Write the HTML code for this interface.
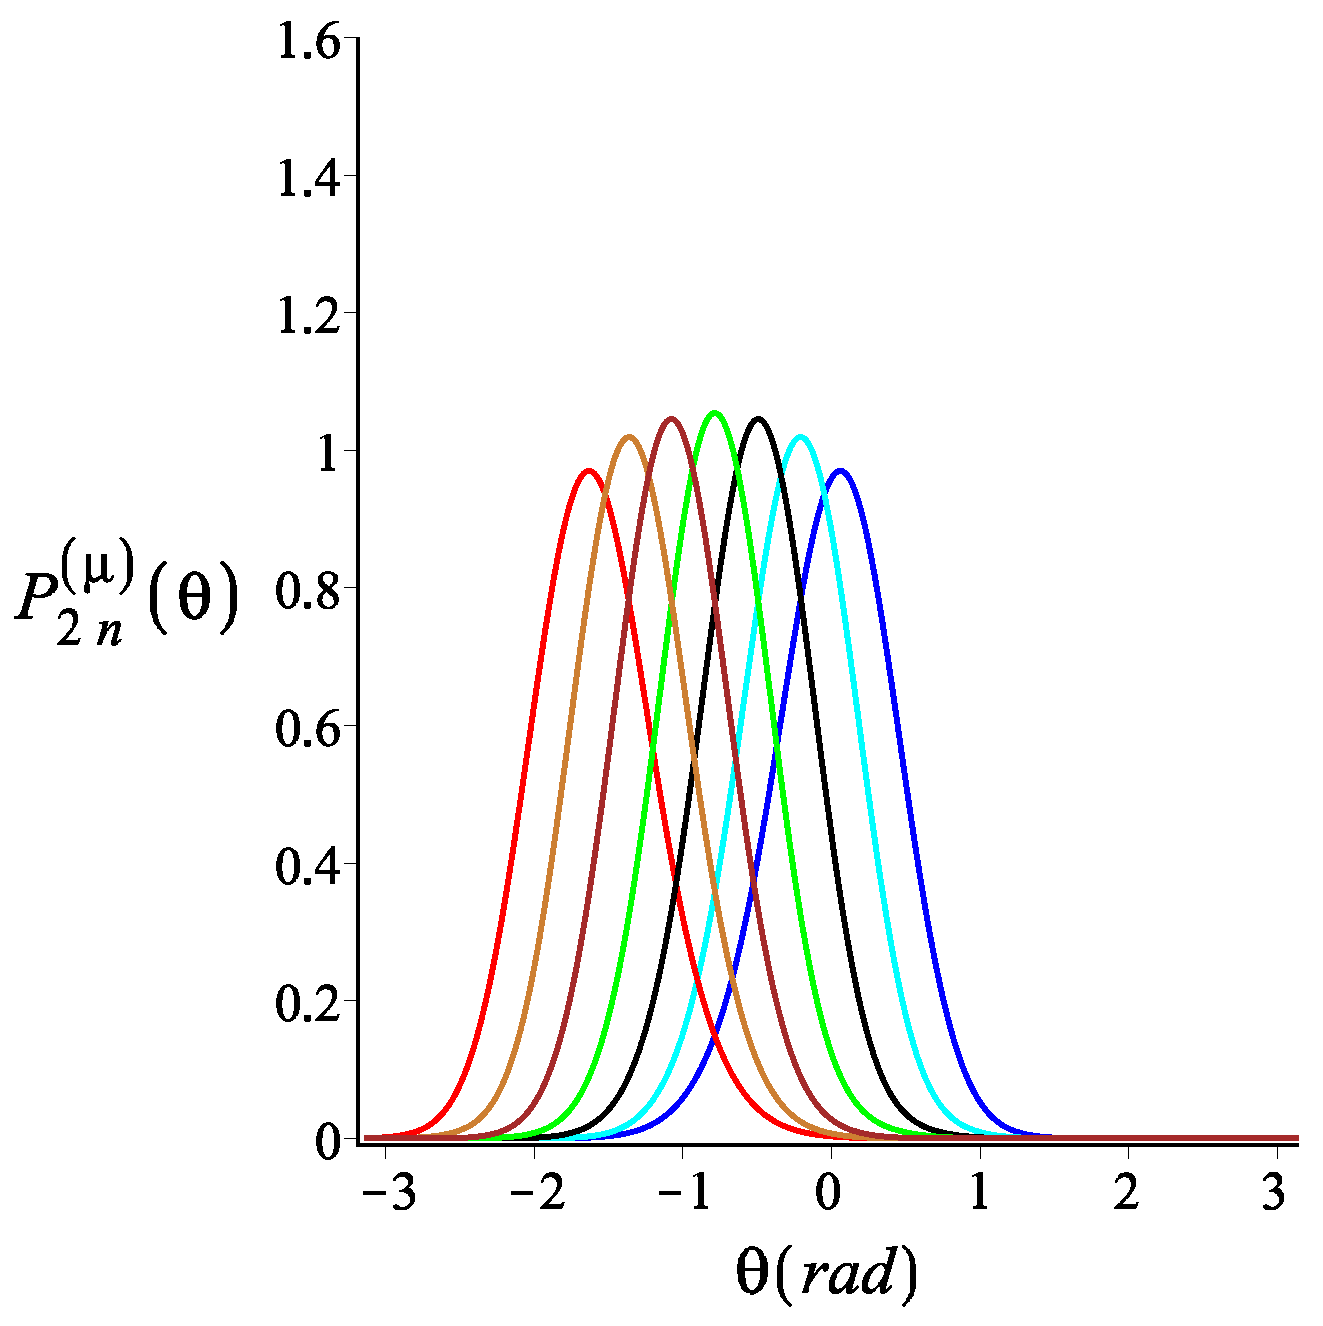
<!DOCTYPE html>
<html><head><meta charset="utf-8"><style>
html,body{margin:0;padding:0;background:#fff;}
svg{display:block;}
text{font-family:"Liberation Serif",serif;font-size:100px;}
</style></head><body>
<svg width="1323" height="1326" viewBox="0 0 1323 1326" role="img" aria-label="Plot of P 2n (mu) (theta) versus theta (rad)">
<title>P&#8322;&#8345;&#8317;&#956;&#8318;(&#952;) versus &#952;(rad)</title>
<desc>Y axis: P_2n^(&#956;)(&#952;), ticks 0, 0.2, 0.4, 0.6, 0.8, 1, 1.2, 1.4, 1.6. X axis: &#952;(rad), ticks &#8722;3, &#8722;2, &#8722;1, 0, 1, 2, 3. Seven curves: red, bronze, brown, green, black, cyan, blue.</desc>
<rect width="1323" height="1326" fill="#fff"/>
<g fill="none" stroke-width="6.0" stroke-linejoin="round" stroke-linecap="butt" shape-rendering="crispEdges">
<path d="M364.4,1138.0 425.9,1138.0 427.3,1138.0 428.7,1138.0 430.1,1138.0 431.5,1138.0 432.9,1138.0 434.4,1138.0 435.8,1138.0 437.2,1138.0 438.6,1138.0 440.0,1138.0 441.4,1138.0 442.8,1138.0 444.2,1138.0 445.6,1138.0 447.0,1138.0 448.4,1138.0 449.9,1138.0 451.3,1138.0 452.7,1138.0 454.1,1138.0 455.5,1138.0 456.9,1138.0 458.3,1138.0 459.7,1138.0 461.1,1138.0 462.5,1138.0 463.9,1138.0 465.3,1138.0 466.8,1138.0 468.2,1138.0 469.6,1138.0 471.0,1138.0 472.4,1138.0 473.8,1138.0 475.2,1138.0 476.6,1138.0 478.0,1138.0 479.4,1138.0 480.8,1138.0 482.2,1138.0 483.7,1138.0 485.1,1138.0 486.5,1138.0 487.9,1138.0 489.3,1138.0 490.7,1138.0 492.1,1138.0 493.5,1138.0 494.9,1138.0 496.3,1138.0 497.7,1138.0 499.1,1138.0 500.6,1138.0 502.0,1138.0 503.4,1138.0 504.8,1138.0 506.2,1138.0 507.6,1138.0 509.0,1138.0 510.4,1138.0 511.8,1138.0 513.2,1138.0 514.6,1138.0 516.0,1138.0 517.5,1138.0 518.9,1138.0 520.3,1138.0 521.7,1138.0 523.1,1138.0 524.5,1138.0 525.9,1138.0 527.3,1138.0 528.7,1138.0 530.1,1138.0 531.5,1138.0 532.9,1138.0 534.4,1138.0 535.8,1138.0 537.2,1138.0 538.6,1138.0 540.0,1138.0 541.4,1138.0 542.8,1138.0 544.2,1138.0 545.6,1138.0 547.0,1138.0 548.4,1138.0 549.8,1138.0 551.3,1138.0 552.7,1138.0 554.1,1138.0 555.5,1138.0 556.9,1138.0 558.3,1138.0 559.7,1138.0 561.1,1138.0 562.5,1138.0 563.9,1138.0 565.3,1138.0 566.7,1137.9 568.2,1137.9 569.6,1137.9 571.0,1137.9 572.4,1137.9 573.8,1137.9 575.2,1137.9 576.6,1137.9 578.0,1137.8 579.4,1137.8 580.8,1137.8 582.2,1137.8 583.6,1137.7 585.1,1137.7 586.5,1137.6 587.9,1137.6 589.3,1137.5 590.7,1137.5 592.1,1137.4 593.5,1137.3 594.9,1137.3 596.3,1137.2 597.7,1137.1 599.1,1137.0 600.5,1136.9 602.0,1136.8 603.4,1136.7 604.8,1136.5 606.2,1136.4 607.6,1136.3 609.0,1136.1 610.4,1135.9 611.8,1135.8 613.2,1135.6 614.6,1135.4 616.0,1135.2 617.5,1135.0 618.9,1134.8 620.3,1134.5 621.7,1134.3 623.1,1134.0 624.5,1133.8 625.9,1133.5 627.3,1133.2 628.7,1132.9 630.1,1132.5 631.5,1132.2 632.9,1131.8 634.4,1131.4 635.8,1131.0 637.2,1130.6 638.6,1130.1 640.0,1129.7 641.4,1129.1 642.8,1128.6 644.2,1128.0 645.6,1127.5 647.1,1126.8 648.5,1126.2 649.9,1125.5 651.4,1124.8 652.8,1124.0 654.3,1123.2 655.7,1122.4 657.2,1121.5 658.6,1120.6 660.1,1119.6 661.6,1118.6 663.0,1117.5 664.5,1116.4 666.0,1115.3 667.4,1114.1 668.9,1112.8 670.4,1111.5 671.9,1110.1 673.3,1108.7 674.8,1107.2 676.3,1105.6 677.8,1104.0 679.2,1102.3 680.7,1100.6 682.2,1098.7 683.7,1096.8 685.2,1094.8 686.6,1092.8 688.1,1090.6 689.6,1088.4 691.1,1086.1 692.5,1083.7 694.0,1081.2 695.5,1078.7 697.0,1076.0 698.4,1073.3 699.9,1070.4 701.4,1067.5 702.8,1064.5 704.3,1061.3 705.7,1058.1 707.2,1054.7 708.7,1051.3 710.1,1047.7 711.6,1044.1 713.0,1040.3 714.5,1036.4 715.9,1032.4 717.3,1028.3 718.8,1024.1 720.2,1019.7 721.6,1015.2 723.1,1010.7 724.5,1006.0 725.9,1001.2 727.3,996.2 728.8,991.2 730.2,986.0 731.6,980.7 733.0,975.3 734.4,969.8 735.8,964.2 737.2,958.4 738.6,952.5 740.0,946.5 741.4,940.4 742.8,934.2 744.1,927.9 745.5,921.4 746.9,914.9 748.3,908.2 749.6,901.5 751.0,894.6 752.4,887.6 753.7,880.6 755.1,873.4 756.4,866.2 757.8,858.8 759.1,851.4 760.4,843.9 761.8,836.4 763.1,828.7 764.4,821.0 765.8,813.3 767.1,805.5 768.4,797.6 769.7,789.7 771.0,781.7 772.3,773.7 773.6,765.7 775.0,757.6 776.2,749.6 777.5,741.5 778.8,733.4 780.1,725.3 781.4,717.2 782.7,709.1 784.0,701.1 785.2,693.1 786.5,685.1 787.8,677.1 789.1,669.2 790.3,661.4 791.6,653.6 792.8,645.9 794.1,638.2 795.4,630.7 796.6,623.2 797.9,615.8 799.1,608.6 800.4,601.5 801.6,594.4 802.8,587.5 804.1,580.8 805.3,574.2 806.5,567.7 807.8,561.4 809.0,555.2 810.2,549.3 811.5,543.5 812.7,537.9 813.9,532.4 815.1,527.2 816.3,522.2 817.6,517.4 818.8,512.7 820.0,508.4 821.2,504.2 822.4,500.2 823.6,496.5 824.8,493.1 826.0,489.8 827.2,486.8 828.5,484.1 829.7,481.6 830.9,479.4 832.1,477.4 833.3,475.7 834.5,474.2 835.7,473.0 836.9,472.1 838.1,471.4 839.3,471.0 840.5,470.9 841.7,471.0 842.8,471.4 844.0,472.1 845.2,473.0 846.4,474.2 847.5,475.7 848.7,477.4 849.9,479.4 851.0,481.6 852.2,484.1 853.4,486.8 854.5,489.8 855.7,493.1 856.9,496.5 858.1,500.2 859.2,504.2 860.4,508.4 861.6,512.7 862.7,517.4 863.9,522.2 865.1,527.2 866.2,532.4 867.4,537.9 868.6,543.5 869.7,549.3 870.9,555.2 872.1,561.4 873.2,567.7 874.4,574.2 875.6,580.8 876.7,587.5 877.9,594.4 879.1,601.5 880.2,608.6 881.4,615.8 882.6,623.2 883.7,630.7 884.9,638.2 886.0,645.9 887.2,653.6 888.4,661.4 889.5,669.2 890.7,677.1 891.9,685.1 893.0,693.1 894.2,701.1 895.3,709.1 896.5,717.2 897.7,725.3 898.8,733.4 900.0,741.5 901.1,749.6 902.3,757.6 903.4,765.7 904.6,773.7 905.8,781.7 906.9,789.7 908.1,797.6 909.2,805.5 910.4,813.3 911.5,821.0 912.7,828.7 913.8,836.4 915.0,843.9 916.1,851.4 917.3,858.8 918.5,866.2 919.6,873.4 920.8,880.6 921.9,887.6 923.1,894.6 924.2,901.5 925.3,908.2 926.5,914.9 927.6,921.4 928.8,927.9 929.9,934.2 931.1,940.4 932.2,946.5 933.4,952.5 934.5,958.4 935.7,964.2 936.8,969.8 938.0,975.3 939.1,980.7 940.2,986.0 941.4,991.2 942.5,996.2 943.7,1001.2 944.8,1006.0 946.0,1010.7 947.1,1015.2 948.2,1019.7 949.4,1024.1 950.5,1028.3 951.7,1032.4 952.8,1036.4 953.9,1040.3 955.1,1044.1 956.2,1047.7 957.4,1051.3 958.5,1054.7 959.6,1058.1 960.8,1061.3 961.9,1064.5 963.0,1067.5 964.2,1070.4 965.3,1073.3 966.5,1076.0 967.6,1078.7 968.7,1081.2 969.9,1083.7 971.0,1086.1 972.1,1088.4 973.3,1090.6 974.4,1092.8 975.6,1094.8 976.7,1096.8 977.8,1098.7 979.0,1100.6 980.1,1102.3 981.2,1104.0 982.4,1105.6 983.5,1107.2 984.7,1108.7 985.8,1110.1 986.9,1111.5 988.1,1112.8 989.2,1114.1 990.4,1115.3 991.5,1116.4 992.6,1117.5 993.8,1118.6 994.9,1119.6 996.1,1120.6 997.2,1121.5 998.4,1122.4 999.5,1123.2 1000.6,1124.0 1001.8,1124.8 1002.9,1125.5 1004.1,1126.2 1005.2,1126.8 1006.4,1127.5 1007.5,1128.0 1008.7,1128.6 1009.8,1129.1 1011.0,1129.7 1012.1,1130.1 1013.3,1130.6 1014.5,1131.0 1015.6,1131.4 1016.8,1131.8 1017.9,1132.2 1019.1,1132.5 1020.2,1132.9 1021.4,1133.2 1022.5,1133.5 1023.7,1133.8 1024.8,1134.0 1026.0,1134.3 1027.1,1134.5 1028.3,1134.8 1029.4,1135.0 1030.6,1135.2 1031.8,1135.4 1032.9,1135.6 1034.1,1135.8 1035.2,1135.9 1036.4,1136.1 1037.5,1136.3 1038.7,1136.4 1039.8,1136.5 1041.0,1136.7 1042.1,1136.8 1043.3,1136.9 1044.4,1137.0 1045.6,1137.1 1046.7,1137.2 1047.9,1137.3 1049.1,1137.3 1050.2,1137.4 1051.4,1137.5 1052.5,1137.5 1053.7,1137.6 1054.8,1137.6 1056.0,1137.7 1057.1,1137.7 1058.3,1137.8 1059.4,1137.8 1060.6,1137.8 1061.7,1137.8 1062.9,1137.9 1064.0,1137.9 1065.2,1137.9 1066.4,1137.9 1067.5,1137.9 1068.7,1137.9 1069.8,1137.9 1071.0,1137.9 1072.1,1138.0 1073.3,1138.0 1074.4,1138.0 1075.6,1138.0 1076.7,1138.0 1077.9,1138.0 1079.0,1138.0 1080.2,1138.0 1081.4,1138.0 1082.5,1138.0 1083.7,1138.0 1084.8,1138.0 1086.0,1138.0 1087.1,1138.0 1088.3,1138.0 1089.4,1138.0 1090.6,1138.0 1091.7,1138.0 1092.9,1138.0 1094.0,1138.0 1095.2,1138.0 1096.3,1138.0 1097.5,1138.0 1098.7,1138.0 1099.8,1138.0 1101.0,1138.0 1102.1,1138.0 1103.3,1138.0 1104.4,1138.0 1105.6,1138.0 1106.7,1138.0 1107.9,1138.0 1109.0,1138.0 1110.2,1138.0 1111.3,1138.0 1112.5,1138.0 1113.6,1138.0 1114.8,1138.0 1116.0,1138.0 1117.1,1138.0 1118.3,1138.0 1119.4,1138.0 1120.6,1138.0 1121.7,1138.0 1122.9,1138.0 1124.0,1138.0 1125.2,1138.0 1126.3,1138.0 1127.5,1138.0 1128.6,1138.0 1129.8,1138.0 1130.9,1138.0 1132.1,1138.0 1133.3,1138.0 1134.4,1138.0 1135.6,1138.0 1136.7,1138.0 1137.9,1138.0 1139.0,1138.0 1140.2,1138.0 1141.3,1138.0 1142.5,1138.0 1143.6,1138.0 1144.8,1138.0 1145.9,1138.0 1147.1,1138.0 1148.2,1138.0 1149.4,1138.0 1150.6,1138.0 1151.7,1138.0 1152.9,1138.0 1154.0,1138.0 1155.2,1138.0 1156.3,1138.0 1157.5,1138.0 1158.6,1138.0 1159.8,1138.0 1160.9,1138.0 1162.1,1138.0 1163.2,1138.0 1164.4,1138.0 1165.6,1138.0 1166.7,1138.0 1167.9,1138.0 1169.0,1138.0 1170.2,1138.0 1171.3,1138.0 1172.5,1138.0 1173.6,1138.0 1174.8,1138.0 1175.9,1138.0 1177.1,1138.0 1178.2,1138.0 1179.4,1138.0 1180.5,1138.0 1181.7,1138.0 1182.9,1138.0 1184.0,1138.0 1185.2,1138.0 1186.3,1138.0 1298.6,1138.0" stroke="#0000FF"/>
<path d="M364.4,1138.0 425.9,1138.0 427.3,1138.0 428.7,1138.0 430.1,1138.0 431.5,1138.0 432.9,1138.0 434.4,1138.0 435.8,1138.0 437.2,1138.0 438.6,1138.0 440.0,1138.0 441.4,1138.0 442.8,1138.0 444.2,1138.0 445.6,1138.0 447.0,1138.0 448.4,1138.0 449.9,1138.0 451.3,1138.0 452.7,1138.0 454.1,1138.0 455.5,1138.0 456.9,1138.0 458.3,1138.0 459.7,1138.0 461.1,1138.0 462.5,1138.0 463.9,1138.0 465.3,1138.0 466.8,1138.0 468.2,1138.0 469.6,1138.0 471.0,1138.0 472.4,1138.0 473.8,1138.0 475.2,1138.0 476.6,1138.0 478.0,1138.0 479.4,1138.0 480.8,1138.0 482.2,1138.0 483.7,1138.0 485.1,1138.0 486.5,1138.0 487.9,1138.0 489.3,1138.0 490.7,1138.0 492.1,1138.0 493.5,1138.0 494.9,1138.0 496.3,1138.0 497.7,1138.0 499.1,1138.0 500.6,1138.0 502.0,1138.0 503.4,1138.0 504.8,1138.0 506.2,1138.0 507.6,1138.0 509.0,1138.0 510.4,1138.0 511.8,1138.0 513.2,1138.0 514.6,1138.0 516.0,1138.0 517.5,1138.0 518.9,1138.0 520.3,1138.0 521.7,1138.0 523.1,1138.0 524.5,1138.0 525.9,1138.0 527.3,1138.0 528.7,1138.0 530.1,1138.0 531.5,1138.0 532.9,1138.0 534.4,1138.0 535.8,1138.0 537.2,1138.0 538.6,1138.0 540.0,1138.0 541.4,1138.0 542.8,1138.0 544.2,1138.0 545.6,1138.0 547.0,1138.0 548.4,1138.0 549.8,1138.0 551.3,1138.0 552.7,1138.0 554.1,1138.0 555.5,1138.0 556.9,1138.0 558.3,1138.0 559.7,1138.0 561.1,1138.0 562.5,1138.0 563.9,1138.0 565.3,1138.0 566.7,1137.9 568.2,1137.9 569.6,1137.9 571.0,1137.9 572.4,1137.9 573.8,1137.9 575.2,1137.9 576.6,1137.9 578.0,1137.8 579.4,1137.8 580.8,1137.8 582.2,1137.8 583.6,1137.7 585.1,1137.7 586.5,1137.6 587.9,1137.6 589.3,1137.5 590.7,1137.5 592.1,1137.4 593.5,1137.3 594.9,1137.3 596.3,1137.2 597.7,1137.1 599.1,1137.0 600.5,1136.9 602.0,1136.8 603.4,1136.7 604.8,1136.5 606.2,1136.4 607.6,1136.3 609.0,1136.1 610.4,1135.9 611.8,1135.8 613.2,1135.6 614.6,1135.4 616.0,1135.2 617.5,1135.0 618.9,1134.8 620.3,1134.5 621.7,1134.3 623.1,1134.0 624.5,1133.8 625.9,1133.5 627.3,1133.2 628.7,1132.9 630.1,1132.5 631.5,1132.2 632.9,1131.8 634.4,1131.4 635.8,1131.0 637.2,1130.6 638.6,1130.1 640.0,1129.7 641.4,1129.1 642.8,1128.6 644.2,1128.0 645.6,1127.5 647.1,1126.8 648.5,1126.2 649.9,1125.5 651.4,1124.8 652.8,1124.0 654.3,1123.2 655.7,1122.4 657.2,1121.5 658.6,1120.6 660.1,1119.6 661.6,1118.6 663.0,1117.5 664.5,1116.4 666.0,1115.3 667.4,1114.1 668.9,1112.8 670.4,1111.5 671.9,1110.1 673.3,1108.7 674.8,1107.2 676.3,1105.6 677.8,1104.0 679.2,1102.3 680.7,1100.6 682.2,1098.7 683.7,1096.8 685.2,1094.8 686.6,1092.8 688.1,1090.6 689.6,1088.4 691.1,1086.1 692.5,1083.7 694.0,1081.2 695.5,1078.7 697.0,1076.0 698.4,1073.3 699.9,1070.4 701.4,1067.5 702.8,1064.5 704.3,1061.3 705.7,1058.1 707.2,1054.7 708.7,1051.3 710.1,1047.7 711.6,1044.1 713.0,1040.3 714.5,1036.4 715.9,1032.4 717.3,1028.3 718.8,1024.1 720.2,1019.7 721.6,1015.2 723.1,1010.7 724.5,1006.0 725.9,1001.2 727.3,996.2 728.8,991.2 730.2,986.0 731.6,980.7 733.0,975.3 734.4,969.8 735.8,964.2 737.2,958.4 738.6,952.5 740.0,946.5 741.4,940.4 742.8,934.2 744.1,927.9 745.5,921.4 746.9,914.9 748.3,908.2 749.6,901.5 751.0,894.6 752.4,887.6 753.7,880.6 755.1,873.4 756.4,866.2 757.8,858.8 759.1,851.4 760.4,843.9 761.8,836.4 763.1,828.7 764.4,821.0 765.8,813.3 767.1,805.5 768.4,797.6 769.7,789.7 771.0,781.7 772.3,773.7 773.6,765.7 775.0,757.6 776.2,749.6 777.5,741.5 778.8,733.4 780.1,725.3 781.4,717.2 782.7,709.1 784.0,701.1 785.2,693.1 786.5,685.1 787.8,677.1 789.1,669.2 790.3,661.4 791.6,653.6 792.8,645.9 794.1,638.2 795.4,630.7 796.6,623.2 797.9,615.8 799.1,608.6 800.4,601.5 801.6,594.4 802.8,587.5 804.1,580.8 805.3,574.2 806.5,567.7 807.8,561.4 809.0,555.2 810.2,549.3 811.5,543.5 812.7,537.9 813.9,532.4 815.1,527.2 816.3,522.2 817.6,517.4 818.8,512.7 820.0,508.4 821.2,504.2 822.4,500.2 823.6,496.5 824.8,493.1 826.0,489.8 827.2,486.8 828.5,484.1 829.7,481.6 830.9,479.4 832.1,477.4 833.3,475.7 834.5,474.2 835.7,473.0 836.9,472.1 838.1,471.4 839.3,471.0 840.5,470.9 841.7,471.0 842.8,471.4 844.0,472.1 845.2,473.0 846.4,474.2 847.5,475.7 848.7,477.4 849.9,479.4 851.0,481.6 852.2,484.1 853.4,486.8 854.5,489.8 855.7,493.1 856.9,496.5 858.1,500.2 859.2,504.2 860.4,508.4 861.6,512.7 862.7,517.4 863.9,522.2 865.1,527.2 866.2,532.4 867.4,537.9 868.6,543.5 869.7,549.3 870.9,555.2 872.1,561.4 873.2,567.7 874.4,574.2 875.6,580.8 876.7,587.5 877.9,594.4 879.1,601.5 880.2,608.6 881.4,615.8 882.6,623.2 883.7,630.7 884.9,638.2 886.0,645.9 887.2,653.6 888.4,661.4 889.5,669.2 890.7,677.1 891.9,685.1 893.0,693.1 894.2,701.1 895.3,709.1 896.5,717.2 897.7,725.3 898.8,733.4 900.0,741.5 901.1,749.6 902.3,757.6 903.4,765.7 904.6,773.7 905.8,781.7 906.9,789.7 908.1,797.6 909.2,805.5 910.4,813.3 911.5,821.0 912.7,828.7 913.8,836.4 915.0,843.9 916.1,851.4 917.3,858.8 918.5,866.2 919.6,873.4 920.8,880.6 921.9,887.6 923.1,894.6 924.2,901.5 925.3,908.2 926.5,914.9 927.6,921.4 928.8,927.9 929.9,934.2 931.1,940.4 932.2,946.5 933.4,952.5 934.5,958.4 935.7,964.2 936.8,969.8 938.0,975.3 939.1,980.7 940.2,986.0 941.4,991.2 942.5,996.2 943.7,1001.2 944.8,1006.0 946.0,1010.7 947.1,1015.2 948.2,1019.7 949.4,1024.1 950.5,1028.3 951.7,1032.4 952.8,1036.4 953.9,1040.3 955.1,1044.1 956.2,1047.7 957.4,1051.3 958.5,1054.7 959.6,1058.1 960.8,1061.3 961.9,1064.5 963.0,1067.5 964.2,1070.4 965.3,1073.3 966.5,1076.0 967.6,1078.7 968.7,1081.2 969.9,1083.7 971.0,1086.1 972.1,1088.4 973.3,1090.6 974.4,1092.8 975.6,1094.8 976.7,1096.8 977.8,1098.7 979.0,1100.6 980.1,1102.3 981.2,1104.0 982.4,1105.6 983.5,1107.2 984.7,1108.7 985.8,1110.1 986.9,1111.5 988.1,1112.8 989.2,1114.1 990.4,1115.3 991.5,1116.4 992.6,1117.5 993.8,1118.6 994.9,1119.6 996.1,1120.6 997.2,1121.5 998.4,1122.4 999.5,1123.2 1000.6,1124.0 1001.8,1124.8 1002.9,1125.5 1004.1,1126.2 1005.2,1126.8 1006.4,1127.5 1007.5,1128.0 1008.7,1128.6 1009.8,1129.1 1011.0,1129.7 1012.1,1130.1 1013.3,1130.6 1014.5,1131.0 1015.6,1131.4 1016.8,1131.8 1017.9,1132.2 1019.1,1132.5 1020.2,1132.9 1021.4,1133.2 1022.5,1133.5 1023.7,1133.8 1024.8,1134.0 1026.0,1134.3 1027.1,1134.5 1028.3,1134.8 1029.4,1135.0 1030.6,1135.2 1031.8,1135.4 1032.9,1135.6 1034.1,1135.8 1035.2,1135.9 1036.4,1136.1 1037.5,1136.3 1038.7,1136.4 1039.8,1136.5 1041.0,1136.7 1042.1,1136.8 1043.3,1136.9 1044.4,1137.0 1045.6,1137.1 1046.7,1137.2 1047.9,1137.3 1049.1,1137.3 1050.2,1137.4 1051.4,1137.5 1052.5,1137.5 1053.7,1137.6 1054.8,1137.6 1056.0,1137.7 1057.1,1137.7 1058.3,1137.8 1059.4,1137.8 1060.6,1137.8 1061.7,1137.8 1062.9,1137.9 1064.0,1137.9 1065.2,1137.9 1066.4,1137.9 1067.5,1137.9 1068.7,1137.9 1069.8,1137.9 1071.0,1137.9 1072.1,1138.0 1073.3,1138.0 1074.4,1138.0 1075.6,1138.0 1076.7,1138.0 1077.9,1138.0 1079.0,1138.0 1080.2,1138.0 1081.4,1138.0 1082.5,1138.0 1083.7,1138.0 1084.8,1138.0 1086.0,1138.0 1087.1,1138.0 1088.3,1138.0 1089.4,1138.0 1090.6,1138.0 1091.7,1138.0 1092.9,1138.0 1094.0,1138.0 1095.2,1138.0 1096.3,1138.0 1097.5,1138.0 1098.7,1138.0 1099.8,1138.0 1101.0,1138.0 1102.1,1138.0 1103.3,1138.0 1104.4,1138.0 1105.6,1138.0 1106.7,1138.0 1107.9,1138.0 1109.0,1138.0 1110.2,1138.0 1111.3,1138.0 1112.5,1138.0 1113.6,1138.0 1114.8,1138.0 1116.0,1138.0 1117.1,1138.0 1118.3,1138.0 1119.4,1138.0 1120.6,1138.0 1121.7,1138.0 1122.9,1138.0 1124.0,1138.0 1125.2,1138.0 1126.3,1138.0 1127.5,1138.0 1128.6,1138.0 1129.8,1138.0 1130.9,1138.0 1132.1,1138.0 1133.3,1138.0 1134.4,1138.0 1135.6,1138.0 1136.7,1138.0 1137.9,1138.0 1139.0,1138.0 1140.2,1138.0 1141.3,1138.0 1142.5,1138.0 1143.6,1138.0 1144.8,1138.0 1145.9,1138.0 1147.1,1138.0 1148.2,1138.0 1149.4,1138.0 1150.6,1138.0 1151.7,1138.0 1152.9,1138.0 1154.0,1138.0 1155.2,1138.0 1156.3,1138.0 1157.5,1138.0 1158.6,1138.0 1159.8,1138.0 1160.9,1138.0 1162.1,1138.0 1163.2,1138.0 1164.4,1138.0 1165.6,1138.0 1166.7,1138.0 1167.9,1138.0 1169.0,1138.0 1170.2,1138.0 1171.3,1138.0 1172.5,1138.0 1173.6,1138.0 1174.8,1138.0 1175.9,1138.0 1177.1,1138.0 1178.2,1138.0 1179.4,1138.0 1180.5,1138.0 1181.7,1138.0 1182.9,1138.0 1184.0,1138.0 1185.2,1138.0 1186.3,1138.0 1298.6,1138.0" stroke="#0000FF" stroke-width="2"/>
<path d="M364.4,1138.0 434.2,1138.0 435.4,1138.0 436.6,1138.0 437.9,1138.0 439.1,1138.0 440.3,1138.0 441.5,1138.0 442.7,1138.0 443.9,1138.0 445.1,1138.0 446.3,1138.0 447.6,1138.0 448.8,1138.0 450.0,1138.0 451.2,1138.0 452.4,1138.0 453.6,1138.0 454.8,1138.0 456.0,1138.0 457.3,1138.0 458.5,1138.0 459.7,1138.0 460.9,1138.0 462.1,1138.0 463.3,1138.0 464.5,1138.0 465.7,1138.0 467.0,1138.0 468.2,1138.0 469.4,1138.0 470.6,1138.0 471.8,1138.0 473.0,1138.0 474.2,1138.0 475.4,1138.0 476.7,1138.0 477.9,1138.0 479.1,1138.0 480.3,1138.0 481.5,1138.0 482.7,1138.0 483.9,1138.0 485.1,1138.0 486.4,1138.0 487.6,1138.0 488.8,1138.0 490.0,1138.0 491.2,1138.0 492.4,1138.0 493.6,1138.0 494.8,1138.0 496.1,1138.0 497.3,1138.0 498.5,1138.0 499.7,1138.0 500.9,1138.0 502.1,1138.0 503.3,1138.0 504.5,1138.0 505.8,1138.0 507.0,1138.0 508.2,1138.0 509.4,1138.0 510.6,1138.0 511.8,1138.0 513.0,1138.0 514.2,1138.0 515.5,1138.0 516.7,1138.0 517.9,1138.0 519.1,1138.0 520.3,1138.0 521.5,1138.0 522.7,1138.0 523.9,1138.0 525.2,1138.0 526.4,1138.0 527.6,1138.0 528.8,1138.0 530.0,1138.0 531.2,1138.0 532.4,1138.0 533.6,1138.0 534.9,1138.0 536.1,1138.0 537.3,1138.0 538.5,1138.0 539.7,1138.0 540.9,1138.0 542.1,1138.0 543.3,1138.0 544.6,1138.0 545.8,1138.0 547.0,1138.0 548.2,1138.0 549.4,1138.0 550.6,1138.0 551.8,1138.0 553.0,1138.0 554.3,1137.9 555.5,1137.9 556.7,1137.9 557.9,1137.9 559.1,1137.9 560.3,1137.9 561.5,1137.9 562.7,1137.9 564.0,1137.8 565.2,1137.8 566.4,1137.8 567.6,1137.8 568.8,1137.7 570.0,1137.7 571.2,1137.7 572.4,1137.6 573.7,1137.6 574.9,1137.5 576.1,1137.4 577.3,1137.4 578.5,1137.3 579.7,1137.2 580.9,1137.1 582.1,1137.0 583.4,1136.9 584.6,1136.8 585.8,1136.7 587.0,1136.6 588.2,1136.4 589.4,1136.3 590.6,1136.2 591.8,1136.0 593.0,1135.8 594.3,1135.6 595.5,1135.5 596.7,1135.3 597.9,1135.1 599.1,1134.8 600.3,1134.6 601.5,1134.4 602.7,1134.1 604.0,1133.8 605.2,1133.6 606.4,1133.3 607.6,1132.9 608.8,1132.6 610.0,1132.3 611.2,1131.9 612.4,1131.5 613.7,1131.1 614.9,1130.7 616.1,1130.2 617.3,1129.7 618.5,1129.2 619.7,1128.7 620.9,1128.1 622.2,1127.5 623.4,1126.9 624.6,1126.3 625.9,1125.6 627.1,1124.9 628.3,1124.1 629.6,1123.3 630.8,1122.5 632.1,1121.6 633.4,1120.7 634.6,1119.7 635.9,1118.7 637.2,1117.6 638.4,1116.5 639.7,1115.3 641.0,1114.1 642.3,1112.9 643.5,1111.5 644.8,1110.2 646.1,1108.7 647.4,1107.2 648.7,1105.6 650.0,1104.0 651.3,1102.3 652.6,1100.5 653.8,1098.7 655.1,1096.7 656.4,1094.7 657.7,1092.6 659.0,1090.5 660.3,1088.2 661.6,1085.9 662.9,1083.5 664.2,1081.0 665.5,1078.4 666.8,1075.7 668.1,1072.9 669.4,1070.0 670.7,1067.0 672.0,1063.9 673.3,1060.7 674.6,1057.4 675.9,1054.0 677.2,1050.5 678.5,1046.9 679.8,1043.1 681.1,1039.3 682.4,1035.3 683.6,1031.2 684.9,1027.0 686.2,1022.7 687.5,1018.3 688.8,1013.7 690.1,1009.0 691.4,1004.2 692.6,999.3 693.9,994.2 695.2,989.0 696.5,983.7 697.7,978.3 699.0,972.7 700.3,967.1 701.6,961.3 702.8,955.3 704.1,949.3 705.4,943.1 706.6,936.8 707.9,930.4 709.1,923.9 710.4,917.2 711.6,910.4 712.9,903.5 714.1,896.6 715.4,889.4 716.6,882.2 717.9,874.9 719.1,867.5 720.4,860.0 721.6,852.4 722.8,844.7 724.1,836.9 725.3,829.0 726.5,821.1 727.8,813.1 729.0,805.0 730.2,796.8 731.4,788.6 732.6,780.3 733.9,772.0 735.1,763.6 736.3,755.2 737.5,746.8 738.7,738.3 739.9,729.8 741.1,721.3 742.3,712.8 743.5,704.3 744.7,695.8 745.9,687.4 747.1,678.9 748.3,670.5 749.5,662.1 750.7,653.7 751.9,645.4 753.1,637.2 754.2,629.0 755.4,620.9 756.6,612.9 757.8,604.9 759.0,597.1 760.1,589.3 761.3,581.7 762.5,574.2 763.7,566.8 764.8,559.6 766.0,552.5 767.2,545.6 768.3,538.8 769.5,532.1 770.7,525.7 771.8,519.4 773.0,513.3 774.1,507.4 775.3,501.7 776.5,496.2 777.6,490.9 778.8,485.9 779.9,481.0 781.1,476.4 782.2,472.0 783.4,467.9 784.5,464.0 785.7,460.3 786.8,456.9 788.0,453.8 789.1,450.9 790.3,448.3 791.4,445.9 792.6,443.9 793.7,442.1 794.9,440.5 796.0,439.3 797.2,438.3 798.3,437.6 799.5,437.2 800.6,437.0 801.8,437.2 802.9,437.6 804.1,438.3 805.2,439.3 806.4,440.5 807.5,442.1 808.7,443.9 809.8,445.9 811.0,448.3 812.1,450.9 813.3,453.8 814.4,456.9 815.6,460.3 816.7,464.0 817.9,467.9 819.0,472.0 820.2,476.4 821.3,481.0 822.5,485.9 823.6,490.9 824.8,496.2 825.9,501.7 827.0,507.4 828.2,513.3 829.3,519.4 830.5,525.7 831.6,532.1 832.8,538.8 833.9,545.6 835.0,552.5 836.2,559.6 837.3,566.8 838.5,574.2 839.6,581.7 840.7,589.3 841.9,597.1 843.0,604.9 844.1,612.9 845.3,620.9 846.4,629.0 847.5,637.2 848.7,645.4 849.8,653.7 850.9,662.1 852.0,670.5 853.2,678.9 854.3,687.4 855.4,695.8 856.5,704.3 857.7,712.8 858.8,721.3 859.9,729.8 861.0,738.3 862.1,746.8 863.3,755.2 864.4,763.6 865.5,772.0 866.6,780.3 867.7,788.6 868.8,796.8 870.0,805.0 871.1,813.1 872.2,821.1 873.3,829.0 874.4,836.9 875.5,844.7 876.6,852.4 877.7,860.0 878.8,867.5 879.9,874.9 881.0,882.2 882.2,889.4 883.3,896.6 884.4,903.5 885.5,910.4 886.6,917.2 887.7,923.9 888.8,930.4 889.9,936.8 891.0,943.1 892.1,949.3 893.2,955.3 894.3,961.3 895.4,967.1 896.5,972.7 897.6,978.3 898.7,983.7 899.8,989.0 900.9,994.2 902.0,999.3 903.1,1004.2 904.3,1009.0 905.4,1013.7 906.5,1018.3 907.6,1022.7 908.7,1027.0 909.8,1031.2 910.9,1035.3 912.0,1039.3 913.2,1043.1 914.3,1046.9 915.4,1050.5 916.5,1054.0 917.6,1057.4 918.8,1060.7 919.9,1063.9 921.0,1067.0 922.2,1070.0 923.3,1072.9 924.4,1075.7 925.6,1078.4 926.7,1081.0 927.9,1083.5 929.0,1085.9 930.2,1088.2 931.3,1090.5 932.5,1092.6 933.7,1094.7 934.8,1096.7 936.0,1098.7 937.2,1100.5 938.4,1102.3 939.5,1104.0 940.7,1105.6 941.9,1107.2 943.1,1108.7 944.3,1110.2 945.5,1111.5 946.8,1112.9 948.0,1114.1 949.2,1115.3 950.5,1116.5 951.7,1117.6 952.9,1118.7 954.2,1119.7 955.5,1120.7 956.7,1121.6 958.0,1122.5 959.3,1123.3 960.6,1124.1 961.9,1124.9 963.2,1125.6 964.5,1126.3 965.9,1126.9 967.2,1127.5 968.5,1128.1 969.9,1128.7 971.3,1129.2 972.6,1129.7 974.0,1130.2 975.4,1130.7 976.7,1131.1 978.1,1131.5 979.5,1131.9 980.8,1132.3 982.2,1132.6 983.6,1132.9 984.9,1133.3 986.3,1133.6 987.7,1133.8 989.0,1134.1 990.4,1134.4 991.8,1134.6 993.1,1134.8 994.5,1135.1 995.9,1135.3 997.2,1135.5 998.6,1135.6 1000.0,1135.8 1001.3,1136.0 1002.7,1136.2 1004.0,1136.3 1005.4,1136.4 1006.8,1136.6 1008.1,1136.7 1009.5,1136.8 1010.9,1136.9 1012.2,1137.0 1013.6,1137.1 1015.0,1137.2 1016.3,1137.3 1017.7,1137.4 1019.1,1137.4 1020.4,1137.5 1021.8,1137.6 1023.2,1137.6 1024.5,1137.7 1025.9,1137.7 1027.3,1137.7 1028.6,1137.8 1030.0,1137.8 1031.4,1137.8 1032.7,1137.8 1034.1,1137.9 1035.5,1137.9 1036.8,1137.9 1038.2,1137.9 1039.6,1137.9 1040.9,1137.9 1042.3,1137.9 1043.7,1137.9 1045.0,1138.0 1046.4,1138.0 1047.7,1138.0 1049.1,1138.0 1050.5,1138.0 1051.8,1138.0 1053.2,1138.0 1054.6,1138.0 1055.9,1138.0 1057.3,1138.0 1058.7,1138.0 1060.0,1138.0 1061.4,1138.0 1062.8,1138.0 1064.1,1138.0 1065.5,1138.0 1066.9,1138.0 1068.2,1138.0 1069.6,1138.0 1071.0,1138.0 1072.3,1138.0 1073.7,1138.0 1075.1,1138.0 1076.4,1138.0 1077.8,1138.0 1079.2,1138.0 1080.5,1138.0 1081.9,1138.0 1083.3,1138.0 1084.6,1138.0 1086.0,1138.0 1087.4,1138.0 1088.7,1138.0 1090.1,1138.0 1091.5,1138.0 1092.8,1138.0 1094.2,1138.0 1095.5,1138.0 1096.9,1138.0 1098.3,1138.0 1099.6,1138.0 1101.0,1138.0 1102.4,1138.0 1103.7,1138.0 1105.1,1138.0 1106.5,1138.0 1107.8,1138.0 1109.2,1138.0 1110.6,1138.0 1111.9,1138.0 1113.3,1138.0 1114.7,1138.0 1116.0,1138.0 1117.4,1138.0 1118.8,1138.0 1120.1,1138.0 1121.5,1138.0 1122.9,1138.0 1124.2,1138.0 1125.6,1138.0 1127.0,1138.0 1128.3,1138.0 1129.7,1138.0 1131.1,1138.0 1132.4,1138.0 1133.8,1138.0 1135.2,1138.0 1136.5,1138.0 1137.9,1138.0 1139.2,1138.0 1140.6,1138.0 1142.0,1138.0 1143.3,1138.0 1144.7,1138.0 1146.1,1138.0 1147.4,1138.0 1148.8,1138.0 1150.2,1138.0 1151.5,1138.0 1152.9,1138.0 1154.3,1138.0 1155.6,1138.0 1157.0,1138.0 1158.4,1138.0 1159.7,1138.0 1161.1,1138.0 1162.5,1138.0 1163.8,1138.0 1165.2,1138.0 1166.6,1138.0 1167.9,1138.0 1169.3,1138.0 1170.7,1138.0 1172.0,1138.0 1173.4,1138.0 1174.8,1138.0 1176.1,1138.0 1177.5,1138.0 1178.9,1138.0 1298.6,1138.0" stroke="#00FFFF"/>
<path d="M364.4,1138.0 434.2,1138.0 435.4,1138.0 436.6,1138.0 437.9,1138.0 439.1,1138.0 440.3,1138.0 441.5,1138.0 442.7,1138.0 443.9,1138.0 445.1,1138.0 446.3,1138.0 447.6,1138.0 448.8,1138.0 450.0,1138.0 451.2,1138.0 452.4,1138.0 453.6,1138.0 454.8,1138.0 456.0,1138.0 457.3,1138.0 458.5,1138.0 459.7,1138.0 460.9,1138.0 462.1,1138.0 463.3,1138.0 464.5,1138.0 465.7,1138.0 467.0,1138.0 468.2,1138.0 469.4,1138.0 470.6,1138.0 471.8,1138.0 473.0,1138.0 474.2,1138.0 475.4,1138.0 476.7,1138.0 477.9,1138.0 479.1,1138.0 480.3,1138.0 481.5,1138.0 482.7,1138.0 483.9,1138.0 485.1,1138.0 486.4,1138.0 487.6,1138.0 488.8,1138.0 490.0,1138.0 491.2,1138.0 492.4,1138.0 493.6,1138.0 494.8,1138.0 496.1,1138.0 497.3,1138.0 498.5,1138.0 499.7,1138.0 500.9,1138.0 502.1,1138.0 503.3,1138.0 504.5,1138.0 505.8,1138.0 507.0,1138.0 508.2,1138.0 509.4,1138.0 510.6,1138.0 511.8,1138.0 513.0,1138.0 514.2,1138.0 515.5,1138.0 516.7,1138.0 517.9,1138.0 519.1,1138.0 520.3,1138.0 521.5,1138.0 522.7,1138.0 523.9,1138.0 525.2,1138.0 526.4,1138.0 527.6,1138.0 528.8,1138.0 530.0,1138.0 531.2,1138.0 532.4,1138.0 533.6,1138.0 534.9,1138.0 536.1,1138.0 537.3,1138.0 538.5,1138.0 539.7,1138.0 540.9,1138.0 542.1,1138.0 543.3,1138.0 544.6,1138.0 545.8,1138.0 547.0,1138.0 548.2,1138.0 549.4,1138.0 550.6,1138.0 551.8,1138.0 553.0,1138.0 554.3,1137.9 555.5,1137.9 556.7,1137.9 557.9,1137.9 559.1,1137.9 560.3,1137.9 561.5,1137.9 562.7,1137.9 564.0,1137.8 565.2,1137.8 566.4,1137.8 567.6,1137.8 568.8,1137.7 570.0,1137.7 571.2,1137.7 572.4,1137.6 573.7,1137.6 574.9,1137.5 576.1,1137.4 577.3,1137.4 578.5,1137.3 579.7,1137.2 580.9,1137.1 582.1,1137.0 583.4,1136.9 584.6,1136.8 585.8,1136.7 587.0,1136.6 588.2,1136.4 589.4,1136.3 590.6,1136.2 591.8,1136.0 593.0,1135.8 594.3,1135.6 595.5,1135.5 596.7,1135.3 597.9,1135.1 599.1,1134.8 600.3,1134.6 601.5,1134.4 602.7,1134.1 604.0,1133.8 605.2,1133.6 606.4,1133.3 607.6,1132.9 608.8,1132.6 610.0,1132.3 611.2,1131.9 612.4,1131.5 613.7,1131.1 614.9,1130.7 616.1,1130.2 617.3,1129.7 618.5,1129.2 619.7,1128.7 620.9,1128.1 622.2,1127.5 623.4,1126.9 624.6,1126.3 625.9,1125.6 627.1,1124.9 628.3,1124.1 629.6,1123.3 630.8,1122.5 632.1,1121.6 633.4,1120.7 634.6,1119.7 635.9,1118.7 637.2,1117.6 638.4,1116.5 639.7,1115.3 641.0,1114.1 642.3,1112.9 643.5,1111.5 644.8,1110.2 646.1,1108.7 647.4,1107.2 648.7,1105.6 650.0,1104.0 651.3,1102.3 652.6,1100.5 653.8,1098.7 655.1,1096.7 656.4,1094.7 657.7,1092.6 659.0,1090.5 660.3,1088.2 661.6,1085.9 662.9,1083.5 664.2,1081.0 665.5,1078.4 666.8,1075.7 668.1,1072.9 669.4,1070.0 670.7,1067.0 672.0,1063.9 673.3,1060.7 674.6,1057.4 675.9,1054.0 677.2,1050.5 678.5,1046.9 679.8,1043.1 681.1,1039.3 682.4,1035.3 683.6,1031.2 684.9,1027.0 686.2,1022.7 687.5,1018.3 688.8,1013.7 690.1,1009.0 691.4,1004.2 692.6,999.3 693.9,994.2 695.2,989.0 696.5,983.7 697.7,978.3 699.0,972.7 700.3,967.1 701.6,961.3 702.8,955.3 704.1,949.3 705.4,943.1 706.6,936.8 707.9,930.4 709.1,923.9 710.4,917.2 711.6,910.4 712.9,903.5 714.1,896.6 715.4,889.4 716.6,882.2 717.9,874.9 719.1,867.5 720.4,860.0 721.6,852.4 722.8,844.7 724.1,836.9 725.3,829.0 726.5,821.1 727.8,813.1 729.0,805.0 730.2,796.8 731.4,788.6 732.6,780.3 733.9,772.0 735.1,763.6 736.3,755.2 737.5,746.8 738.7,738.3 739.9,729.8 741.1,721.3 742.3,712.8 743.5,704.3 744.7,695.8 745.9,687.4 747.1,678.9 748.3,670.5 749.5,662.1 750.7,653.7 751.9,645.4 753.1,637.2 754.2,629.0 755.4,620.9 756.6,612.9 757.8,604.9 759.0,597.1 760.1,589.3 761.3,581.7 762.5,574.2 763.7,566.8 764.8,559.6 766.0,552.5 767.2,545.6 768.3,538.8 769.5,532.1 770.7,525.7 771.8,519.4 773.0,513.3 774.1,507.4 775.3,501.7 776.5,496.2 777.6,490.9 778.8,485.9 779.9,481.0 781.1,476.4 782.2,472.0 783.4,467.9 784.5,464.0 785.7,460.3 786.8,456.9 788.0,453.8 789.1,450.9 790.3,448.3 791.4,445.9 792.6,443.9 793.7,442.1 794.9,440.5 796.0,439.3 797.2,438.3 798.3,437.6 799.5,437.2 800.6,437.0 801.8,437.2 802.9,437.6 804.1,438.3 805.2,439.3 806.4,440.5 807.5,442.1 808.7,443.9 809.8,445.9 811.0,448.3 812.1,450.9 813.3,453.8 814.4,456.9 815.6,460.3 816.7,464.0 817.9,467.9 819.0,472.0 820.2,476.4 821.3,481.0 822.5,485.9 823.6,490.9 824.8,496.2 825.9,501.7 827.0,507.4 828.2,513.3 829.3,519.4 830.5,525.7 831.6,532.1 832.8,538.8 833.9,545.6 835.0,552.5 836.2,559.6 837.3,566.8 838.5,574.2 839.6,581.7 840.7,589.3 841.9,597.1 843.0,604.9 844.1,612.9 845.3,620.9 846.4,629.0 847.5,637.2 848.7,645.4 849.8,653.7 850.9,662.1 852.0,670.5 853.2,678.9 854.3,687.4 855.4,695.8 856.5,704.3 857.7,712.8 858.8,721.3 859.9,729.8 861.0,738.3 862.1,746.8 863.3,755.2 864.4,763.6 865.5,772.0 866.6,780.3 867.7,788.6 868.8,796.8 870.0,805.0 871.1,813.1 872.2,821.1 873.3,829.0 874.4,836.9 875.5,844.7 876.6,852.4 877.7,860.0 878.8,867.5 879.9,874.9 881.0,882.2 882.2,889.4 883.3,896.6 884.4,903.5 885.5,910.4 886.6,917.2 887.7,923.9 888.8,930.4 889.9,936.8 891.0,943.1 892.1,949.3 893.2,955.3 894.3,961.3 895.4,967.1 896.5,972.7 897.6,978.3 898.7,983.7 899.8,989.0 900.9,994.2 902.0,999.3 903.1,1004.2 904.3,1009.0 905.4,1013.7 906.5,1018.3 907.6,1022.7 908.7,1027.0 909.8,1031.2 910.9,1035.3 912.0,1039.3 913.2,1043.1 914.3,1046.9 915.4,1050.5 916.5,1054.0 917.6,1057.4 918.8,1060.7 919.9,1063.9 921.0,1067.0 922.2,1070.0 923.3,1072.9 924.4,1075.7 925.6,1078.4 926.7,1081.0 927.9,1083.5 929.0,1085.9 930.2,1088.2 931.3,1090.5 932.5,1092.6 933.7,1094.7 934.8,1096.7 936.0,1098.7 937.2,1100.5 938.4,1102.3 939.5,1104.0 940.7,1105.6 941.9,1107.2 943.1,1108.7 944.3,1110.2 945.5,1111.5 946.8,1112.9 948.0,1114.1 949.2,1115.3 950.5,1116.5 951.7,1117.6 952.9,1118.7 954.2,1119.7 955.5,1120.7 956.7,1121.6 958.0,1122.5 959.3,1123.3 960.6,1124.1 961.9,1124.9 963.2,1125.6 964.5,1126.3 965.9,1126.9 967.2,1127.5 968.5,1128.1 969.9,1128.7 971.3,1129.2 972.6,1129.7 974.0,1130.2 975.4,1130.7 976.7,1131.1 978.1,1131.5 979.5,1131.9 980.8,1132.3 982.2,1132.6 983.6,1132.9 984.9,1133.3 986.3,1133.6 987.7,1133.8 989.0,1134.1 990.4,1134.4 991.8,1134.6 993.1,1134.8 994.5,1135.1 995.9,1135.3 997.2,1135.5 998.6,1135.6 1000.0,1135.8 1001.3,1136.0 1002.7,1136.2 1004.0,1136.3 1005.4,1136.4 1006.8,1136.6 1008.1,1136.7 1009.5,1136.8 1010.9,1136.9 1012.2,1137.0 1013.6,1137.1 1015.0,1137.2 1016.3,1137.3 1017.7,1137.4 1019.1,1137.4 1020.4,1137.5 1021.8,1137.6 1023.2,1137.6 1024.5,1137.7 1025.9,1137.7 1027.3,1137.7 1028.6,1137.8 1030.0,1137.8 1031.4,1137.8 1032.7,1137.8 1034.1,1137.9 1035.5,1137.9 1036.8,1137.9 1038.2,1137.9 1039.6,1137.9 1040.9,1137.9 1042.3,1137.9 1043.7,1137.9 1045.0,1138.0 1046.4,1138.0 1047.7,1138.0 1049.1,1138.0 1050.5,1138.0 1051.8,1138.0 1053.2,1138.0 1054.6,1138.0 1055.9,1138.0 1057.3,1138.0 1058.7,1138.0 1060.0,1138.0 1061.4,1138.0 1062.8,1138.0 1064.1,1138.0 1065.5,1138.0 1066.9,1138.0 1068.2,1138.0 1069.6,1138.0 1071.0,1138.0 1072.3,1138.0 1073.7,1138.0 1075.1,1138.0 1076.4,1138.0 1077.8,1138.0 1079.2,1138.0 1080.5,1138.0 1081.9,1138.0 1083.3,1138.0 1084.6,1138.0 1086.0,1138.0 1087.4,1138.0 1088.7,1138.0 1090.1,1138.0 1091.5,1138.0 1092.8,1138.0 1094.2,1138.0 1095.5,1138.0 1096.9,1138.0 1098.3,1138.0 1099.6,1138.0 1101.0,1138.0 1102.4,1138.0 1103.7,1138.0 1105.1,1138.0 1106.5,1138.0 1107.8,1138.0 1109.2,1138.0 1110.6,1138.0 1111.9,1138.0 1113.3,1138.0 1114.7,1138.0 1116.0,1138.0 1117.4,1138.0 1118.8,1138.0 1120.1,1138.0 1121.5,1138.0 1122.9,1138.0 1124.2,1138.0 1125.6,1138.0 1127.0,1138.0 1128.3,1138.0 1129.7,1138.0 1131.1,1138.0 1132.4,1138.0 1133.8,1138.0 1135.2,1138.0 1136.5,1138.0 1137.9,1138.0 1139.2,1138.0 1140.6,1138.0 1142.0,1138.0 1143.3,1138.0 1144.7,1138.0 1146.1,1138.0 1147.4,1138.0 1148.8,1138.0 1150.2,1138.0 1151.5,1138.0 1152.9,1138.0 1154.3,1138.0 1155.6,1138.0 1157.0,1138.0 1158.4,1138.0 1159.7,1138.0 1161.1,1138.0 1162.5,1138.0 1163.8,1138.0 1165.2,1138.0 1166.6,1138.0 1167.9,1138.0 1169.3,1138.0 1170.7,1138.0 1172.0,1138.0 1173.4,1138.0 1174.8,1138.0 1176.1,1138.0 1177.5,1138.0 1178.9,1138.0 1298.6,1138.0" stroke="#00FFFF" stroke-width="2"/>
<path d="M364.4,1138.0 366.4,1137.9 367.5,1137.9 368.6,1137.9 369.7,1137.9 370.8,1137.9 372.0,1137.8 373.1,1137.8 374.2,1137.8 375.3,1137.8 376.4,1137.7 377.5,1137.7 378.6,1137.6 379.8,1137.6 380.9,1137.5 382.0,1137.5 383.1,1137.4 384.2,1137.3 385.3,1137.3 386.5,1137.2 387.6,1137.1 388.7,1137.0 389.8,1136.9 390.9,1136.8 392.0,1136.7 393.1,1136.5 394.3,1136.4 395.4,1136.3 396.5,1136.1 397.6,1135.9 398.7,1135.8 399.8,1135.6 400.9,1135.4 402.1,1135.2 403.2,1135.0 404.3,1134.8 405.4,1134.5 406.5,1134.3 407.6,1134.0 408.8,1133.8 409.9,1133.5 411.0,1133.2 412.1,1132.9 413.2,1132.5 414.3,1132.2 415.4,1131.8 416.6,1131.4 417.7,1131.0 418.8,1130.6 419.9,1130.1 421.0,1129.7 422.1,1129.1 423.2,1128.6 424.4,1128.0 425.5,1127.5 426.6,1126.8 427.7,1126.2 428.8,1125.5 429.9,1124.8 431.0,1124.0 432.1,1123.2 433.2,1122.4 434.3,1121.5 435.4,1120.6 436.5,1119.6 437.6,1118.6 438.7,1117.5 439.8,1116.4 440.9,1115.3 442.0,1114.1 443.1,1112.8 444.1,1111.5 445.2,1110.1 446.3,1108.7 447.4,1107.2 448.5,1105.6 449.6,1104.0 450.7,1102.3 451.8,1100.6 452.9,1098.7 454.0,1096.8 455.1,1094.8 456.1,1092.8 457.2,1090.6 458.3,1088.4 459.4,1086.1 460.5,1083.7 461.6,1081.2 462.7,1078.7 463.8,1076.0 464.9,1073.3 466.0,1070.4 467.1,1067.5 468.2,1064.5 469.3,1061.3 470.4,1058.1 471.5,1054.7 472.6,1051.3 473.7,1047.7 474.8,1044.1 475.9,1040.3 477.0,1036.4 478.1,1032.4 479.2,1028.3 480.3,1024.1 481.4,1019.7 482.5,1015.2 483.6,1010.7 484.7,1006.0 485.8,1001.2 486.9,996.2 488.0,991.2 489.2,986.0 490.3,980.7 491.4,975.3 492.5,969.8 493.6,964.2 494.7,958.4 495.9,952.5 497.0,946.5 498.1,940.4 499.2,934.2 500.4,927.9 501.5,921.4 502.6,914.9 503.7,908.2 504.9,901.5 506.0,894.6 507.1,887.6 508.3,880.6 509.4,873.4 510.5,866.2 511.7,858.8 512.8,851.4 514.0,843.9 515.1,836.4 516.2,828.7 517.4,821.0 518.5,813.3 519.7,805.5 520.8,797.6 522.0,789.7 523.1,781.7 524.3,773.7 525.4,765.7 526.6,757.6 527.7,749.6 528.9,741.5 530.1,733.4 531.2,725.3 532.4,717.2 533.5,709.1 534.7,701.1 535.9,693.1 537.0,685.1 538.2,677.1 539.4,669.2 540.5,661.4 541.7,653.6 542.9,645.9 544.0,638.2 545.2,630.7 546.4,623.2 547.6,615.8 548.7,608.6 549.9,601.5 551.1,594.4 552.3,587.5 553.4,580.8 554.6,574.2 555.8,567.7 557.0,561.4 558.1,555.2 559.3,549.3 560.5,543.5 561.7,537.9 562.9,532.4 564.1,527.2 565.2,522.2 566.4,517.4 567.6,512.7 568.8,508.4 570.0,504.2 571.2,500.2 572.4,496.5 573.5,493.1 574.7,489.8 575.9,486.8 577.1,484.1 578.3,481.6 579.5,479.4 580.7,477.4 581.9,475.7 583.1,474.2 584.2,473.0 585.4,472.1 586.6,471.4 587.8,471.0 589.0,470.9 590.2,471.0 591.4,471.4 592.6,472.1 593.8,473.0 595.0,474.2 596.2,475.7 597.4,477.4 598.6,479.4 599.8,481.6 601.0,484.1 602.2,486.8 603.4,489.8 604.6,493.1 605.8,496.5 607.0,500.2 608.2,504.2 609.4,508.4 610.6,512.7 611.8,517.4 613.0,522.2 614.2,527.2 615.4,532.4 616.6,537.9 617.9,543.5 619.1,549.3 620.3,555.2 621.5,561.4 622.7,567.7 624.0,574.2 625.2,580.8 626.4,587.5 627.7,594.4 628.9,601.5 630.1,608.6 631.4,615.8 632.6,623.2 633.9,630.7 635.1,638.2 636.4,645.9 637.6,653.6 638.9,661.4 640.1,669.2 641.4,677.1 642.6,685.1 643.9,693.1 645.2,701.1 646.5,709.1 647.7,717.2 649.0,725.3 650.3,733.4 651.6,741.5 652.9,749.6 654.2,757.6 655.5,765.7 656.8,773.7 658.1,781.7 659.4,789.7 660.7,797.6 662.0,805.5 663.4,813.3 664.7,821.0 666.0,828.7 667.3,836.4 668.7,843.9 670.0,851.4 671.4,858.8 672.7,866.2 674.1,873.4 675.4,880.6 676.8,887.6 678.1,894.6 679.5,901.5 680.9,908.2 682.3,914.9 683.6,921.4 685.0,927.9 686.4,934.2 687.8,940.4 689.2,946.5 690.6,952.5 692.0,958.4 693.4,964.2 694.8,969.8 696.3,975.3 697.7,980.7 699.1,986.0 700.5,991.2 702.0,996.2 703.4,1001.2 704.9,1006.0 706.3,1010.7 707.8,1015.2 709.2,1019.7 710.7,1024.1 712.1,1028.3 713.6,1032.4 715.1,1036.4 716.6,1040.3 718.0,1044.1 719.5,1047.7 721.0,1051.3 722.5,1054.7 724.0,1058.1 725.5,1061.3 727.0,1064.5 728.5,1067.5 730.0,1070.4 731.5,1073.3 733.0,1076.0 734.6,1078.7 736.1,1081.2 737.6,1083.7 739.1,1086.1 740.7,1088.4 742.2,1090.6 743.7,1092.8 745.3,1094.8 746.8,1096.8 748.4,1098.7 749.9,1100.6 751.5,1102.3 753.0,1104.0 754.6,1105.6 756.1,1107.2 757.7,1108.7 759.2,1110.1 760.8,1111.5 762.4,1112.8 763.9,1114.1 765.5,1115.3 767.1,1116.4 768.6,1117.5 770.2,1118.6 771.8,1119.6 773.3,1120.6 774.9,1121.5 776.5,1122.4 778.0,1123.2 779.6,1124.0 781.2,1124.8 782.8,1125.5 784.3,1126.2 785.9,1126.8 787.5,1127.5 789.0,1128.0 790.6,1128.6 792.2,1129.1 793.7,1129.7 795.3,1130.1 796.9,1130.6 798.4,1131.0 800.0,1131.4 801.6,1131.8 803.1,1132.2 804.7,1132.5 806.2,1132.9 807.8,1133.2 809.4,1133.5 810.9,1133.8 812.5,1134.0 814.1,1134.3 815.6,1134.5 817.2,1134.8 818.8,1135.0 820.3,1135.2 821.9,1135.4 823.5,1135.6 825.0,1135.8 826.6,1135.9 828.2,1136.1 829.7,1136.3 831.3,1136.4 832.8,1136.5 834.4,1136.7 836.0,1136.8 837.5,1136.9 839.1,1137.0 840.7,1137.1 842.2,1137.2 843.8,1137.3 845.4,1137.3 846.9,1137.4 848.5,1137.5 850.1,1137.5 851.6,1137.6 853.2,1137.6 854.7,1137.7 856.3,1137.7 857.9,1137.8 859.4,1137.8 861.0,1137.8 862.6,1137.8 864.1,1137.9 865.7,1137.9 867.3,1137.9 868.8,1137.9 870.4,1137.9 872.0,1137.9 873.5,1137.9 875.1,1137.9 876.7,1138.0 878.2,1138.0 879.8,1138.0 881.3,1138.0 882.9,1138.0 884.5,1138.0 886.0,1138.0 887.6,1138.0 889.2,1138.0 890.7,1138.0 892.3,1138.0 893.9,1138.0 895.4,1138.0 897.0,1138.0 898.6,1138.0 900.1,1138.0 901.7,1138.0 903.2,1138.0 904.8,1138.0 906.4,1138.0 907.9,1138.0 909.5,1138.0 911.1,1138.0 912.6,1138.0 914.2,1138.0 915.8,1138.0 917.3,1138.0 918.9,1138.0 920.5,1138.0 922.0,1138.0 923.6,1138.0 925.2,1138.0 926.7,1138.0 928.3,1138.0 929.8,1138.0 931.4,1138.0 933.0,1138.0 934.5,1138.0 936.1,1138.0 937.7,1138.0 939.2,1138.0 940.8,1138.0 942.4,1138.0 943.9,1138.0 945.5,1138.0 947.1,1138.0 948.6,1138.0 950.2,1138.0 951.8,1138.0 953.3,1138.0 954.9,1138.0 956.4,1138.0 958.0,1138.0 959.6,1138.0 961.1,1138.0 962.7,1138.0 964.3,1138.0 965.8,1138.0 967.4,1138.0 969.0,1138.0 970.5,1138.0 972.1,1138.0 973.7,1138.0 975.2,1138.0 976.8,1138.0 978.3,1138.0 979.9,1138.0 981.5,1138.0 983.0,1138.0 984.6,1138.0 986.2,1138.0 987.7,1138.0 989.3,1138.0 990.9,1138.0 992.4,1138.0 994.0,1138.0 995.6,1138.0 997.1,1138.0 998.7,1138.0 1000.3,1138.0 1001.8,1138.0 1003.4,1138.0 1004.9,1138.0 1006.5,1138.0 1008.1,1138.0 1009.6,1138.0 1011.2,1138.0 1012.8,1138.0 1014.3,1138.0 1015.9,1138.0 1017.5,1138.0 1019.0,1138.0 1020.6,1138.0 1022.2,1138.0 1023.7,1138.0 1025.3,1138.0 1026.9,1138.0 1028.4,1138.0 1030.0,1138.0 1031.5,1138.0 1298.6,1138.0" stroke="#FF0000"/>
<path d="M364.4,1138.0 366.4,1137.9 367.5,1137.9 368.6,1137.9 369.7,1137.9 370.8,1137.9 372.0,1137.8 373.1,1137.8 374.2,1137.8 375.3,1137.8 376.4,1137.7 377.5,1137.7 378.6,1137.6 379.8,1137.6 380.9,1137.5 382.0,1137.5 383.1,1137.4 384.2,1137.3 385.3,1137.3 386.5,1137.2 387.6,1137.1 388.7,1137.0 389.8,1136.9 390.9,1136.8 392.0,1136.7 393.1,1136.5 394.3,1136.4 395.4,1136.3 396.5,1136.1 397.6,1135.9 398.7,1135.8 399.8,1135.6 400.9,1135.4 402.1,1135.2 403.2,1135.0 404.3,1134.8 405.4,1134.5 406.5,1134.3 407.6,1134.0 408.8,1133.8 409.9,1133.5 411.0,1133.2 412.1,1132.9 413.2,1132.5 414.3,1132.2 415.4,1131.8 416.6,1131.4 417.7,1131.0 418.8,1130.6 419.9,1130.1 421.0,1129.7 422.1,1129.1 423.2,1128.6 424.4,1128.0 425.5,1127.5 426.6,1126.8 427.7,1126.2 428.8,1125.5 429.9,1124.8 431.0,1124.0 432.1,1123.2 433.2,1122.4 434.3,1121.5 435.4,1120.6 436.5,1119.6 437.6,1118.6 438.7,1117.5 439.8,1116.4 440.9,1115.3 442.0,1114.1 443.1,1112.8 444.1,1111.5 445.2,1110.1 446.3,1108.7 447.4,1107.2 448.5,1105.6 449.6,1104.0 450.7,1102.3 451.8,1100.6 452.9,1098.7 454.0,1096.8 455.1,1094.8 456.1,1092.8 457.2,1090.6 458.3,1088.4 459.4,1086.1 460.5,1083.7 461.6,1081.2 462.7,1078.7 463.8,1076.0 464.9,1073.3 466.0,1070.4 467.1,1067.5 468.2,1064.5 469.3,1061.3 470.4,1058.1 471.5,1054.7 472.6,1051.3 473.7,1047.7 474.8,1044.1 475.9,1040.3 477.0,1036.4 478.1,1032.4 479.2,1028.3 480.3,1024.1 481.4,1019.7 482.5,1015.2 483.6,1010.7 484.7,1006.0 485.8,1001.2 486.9,996.2 488.0,991.2 489.2,986.0 490.3,980.7 491.4,975.3 492.5,969.8 493.6,964.2 494.7,958.4 495.9,952.5 497.0,946.5 498.1,940.4 499.2,934.2 500.4,927.9 501.5,921.4 502.6,914.9 503.7,908.2 504.9,901.5 506.0,894.6 507.1,887.6 508.3,880.6 509.4,873.4 510.5,866.2 511.7,858.8 512.8,851.4 514.0,843.9 515.1,836.4 516.2,828.7 517.4,821.0 518.5,813.3 519.7,805.5 520.8,797.6 522.0,789.7 523.1,781.7 524.3,773.7 525.4,765.7 526.6,757.6 527.7,749.6 528.9,741.5 530.1,733.4 531.2,725.3 532.4,717.2 533.5,709.1 534.7,701.1 535.9,693.1 537.0,685.1 538.2,677.1 539.4,669.2 540.5,661.4 541.7,653.6 542.9,645.9 544.0,638.2 545.2,630.7 546.4,623.2 547.6,615.8 548.7,608.6 549.9,601.5 551.1,594.4 552.3,587.5 553.4,580.8 554.6,574.2 555.8,567.7 557.0,561.4 558.1,555.2 559.3,549.3 560.5,543.5 561.7,537.9 562.9,532.4 564.1,527.2 565.2,522.2 566.4,517.4 567.6,512.7 568.8,508.4 570.0,504.2 571.2,500.2 572.4,496.5 573.5,493.1 574.7,489.8 575.9,486.8 577.1,484.1 578.3,481.6 579.5,479.4 580.7,477.4 581.9,475.7 583.1,474.2 584.2,473.0 585.4,472.1 586.6,471.4 587.8,471.0 589.0,470.9 590.2,471.0 591.4,471.4 592.6,472.1 593.8,473.0 595.0,474.2 596.2,475.7 597.4,477.4 598.6,479.4 599.8,481.6 601.0,484.1 602.2,486.8 603.4,489.8 604.6,493.1 605.8,496.5 607.0,500.2 608.2,504.2 609.4,508.4 610.6,512.7 611.8,517.4 613.0,522.2 614.2,527.2 615.4,532.4 616.6,537.9 617.9,543.5 619.1,549.3 620.3,555.2 621.5,561.4 622.7,567.7 624.0,574.2 625.2,580.8 626.4,587.5 627.7,594.4 628.9,601.5 630.1,608.6 631.4,615.8 632.6,623.2 633.9,630.7 635.1,638.2 636.4,645.9 637.6,653.6 638.9,661.4 640.1,669.2 641.4,677.1 642.6,685.1 643.9,693.1 645.2,701.1 646.5,709.1 647.7,717.2 649.0,725.3 650.3,733.4 651.6,741.5 652.9,749.6 654.2,757.6 655.5,765.7 656.8,773.7 658.1,781.7 659.4,789.7 660.7,797.6 662.0,805.5 663.4,813.3 664.7,821.0 666.0,828.7 667.3,836.4 668.7,843.9 670.0,851.4 671.4,858.8 672.7,866.2 674.1,873.4 675.4,880.6 676.8,887.6 678.1,894.6 679.5,901.5 680.9,908.2 682.3,914.9 683.6,921.4 685.0,927.9 686.4,934.2 687.8,940.4 689.2,946.5 690.6,952.5 692.0,958.4 693.4,964.2 694.8,969.8 696.3,975.3 697.7,980.7 699.1,986.0 700.5,991.2 702.0,996.2 703.4,1001.2 704.9,1006.0 706.3,1010.7 707.8,1015.2 709.2,1019.7 710.7,1024.1 712.1,1028.3 713.6,1032.4 715.1,1036.4 716.6,1040.3 718.0,1044.1 719.5,1047.7 721.0,1051.3 722.5,1054.7 724.0,1058.1 725.5,1061.3 727.0,1064.5 728.5,1067.5 730.0,1070.4 731.5,1073.3 733.0,1076.0 734.6,1078.7 736.1,1081.2 737.6,1083.7 739.1,1086.1 740.7,1088.4 742.2,1090.6 743.7,1092.8 745.3,1094.8 746.8,1096.8 748.4,1098.7 749.9,1100.6 751.5,1102.3 753.0,1104.0 754.6,1105.6 756.1,1107.2 757.7,1108.7 759.2,1110.1 760.8,1111.5 762.4,1112.8 763.9,1114.1 765.5,1115.3 767.1,1116.4 768.6,1117.5 770.2,1118.6 771.8,1119.6 773.3,1120.6 774.9,1121.5 776.5,1122.4 778.0,1123.2 779.6,1124.0 781.2,1124.8 782.8,1125.5 784.3,1126.2 785.9,1126.8 787.5,1127.5 789.0,1128.0 790.6,1128.6 792.2,1129.1 793.7,1129.7 795.3,1130.1 796.9,1130.6 798.4,1131.0 800.0,1131.4 801.6,1131.8 803.1,1132.2 804.7,1132.5 806.2,1132.9 807.8,1133.2 809.4,1133.5 810.9,1133.8 812.5,1134.0 814.1,1134.3 815.6,1134.5 817.2,1134.8 818.8,1135.0 820.3,1135.2 821.9,1135.4 823.5,1135.6 825.0,1135.8 826.6,1135.9 828.2,1136.1 829.7,1136.3 831.3,1136.4 832.8,1136.5 834.4,1136.7 836.0,1136.8 837.5,1136.9 839.1,1137.0 840.7,1137.1 842.2,1137.2 843.8,1137.3 845.4,1137.3 846.9,1137.4 848.5,1137.5 850.1,1137.5 851.6,1137.6 853.2,1137.6 854.7,1137.7 856.3,1137.7 857.9,1137.8 859.4,1137.8 861.0,1137.8 862.6,1137.8 864.1,1137.9 865.7,1137.9 867.3,1137.9 868.8,1137.9 870.4,1137.9 872.0,1137.9 873.5,1137.9 875.1,1137.9 876.7,1138.0 878.2,1138.0 879.8,1138.0 881.3,1138.0 882.9,1138.0 884.5,1138.0 886.0,1138.0 887.6,1138.0 889.2,1138.0 890.7,1138.0 892.3,1138.0 893.9,1138.0 895.4,1138.0 897.0,1138.0 898.6,1138.0 900.1,1138.0 901.7,1138.0 903.2,1138.0 904.8,1138.0 906.4,1138.0 907.9,1138.0 909.5,1138.0 911.1,1138.0 912.6,1138.0 914.2,1138.0 915.8,1138.0 917.3,1138.0 918.9,1138.0 920.5,1138.0 922.0,1138.0 923.6,1138.0 925.2,1138.0 926.7,1138.0 928.3,1138.0 929.8,1138.0 931.4,1138.0 933.0,1138.0 934.5,1138.0 936.1,1138.0 937.7,1138.0 939.2,1138.0 940.8,1138.0 942.4,1138.0 943.9,1138.0 945.5,1138.0 947.1,1138.0 948.6,1138.0 950.2,1138.0 951.8,1138.0 953.3,1138.0 954.9,1138.0 956.4,1138.0 958.0,1138.0 959.6,1138.0 961.1,1138.0 962.7,1138.0 964.3,1138.0 965.8,1138.0 967.4,1138.0 969.0,1138.0 970.5,1138.0 972.1,1138.0 973.7,1138.0 975.2,1138.0 976.8,1138.0 978.3,1138.0 979.9,1138.0 981.5,1138.0 983.0,1138.0 984.6,1138.0 986.2,1138.0 987.7,1138.0 989.3,1138.0 990.9,1138.0 992.4,1138.0 994.0,1138.0 995.6,1138.0 997.1,1138.0 998.7,1138.0 1000.3,1138.0 1001.8,1138.0 1003.4,1138.0 1004.9,1138.0 1006.5,1138.0 1008.1,1138.0 1009.6,1138.0 1011.2,1138.0 1012.8,1138.0 1014.3,1138.0 1015.9,1138.0 1017.5,1138.0 1019.0,1138.0 1020.6,1138.0 1022.2,1138.0 1023.7,1138.0 1025.3,1138.0 1026.9,1138.0 1028.4,1138.0 1030.0,1138.0 1031.5,1138.0 1298.6,1138.0" stroke="#FF0000" stroke-width="2"/>
<path d="M364.4,1138.0 396.6,1138.0 397.8,1138.0 399.0,1138.0 400.3,1138.0 401.5,1138.0 402.7,1138.0 403.9,1138.0 405.2,1138.0 406.4,1138.0 407.6,1138.0 408.8,1138.0 410.1,1138.0 411.3,1138.0 412.5,1138.0 413.7,1138.0 415.0,1138.0 416.2,1138.0 417.4,1138.0 418.6,1138.0 419.9,1138.0 421.1,1138.0 422.3,1138.0 423.5,1138.0 424.8,1138.0 426.0,1138.0 427.2,1138.0 428.4,1138.0 429.7,1138.0 430.9,1138.0 432.1,1138.0 433.3,1138.0 434.6,1138.0 435.8,1138.0 437.0,1138.0 438.2,1138.0 439.5,1138.0 440.7,1138.0 441.9,1138.0 443.1,1138.0 444.4,1138.0 445.6,1138.0 446.8,1138.0 448.0,1138.0 449.3,1138.0 450.5,1138.0 451.7,1138.0 452.9,1138.0 454.2,1138.0 455.4,1138.0 456.6,1138.0 457.8,1138.0 459.0,1138.0 460.3,1138.0 461.5,1138.0 462.7,1138.0 463.9,1138.0 465.2,1138.0 466.4,1138.0 467.6,1138.0 468.8,1138.0 470.1,1138.0 471.3,1138.0 472.5,1138.0 473.7,1138.0 475.0,1138.0 476.2,1138.0 477.4,1138.0 478.6,1138.0 479.9,1138.0 481.1,1138.0 482.3,1138.0 483.5,1138.0 484.8,1138.0 486.0,1138.0 487.2,1138.0 488.4,1138.0 489.7,1138.0 490.9,1138.0 492.1,1138.0 493.3,1138.0 494.6,1138.0 495.8,1138.0 497.0,1138.0 498.2,1138.0 499.5,1138.0 500.7,1138.0 501.9,1138.0 503.1,1138.0 504.4,1138.0 505.6,1138.0 506.8,1138.0 508.0,1138.0 509.3,1138.0 510.5,1138.0 511.7,1138.0 512.9,1138.0 514.2,1138.0 515.4,1138.0 516.6,1138.0 517.8,1137.9 519.1,1137.9 520.3,1137.9 521.5,1137.9 522.7,1137.9 523.9,1137.9 525.2,1137.9 526.4,1137.9 527.6,1137.8 528.8,1137.8 530.1,1137.8 531.3,1137.8 532.5,1137.7 533.7,1137.7 535.0,1137.6 536.2,1137.6 537.4,1137.5 538.6,1137.5 539.9,1137.4 541.1,1137.3 542.3,1137.3 543.5,1137.2 544.8,1137.1 546.0,1137.0 547.2,1136.9 548.4,1136.8 549.7,1136.7 550.9,1136.5 552.1,1136.4 553.3,1136.2 554.6,1136.1 555.8,1135.9 557.0,1135.8 558.2,1135.6 559.5,1135.4 560.7,1135.2 561.9,1135.0 563.1,1134.7 564.4,1134.5 565.6,1134.3 566.8,1134.0 568.0,1133.7 569.3,1133.4 570.5,1133.1 571.7,1132.8 572.9,1132.5 574.2,1132.1 575.4,1131.7 576.6,1131.3 577.8,1130.9 579.1,1130.5 580.3,1130.0 581.5,1129.5 582.7,1129.0 584.0,1128.5 585.2,1127.9 586.4,1127.3 587.6,1126.6 588.9,1126.0 590.1,1125.3 591.3,1124.5 592.6,1123.7 593.8,1122.9 595.0,1122.1 596.3,1121.2 597.5,1120.2 598.8,1119.2 600.0,1118.2 601.3,1117.1 602.5,1116.0 603.8,1114.8 605.0,1113.5 606.2,1112.2 607.5,1110.9 608.7,1109.4 610.0,1108.0 611.2,1106.4 612.5,1104.8 613.7,1103.1 615.0,1101.4 616.2,1099.5 617.5,1097.6 618.7,1095.7 620.0,1093.6 621.2,1091.5 622.5,1089.3 623.7,1086.9 624.9,1084.6 626.2,1082.1 627.4,1079.5 628.7,1076.8 629.9,1074.1 631.2,1071.2 632.4,1068.2 633.6,1065.2 634.9,1062.0 636.1,1058.7 637.3,1055.3 638.6,1051.9 639.8,1048.2 641.0,1044.5 642.3,1040.7 643.5,1036.7 644.7,1032.7 646.0,1028.5 647.2,1024.2 648.4,1019.7 649.6,1015.2 650.9,1010.5 652.1,1005.7 653.3,1000.8 654.5,995.7 655.7,990.5 656.9,985.2 658.2,979.8 659.4,974.2 660.6,968.5 661.8,962.7 663.0,956.7 664.2,950.6 665.4,944.4 666.6,938.1 667.8,931.6 669.0,925.1 670.2,918.3 671.4,911.5 672.6,904.6 673.8,897.5 675.0,890.3 676.2,883.1 677.4,875.7 678.5,868.2 679.7,860.5 680.9,852.8 682.1,845.0 683.3,837.1 684.4,829.2 685.6,821.1 686.8,812.9 688.0,804.7 689.1,796.4 690.3,788.0 691.5,779.6 692.6,771.1 693.8,762.6 695.0,754.0 696.1,745.4 697.3,736.7 698.5,728.0 699.6,719.3 700.8,710.6 701.9,701.9 703.1,693.2 704.2,684.5 705.4,675.8 706.5,667.1 707.7,658.4 708.8,649.8 710.0,641.3 711.1,632.7 712.2,624.3 713.4,615.9 714.5,607.6 715.7,599.4 716.8,591.2 717.9,583.2 719.1,575.2 720.2,567.4 721.3,559.7 722.5,552.2 723.6,544.7 724.7,537.4 725.8,530.3 727.0,523.3 728.1,516.6 729.2,509.9 730.3,503.5 731.5,497.2 732.6,491.2 733.7,485.3 734.8,479.7 735.9,474.3 737.1,469.1 738.2,464.1 739.3,459.4 740.4,454.9 741.5,450.6 742.7,446.6 743.8,442.9 744.9,439.4 746.0,436.2 747.1,433.2 748.2,430.6 749.3,428.1 750.5,426.0 751.6,424.2 752.7,422.6 753.8,421.3 754.9,420.3 756.0,419.6 757.1,419.1 758.2,419.0 759.4,419.1 760.5,419.6 761.6,420.3 762.8,421.3 763.9,422.6 765.0,424.2 766.2,426.0 767.3,428.1 768.4,430.6 769.5,433.2 770.7,436.2 771.8,439.4 772.9,442.9 774.1,446.6 775.2,450.6 776.3,454.9 777.4,459.4 778.6,464.1 779.7,469.1 780.8,474.3 781.9,479.7 783.1,485.3 784.2,491.2 785.3,497.2 786.4,503.5 787.6,509.9 788.7,516.6 789.8,523.3 790.9,530.3 792.0,537.4 793.2,544.7 794.3,552.2 795.4,559.7 796.5,567.4 797.6,575.2 798.7,583.2 799.9,591.2 801.0,599.4 802.1,607.6 803.2,615.9 804.3,624.3 805.4,632.7 806.5,641.3 807.6,649.8 808.7,658.4 809.8,667.1 811.0,675.8 812.1,684.5 813.2,693.2 814.3,701.9 815.4,710.6 816.5,719.3 817.6,728.0 818.7,736.7 819.8,745.4 820.9,754.0 822.0,762.6 823.1,771.1 824.2,779.6 825.3,788.0 826.4,796.4 827.5,804.7 828.6,812.9 829.7,821.1 830.8,829.2 831.9,837.1 832.9,845.0 834.0,852.8 835.1,860.5 836.2,868.2 837.3,875.7 838.4,883.1 839.5,890.3 840.6,897.5 841.7,904.6 842.8,911.5 843.9,918.3 845.0,925.1 846.1,931.6 847.2,938.1 848.3,944.4 849.4,950.6 850.5,956.7 851.6,962.7 852.7,968.5 853.8,974.2 854.9,979.8 856.0,985.2 857.1,990.5 858.2,995.7 859.3,1000.8 860.4,1005.7 861.5,1010.5 862.7,1015.2 863.8,1019.7 864.9,1024.2 866.0,1028.5 867.1,1032.7 868.3,1036.7 869.4,1040.7 870.5,1044.5 871.7,1048.2 872.8,1051.9 873.9,1055.3 875.1,1058.7 876.2,1062.0 877.4,1065.2 878.5,1068.2 879.7,1071.2 880.9,1074.1 882.0,1076.8 883.2,1079.5 884.4,1082.1 885.5,1084.6 886.7,1086.9 887.9,1089.3 889.1,1091.5 890.3,1093.6 891.5,1095.7 892.8,1097.6 894.0,1099.5 895.2,1101.4 896.4,1103.1 897.7,1104.8 898.9,1106.4 900.2,1108.0 901.4,1109.4 902.7,1110.9 904.0,1112.2 905.3,1113.5 906.6,1114.8 907.9,1116.0 909.2,1117.1 910.5,1118.2 911.9,1119.2 913.2,1120.2 914.6,1121.2 915.9,1122.1 917.3,1122.9 918.7,1123.7 920.1,1124.5 921.5,1125.3 922.9,1126.0 924.3,1126.6 925.8,1127.3 927.3,1127.9 928.7,1128.5 930.2,1129.0 931.7,1129.5 933.2,1130.0 934.7,1130.5 936.1,1130.9 937.6,1131.3 939.1,1131.7 940.6,1132.1 942.1,1132.5 943.6,1132.8 945.0,1133.1 946.5,1133.4 948.0,1133.7 949.5,1134.0 951.0,1134.3 952.5,1134.5 953.9,1134.7 955.4,1135.0 956.9,1135.2 958.4,1135.4 959.9,1135.6 961.4,1135.8 962.8,1135.9 964.3,1136.1 965.8,1136.2 967.3,1136.4 968.8,1136.5 970.3,1136.7 971.7,1136.8 973.2,1136.9 974.7,1137.0 976.2,1137.1 977.7,1137.2 979.2,1137.3 980.6,1137.3 982.1,1137.4 983.6,1137.5 985.1,1137.5 986.6,1137.6 988.1,1137.6 989.5,1137.7 991.0,1137.7 992.5,1137.8 994.0,1137.8 995.5,1137.8 997.0,1137.8 998.4,1137.9 999.9,1137.9 1001.4,1137.9 1002.9,1137.9 1004.4,1137.9 1005.9,1137.9 1007.3,1137.9 1008.8,1137.9 1010.3,1138.0 1011.8,1138.0 1013.3,1138.0 1014.8,1138.0 1016.2,1138.0 1017.7,1138.0 1019.2,1138.0 1020.7,1138.0 1022.2,1138.0 1023.7,1138.0 1025.2,1138.0 1026.6,1138.0 1028.1,1138.0 1029.6,1138.0 1031.1,1138.0 1032.6,1138.0 1034.1,1138.0 1035.5,1138.0 1037.0,1138.0 1038.5,1138.0 1040.0,1138.0 1041.5,1138.0 1043.0,1138.0 1044.4,1138.0 1045.9,1138.0 1047.4,1138.0 1048.9,1138.0 1050.4,1138.0 1051.9,1138.0 1053.3,1138.0 1054.8,1138.0 1056.3,1138.0 1057.8,1138.0 1059.3,1138.0 1060.8,1138.0 1062.2,1138.0 1063.7,1138.0 1065.2,1138.0 1066.7,1138.0 1068.2,1138.0 1069.7,1138.0 1071.1,1138.0 1072.6,1138.0 1074.1,1138.0 1075.6,1138.0 1077.1,1138.0 1078.6,1138.0 1080.0,1138.0 1081.5,1138.0 1083.0,1138.0 1084.5,1138.0 1086.0,1138.0 1087.5,1138.0 1088.9,1138.0 1090.4,1138.0 1091.9,1138.0 1093.4,1138.0 1094.9,1138.0 1096.4,1138.0 1097.8,1138.0 1099.3,1138.0 1100.8,1138.0 1102.3,1138.0 1103.8,1138.0 1105.3,1138.0 1106.7,1138.0 1108.2,1138.0 1109.7,1138.0 1111.2,1138.0 1112.7,1138.0 1114.2,1138.0 1115.6,1138.0 1117.1,1138.0 1118.6,1138.0 1120.1,1138.0 1121.6,1138.0 1123.1,1138.0 1124.5,1138.0 1126.0,1138.0 1127.5,1138.0 1129.0,1138.0 1130.5,1138.0 1132.0,1138.0 1133.4,1138.0 1134.9,1138.0 1136.4,1138.0 1137.9,1138.0 1139.4,1138.0 1140.9,1138.0 1142.3,1138.0 1143.8,1138.0 1145.3,1138.0 1146.8,1138.0 1148.3,1138.0 1149.8,1138.0 1151.2,1138.0 1152.7,1138.0 1154.2,1138.0 1155.7,1138.0 1298.6,1138.0" stroke="#000000"/>
<path d="M364.4,1138.0 396.6,1138.0 397.8,1138.0 399.0,1138.0 400.3,1138.0 401.5,1138.0 402.7,1138.0 403.9,1138.0 405.2,1138.0 406.4,1138.0 407.6,1138.0 408.8,1138.0 410.1,1138.0 411.3,1138.0 412.5,1138.0 413.7,1138.0 415.0,1138.0 416.2,1138.0 417.4,1138.0 418.6,1138.0 419.9,1138.0 421.1,1138.0 422.3,1138.0 423.5,1138.0 424.8,1138.0 426.0,1138.0 427.2,1138.0 428.4,1138.0 429.7,1138.0 430.9,1138.0 432.1,1138.0 433.3,1138.0 434.6,1138.0 435.8,1138.0 437.0,1138.0 438.2,1138.0 439.5,1138.0 440.7,1138.0 441.9,1138.0 443.1,1138.0 444.4,1138.0 445.6,1138.0 446.8,1138.0 448.0,1138.0 449.3,1138.0 450.5,1138.0 451.7,1138.0 452.9,1138.0 454.2,1138.0 455.4,1138.0 456.6,1138.0 457.8,1138.0 459.0,1138.0 460.3,1138.0 461.5,1138.0 462.7,1138.0 463.9,1138.0 465.2,1138.0 466.4,1138.0 467.6,1138.0 468.8,1138.0 470.1,1138.0 471.3,1138.0 472.5,1138.0 473.7,1138.0 475.0,1138.0 476.2,1138.0 477.4,1138.0 478.6,1138.0 479.9,1138.0 481.1,1138.0 482.3,1138.0 483.5,1138.0 484.8,1138.0 486.0,1138.0 487.2,1138.0 488.4,1138.0 489.7,1138.0 490.9,1138.0 492.1,1138.0 493.3,1138.0 494.6,1138.0 495.8,1138.0 497.0,1138.0 498.2,1138.0 499.5,1138.0 500.7,1138.0 501.9,1138.0 503.1,1138.0 504.4,1138.0 505.6,1138.0 506.8,1138.0 508.0,1138.0 509.3,1138.0 510.5,1138.0 511.7,1138.0 512.9,1138.0 514.2,1138.0 515.4,1138.0 516.6,1138.0 517.8,1137.9 519.1,1137.9 520.3,1137.9 521.5,1137.9 522.7,1137.9 523.9,1137.9 525.2,1137.9 526.4,1137.9 527.6,1137.8 528.8,1137.8 530.1,1137.8 531.3,1137.8 532.5,1137.7 533.7,1137.7 535.0,1137.6 536.2,1137.6 537.4,1137.5 538.6,1137.5 539.9,1137.4 541.1,1137.3 542.3,1137.3 543.5,1137.2 544.8,1137.1 546.0,1137.0 547.2,1136.9 548.4,1136.8 549.7,1136.7 550.9,1136.5 552.1,1136.4 553.3,1136.2 554.6,1136.1 555.8,1135.9 557.0,1135.8 558.2,1135.6 559.5,1135.4 560.7,1135.2 561.9,1135.0 563.1,1134.7 564.4,1134.5 565.6,1134.3 566.8,1134.0 568.0,1133.7 569.3,1133.4 570.5,1133.1 571.7,1132.8 572.9,1132.5 574.2,1132.1 575.4,1131.7 576.6,1131.3 577.8,1130.9 579.1,1130.5 580.3,1130.0 581.5,1129.5 582.7,1129.0 584.0,1128.5 585.2,1127.9 586.4,1127.3 587.6,1126.6 588.9,1126.0 590.1,1125.3 591.3,1124.5 592.6,1123.7 593.8,1122.9 595.0,1122.1 596.3,1121.2 597.5,1120.2 598.8,1119.2 600.0,1118.2 601.3,1117.1 602.5,1116.0 603.8,1114.8 605.0,1113.5 606.2,1112.2 607.5,1110.9 608.7,1109.4 610.0,1108.0 611.2,1106.4 612.5,1104.8 613.7,1103.1 615.0,1101.4 616.2,1099.5 617.5,1097.6 618.7,1095.7 620.0,1093.6 621.2,1091.5 622.5,1089.3 623.7,1086.9 624.9,1084.6 626.2,1082.1 627.4,1079.5 628.7,1076.8 629.9,1074.1 631.2,1071.2 632.4,1068.2 633.6,1065.2 634.9,1062.0 636.1,1058.7 637.3,1055.3 638.6,1051.9 639.8,1048.2 641.0,1044.5 642.3,1040.7 643.5,1036.7 644.7,1032.7 646.0,1028.5 647.2,1024.2 648.4,1019.7 649.6,1015.2 650.9,1010.5 652.1,1005.7 653.3,1000.8 654.5,995.7 655.7,990.5 656.9,985.2 658.2,979.8 659.4,974.2 660.6,968.5 661.8,962.7 663.0,956.7 664.2,950.6 665.4,944.4 666.6,938.1 667.8,931.6 669.0,925.1 670.2,918.3 671.4,911.5 672.6,904.6 673.8,897.5 675.0,890.3 676.2,883.1 677.4,875.7 678.5,868.2 679.7,860.5 680.9,852.8 682.1,845.0 683.3,837.1 684.4,829.2 685.6,821.1 686.8,812.9 688.0,804.7 689.1,796.4 690.3,788.0 691.5,779.6 692.6,771.1 693.8,762.6 695.0,754.0 696.1,745.4 697.3,736.7 698.5,728.0 699.6,719.3 700.8,710.6 701.9,701.9 703.1,693.2 704.2,684.5 705.4,675.8 706.5,667.1 707.7,658.4 708.8,649.8 710.0,641.3 711.1,632.7 712.2,624.3 713.4,615.9 714.5,607.6 715.7,599.4 716.8,591.2 717.9,583.2 719.1,575.2 720.2,567.4 721.3,559.7 722.5,552.2 723.6,544.7 724.7,537.4 725.8,530.3 727.0,523.3 728.1,516.6 729.2,509.9 730.3,503.5 731.5,497.2 732.6,491.2 733.7,485.3 734.8,479.7 735.9,474.3 737.1,469.1 738.2,464.1 739.3,459.4 740.4,454.9 741.5,450.6 742.7,446.6 743.8,442.9 744.9,439.4 746.0,436.2 747.1,433.2 748.2,430.6 749.3,428.1 750.5,426.0 751.6,424.2 752.7,422.6 753.8,421.3 754.9,420.3 756.0,419.6 757.1,419.1 758.2,419.0 759.4,419.1 760.5,419.6 761.6,420.3 762.8,421.3 763.9,422.6 765.0,424.2 766.2,426.0 767.3,428.1 768.4,430.6 769.5,433.2 770.7,436.2 771.8,439.4 772.9,442.9 774.1,446.6 775.2,450.6 776.3,454.9 777.4,459.4 778.6,464.1 779.7,469.1 780.8,474.3 781.9,479.7 783.1,485.3 784.2,491.2 785.3,497.2 786.4,503.5 787.6,509.9 788.7,516.6 789.8,523.3 790.9,530.3 792.0,537.4 793.2,544.7 794.3,552.2 795.4,559.7 796.5,567.4 797.6,575.2 798.7,583.2 799.9,591.2 801.0,599.4 802.1,607.6 803.2,615.9 804.3,624.3 805.4,632.7 806.5,641.3 807.6,649.8 808.7,658.4 809.8,667.1 811.0,675.8 812.1,684.5 813.2,693.2 814.3,701.9 815.4,710.6 816.5,719.3 817.6,728.0 818.7,736.7 819.8,745.4 820.9,754.0 822.0,762.6 823.1,771.1 824.2,779.6 825.3,788.0 826.4,796.4 827.5,804.7 828.6,812.9 829.7,821.1 830.8,829.2 831.9,837.1 832.9,845.0 834.0,852.8 835.1,860.5 836.2,868.2 837.3,875.7 838.4,883.1 839.5,890.3 840.6,897.5 841.7,904.6 842.8,911.5 843.9,918.3 845.0,925.1 846.1,931.6 847.2,938.1 848.3,944.4 849.4,950.6 850.5,956.7 851.6,962.7 852.7,968.5 853.8,974.2 854.9,979.8 856.0,985.2 857.1,990.5 858.2,995.7 859.3,1000.8 860.4,1005.7 861.5,1010.5 862.7,1015.2 863.8,1019.7 864.9,1024.2 866.0,1028.5 867.1,1032.7 868.3,1036.7 869.4,1040.7 870.5,1044.5 871.7,1048.2 872.8,1051.9 873.9,1055.3 875.1,1058.7 876.2,1062.0 877.4,1065.2 878.5,1068.2 879.7,1071.2 880.9,1074.1 882.0,1076.8 883.2,1079.5 884.4,1082.1 885.5,1084.6 886.7,1086.9 887.9,1089.3 889.1,1091.5 890.3,1093.6 891.5,1095.7 892.8,1097.6 894.0,1099.5 895.2,1101.4 896.4,1103.1 897.7,1104.8 898.9,1106.4 900.2,1108.0 901.4,1109.4 902.7,1110.9 904.0,1112.2 905.3,1113.5 906.6,1114.8 907.9,1116.0 909.2,1117.1 910.5,1118.2 911.9,1119.2 913.2,1120.2 914.6,1121.2 915.9,1122.1 917.3,1122.9 918.7,1123.7 920.1,1124.5 921.5,1125.3 922.9,1126.0 924.3,1126.6 925.8,1127.3 927.3,1127.9 928.7,1128.5 930.2,1129.0 931.7,1129.5 933.2,1130.0 934.7,1130.5 936.1,1130.9 937.6,1131.3 939.1,1131.7 940.6,1132.1 942.1,1132.5 943.6,1132.8 945.0,1133.1 946.5,1133.4 948.0,1133.7 949.5,1134.0 951.0,1134.3 952.5,1134.5 953.9,1134.7 955.4,1135.0 956.9,1135.2 958.4,1135.4 959.9,1135.6 961.4,1135.8 962.8,1135.9 964.3,1136.1 965.8,1136.2 967.3,1136.4 968.8,1136.5 970.3,1136.7 971.7,1136.8 973.2,1136.9 974.7,1137.0 976.2,1137.1 977.7,1137.2 979.2,1137.3 980.6,1137.3 982.1,1137.4 983.6,1137.5 985.1,1137.5 986.6,1137.6 988.1,1137.6 989.5,1137.7 991.0,1137.7 992.5,1137.8 994.0,1137.8 995.5,1137.8 997.0,1137.8 998.4,1137.9 999.9,1137.9 1001.4,1137.9 1002.9,1137.9 1004.4,1137.9 1005.9,1137.9 1007.3,1137.9 1008.8,1137.9 1010.3,1138.0 1011.8,1138.0 1013.3,1138.0 1014.8,1138.0 1016.2,1138.0 1017.7,1138.0 1019.2,1138.0 1020.7,1138.0 1022.2,1138.0 1023.7,1138.0 1025.2,1138.0 1026.6,1138.0 1028.1,1138.0 1029.6,1138.0 1031.1,1138.0 1032.6,1138.0 1034.1,1138.0 1035.5,1138.0 1037.0,1138.0 1038.5,1138.0 1040.0,1138.0 1041.5,1138.0 1043.0,1138.0 1044.4,1138.0 1045.9,1138.0 1047.4,1138.0 1048.9,1138.0 1050.4,1138.0 1051.9,1138.0 1053.3,1138.0 1054.8,1138.0 1056.3,1138.0 1057.8,1138.0 1059.3,1138.0 1060.8,1138.0 1062.2,1138.0 1063.7,1138.0 1065.2,1138.0 1066.7,1138.0 1068.2,1138.0 1069.7,1138.0 1071.1,1138.0 1072.6,1138.0 1074.1,1138.0 1075.6,1138.0 1077.1,1138.0 1078.6,1138.0 1080.0,1138.0 1081.5,1138.0 1083.0,1138.0 1084.5,1138.0 1086.0,1138.0 1087.5,1138.0 1088.9,1138.0 1090.4,1138.0 1091.9,1138.0 1093.4,1138.0 1094.9,1138.0 1096.4,1138.0 1097.8,1138.0 1099.3,1138.0 1100.8,1138.0 1102.3,1138.0 1103.8,1138.0 1105.3,1138.0 1106.7,1138.0 1108.2,1138.0 1109.7,1138.0 1111.2,1138.0 1112.7,1138.0 1114.2,1138.0 1115.6,1138.0 1117.1,1138.0 1118.6,1138.0 1120.1,1138.0 1121.6,1138.0 1123.1,1138.0 1124.5,1138.0 1126.0,1138.0 1127.5,1138.0 1129.0,1138.0 1130.5,1138.0 1132.0,1138.0 1133.4,1138.0 1134.9,1138.0 1136.4,1138.0 1137.9,1138.0 1139.4,1138.0 1140.9,1138.0 1142.3,1138.0 1143.8,1138.0 1145.3,1138.0 1146.8,1138.0 1148.3,1138.0 1149.8,1138.0 1151.2,1138.0 1152.7,1138.0 1154.2,1138.0 1155.7,1138.0 1298.6,1138.0" stroke="#000000" stroke-width="2"/>
<path d="M364.4,1138.0 365.5,1138.0 366.7,1138.0 367.9,1138.0 369.1,1138.0 370.3,1138.0 371.5,1138.0 372.7,1138.0 373.9,1138.0 375.1,1138.0 376.3,1138.0 377.5,1138.0 378.7,1138.0 379.9,1138.0 381.1,1138.0 382.3,1138.0 383.5,1138.0 384.7,1138.0 385.9,1138.0 387.1,1138.0 388.3,1138.0 389.5,1138.0 390.7,1138.0 391.9,1138.0 393.1,1138.0 394.3,1138.0 395.5,1138.0 396.7,1138.0 397.9,1138.0 399.1,1138.0 400.3,1138.0 401.5,1138.0 402.7,1138.0 403.9,1138.0 405.1,1138.0 406.3,1138.0 407.5,1138.0 408.6,1138.0 409.8,1138.0 411.0,1138.0 412.2,1138.0 413.4,1138.0 414.6,1138.0 415.8,1138.0 417.0,1138.0 418.2,1138.0 419.4,1138.0 420.6,1138.0 421.8,1138.0 423.0,1138.0 424.2,1138.0 425.4,1138.0 426.6,1138.0 427.8,1138.0 429.0,1138.0 430.2,1138.0 431.4,1138.0 432.6,1138.0 433.8,1138.0 435.0,1138.0 436.2,1138.0 437.4,1138.0 438.6,1138.0 439.8,1138.0 441.0,1138.0 442.2,1138.0 443.4,1138.0 444.6,1138.0 445.8,1138.0 447.0,1138.0 448.2,1138.0 449.4,1138.0 450.6,1138.0 451.8,1138.0 453.0,1138.0 454.2,1138.0 455.4,1138.0 456.6,1138.0 457.8,1138.0 459.0,1138.0 460.2,1138.0 461.4,1138.0 462.6,1138.0 463.8,1138.0 465.0,1138.0 466.2,1138.0 467.4,1138.0 468.6,1138.0 469.8,1138.0 471.0,1138.0 472.2,1138.0 473.4,1138.0 474.6,1138.0 475.8,1138.0 477.0,1138.0 478.2,1138.0 479.4,1138.0 480.6,1138.0 481.8,1137.9 482.9,1137.9 484.1,1137.9 485.3,1137.9 486.5,1137.9 487.7,1137.9 488.9,1137.9 490.1,1137.9 491.3,1137.8 492.5,1137.8 493.7,1137.8 494.9,1137.7 496.1,1137.7 497.3,1137.7 498.5,1137.6 499.7,1137.6 500.9,1137.5 502.1,1137.5 503.3,1137.4 504.5,1137.3 505.7,1137.3 506.9,1137.2 508.1,1137.1 509.3,1137.0 510.5,1136.9 511.7,1136.8 512.9,1136.6 514.1,1136.5 515.3,1136.4 516.5,1136.2 517.7,1136.1 518.9,1135.9 520.1,1135.7 521.3,1135.6 522.5,1135.4 523.7,1135.2 524.9,1134.9 526.1,1134.7 527.3,1134.5 528.5,1134.2 529.7,1134.0 530.9,1133.7 532.1,1133.4 533.3,1133.1 534.5,1132.8 535.7,1132.4 536.9,1132.1 538.1,1131.7 539.3,1131.3 540.5,1130.9 541.7,1130.4 542.9,1129.9 544.1,1129.5 545.3,1128.9 546.5,1128.4 547.7,1127.8 548.9,1127.2 550.1,1126.5 551.3,1125.9 552.5,1125.1 553.6,1124.4 554.8,1123.6 556.0,1122.8 557.2,1121.9 558.4,1121.0 559.6,1120.1 560.8,1119.1 562.0,1118.0 563.2,1116.9 564.4,1115.8 565.6,1114.6 566.8,1113.3 568.0,1112.0 569.2,1110.6 570.4,1109.2 571.5,1107.7 572.7,1106.1 573.9,1104.5 575.1,1102.8 576.3,1101.1 577.5,1099.2 578.7,1097.3 579.8,1095.3 581.0,1093.2 582.2,1091.1 583.4,1088.8 584.6,1086.5 585.8,1084.1 586.9,1081.6 588.1,1079.0 589.3,1076.3 590.5,1073.5 591.6,1070.6 592.8,1067.7 594.0,1064.6 595.2,1061.4 596.3,1058.1 597.5,1054.7 598.7,1051.1 599.8,1047.5 601.0,1043.8 602.2,1039.9 603.4,1035.9 604.5,1031.8 605.7,1027.6 606.8,1023.2 608.0,1018.8 609.2,1014.2 610.3,1009.4 611.5,1004.6 612.6,999.6 613.8,994.5 615.0,989.3 616.1,983.9 617.3,978.5 618.4,972.8 619.6,967.1 620.7,961.2 621.9,955.2 623.0,949.1 624.2,942.8 625.3,936.4 626.5,929.9 627.6,923.3 628.8,916.5 629.9,909.6 631.1,902.6 632.2,895.5 633.3,888.3 634.5,880.9 635.6,873.5 636.8,865.9 637.9,858.2 639.0,850.5 640.2,842.6 641.3,834.6 642.4,826.6 643.6,818.4 644.7,810.2 645.8,801.9 647.0,793.6 648.1,785.1 649.2,776.6 650.3,768.1 651.5,759.5 652.6,750.8 653.7,742.1 654.8,733.4 656.0,724.6 657.1,715.9 658.2,707.1 659.3,698.3 660.5,689.5 661.6,680.7 662.7,671.9 663.8,663.2 664.9,654.5 666.1,645.8 667.2,637.1 668.3,628.5 669.4,620.0 670.5,611.6 671.6,603.2 672.7,594.9 673.9,586.7 675.0,578.6 676.1,570.6 677.2,562.7 678.3,554.9 679.4,547.3 680.5,539.8 681.6,532.4 682.7,525.3 683.8,518.2 685.0,511.4 686.1,504.7 687.2,498.2 688.3,491.9 689.4,485.8 690.5,479.9 691.6,474.2 692.7,468.8 693.8,463.5 694.9,458.5 696.0,453.7 697.1,449.2 698.2,444.9 699.3,440.9 700.4,437.1 701.5,433.6 702.6,430.4 703.7,427.4 704.8,424.7 705.9,422.2 707.0,420.1 708.1,418.2 709.2,416.6 710.3,415.3 711.4,414.3 712.5,413.6 713.6,413.2 714.8,413.0 715.9,413.2 717.0,413.6 718.1,414.3 719.3,415.3 720.4,416.6 721.5,418.2 722.6,420.1 723.8,422.2 724.9,424.7 726.0,427.4 727.1,430.4 728.3,433.6 729.4,437.1 730.5,440.9 731.6,444.9 732.8,449.2 733.9,453.7 735.0,458.5 736.1,463.5 737.3,468.8 738.4,474.2 739.5,479.9 740.6,485.8 741.7,491.9 742.9,498.2 744.0,504.7 745.1,511.4 746.2,518.2 747.4,525.3 748.5,532.4 749.6,539.8 750.7,547.3 751.8,554.9 752.9,562.7 754.1,570.6 755.2,578.6 756.3,586.7 757.4,594.9 758.5,603.2 759.6,611.6 760.7,620.0 761.9,628.5 763.0,637.1 764.1,645.8 765.2,654.5 766.3,663.2 767.4,671.9 768.5,680.7 769.6,689.5 770.8,698.3 771.9,707.1 773.0,715.9 774.1,724.6 775.2,733.4 776.3,742.1 777.4,750.8 778.5,759.5 779.6,768.1 780.7,776.6 781.9,785.1 783.0,793.6 784.1,801.9 785.2,810.2 786.3,818.4 787.4,826.6 788.5,834.6 789.6,842.6 790.7,850.5 791.9,858.2 793.0,865.9 794.1,873.5 795.2,880.9 796.3,888.3 797.4,895.5 798.6,902.6 799.7,909.6 800.8,916.5 801.9,923.3 803.0,929.9 804.2,936.4 805.3,942.8 806.4,949.1 807.6,955.2 808.7,961.2 809.8,967.1 811.0,972.8 812.1,978.5 813.2,983.9 814.4,989.3 815.5,994.5 816.7,999.6 817.8,1004.6 819.0,1009.4 820.1,1014.2 821.3,1018.8 822.5,1023.2 823.6,1027.6 824.8,1031.8 826.0,1035.9 827.2,1039.9 828.4,1043.8 829.5,1047.5 830.7,1051.1 831.9,1054.7 833.1,1058.1 834.4,1061.4 835.6,1064.6 836.8,1067.7 838.0,1070.6 839.3,1073.5 840.5,1076.3 841.7,1079.0 843.0,1081.6 844.3,1084.1 845.5,1086.5 846.8,1088.8 848.1,1091.1 849.4,1093.2 850.7,1095.3 852.0,1097.3 853.3,1099.2 854.6,1101.1 855.9,1102.8 857.3,1104.5 858.6,1106.1 860.0,1107.7 861.4,1109.2 862.8,1110.6 864.2,1112.0 865.6,1113.3 867.0,1114.6 868.4,1115.8 869.8,1116.9 871.3,1118.0 872.8,1119.1 874.2,1120.1 875.7,1121.0 877.2,1121.9 878.8,1122.8 880.3,1123.6 881.8,1124.4 883.4,1125.1 885.0,1125.9 886.6,1126.5 888.2,1127.2 889.8,1127.8 891.5,1128.4 893.1,1128.9 894.8,1129.5 896.5,1129.9 898.1,1130.4 899.8,1130.9 901.4,1131.3 903.1,1131.7 904.8,1132.1 906.4,1132.4 908.1,1132.8 909.7,1133.1 911.4,1133.4 913.0,1133.7 914.7,1134.0 916.4,1134.2 918.0,1134.5 919.7,1134.7 921.3,1134.9 923.0,1135.2 924.7,1135.4 926.3,1135.6 928.0,1135.7 929.6,1135.9 931.3,1136.1 933.0,1136.2 934.6,1136.4 936.3,1136.5 937.9,1136.6 939.6,1136.8 941.3,1136.9 942.9,1137.0 944.6,1137.1 946.2,1137.2 947.9,1137.3 949.6,1137.3 951.2,1137.4 952.9,1137.5 954.5,1137.5 956.2,1137.6 957.9,1137.6 959.5,1137.7 961.2,1137.7 962.8,1137.7 964.5,1137.8 966.1,1137.8 967.8,1137.8 969.5,1137.9 971.1,1137.9 972.8,1137.9 974.4,1137.9 976.1,1137.9 977.8,1137.9 979.4,1137.9 981.1,1137.9 982.7,1138.0 984.4,1138.0 986.1,1138.0 987.7,1138.0 989.4,1138.0 991.0,1138.0 992.7,1138.0 994.4,1138.0 996.0,1138.0 997.7,1138.0 999.3,1138.0 1001.0,1138.0 1002.7,1138.0 1004.3,1138.0 1006.0,1138.0 1007.6,1138.0 1009.3,1138.0 1011.0,1138.0 1012.6,1138.0 1014.3,1138.0 1015.9,1138.0 1017.6,1138.0 1019.2,1138.0 1020.9,1138.0 1022.6,1138.0 1024.2,1138.0 1025.9,1138.0 1027.5,1138.0 1029.2,1138.0 1030.9,1138.0 1032.5,1138.0 1034.2,1138.0 1035.8,1138.0 1037.5,1138.0 1039.2,1138.0 1040.8,1138.0 1042.5,1138.0 1044.1,1138.0 1045.8,1138.0 1047.5,1138.0 1049.1,1138.0 1050.8,1138.0 1052.4,1138.0 1054.1,1138.0 1055.8,1138.0 1057.4,1138.0 1059.1,1138.0 1060.7,1138.0 1062.4,1138.0 1064.1,1138.0 1065.7,1138.0 1067.4,1138.0 1069.0,1138.0 1070.7,1138.0 1072.4,1138.0 1074.0,1138.0 1075.7,1138.0 1077.3,1138.0 1079.0,1138.0 1080.6,1138.0 1082.3,1138.0 1084.0,1138.0 1085.6,1138.0 1087.3,1138.0 1088.9,1138.0 1090.6,1138.0 1092.3,1138.0 1093.9,1138.0 1095.6,1138.0 1097.2,1138.0 1098.9,1138.0 1100.6,1138.0 1102.2,1138.0 1103.9,1138.0 1105.5,1138.0 1107.2,1138.0 1108.9,1138.0 1110.5,1138.0 1112.2,1138.0 1113.8,1138.0 1115.5,1138.0 1117.2,1138.0 1118.8,1138.0 1120.5,1138.0 1122.1,1138.0 1123.8,1138.0 1125.5,1138.0 1127.1,1138.0 1128.8,1138.0 1130.4,1138.0 1132.1,1138.0 1133.7,1138.0 1135.4,1138.0 1137.1,1138.0 1138.7,1138.0 1140.4,1138.0 1142.0,1138.0 1143.7,1138.0 1145.4,1138.0 1298.6,1138.0" stroke="#00FF00"/>
<path d="M364.4,1138.0 365.5,1138.0 366.7,1138.0 367.9,1138.0 369.1,1138.0 370.3,1138.0 371.5,1138.0 372.7,1138.0 373.9,1138.0 375.1,1138.0 376.3,1138.0 377.5,1138.0 378.7,1138.0 379.9,1138.0 381.1,1138.0 382.3,1138.0 383.5,1138.0 384.7,1138.0 385.9,1138.0 387.1,1138.0 388.3,1138.0 389.5,1138.0 390.7,1138.0 391.9,1138.0 393.1,1138.0 394.3,1138.0 395.5,1138.0 396.7,1138.0 397.9,1138.0 399.1,1138.0 400.3,1138.0 401.5,1138.0 402.7,1138.0 403.9,1138.0 405.1,1138.0 406.3,1138.0 407.5,1138.0 408.6,1138.0 409.8,1138.0 411.0,1138.0 412.2,1138.0 413.4,1138.0 414.6,1138.0 415.8,1138.0 417.0,1138.0 418.2,1138.0 419.4,1138.0 420.6,1138.0 421.8,1138.0 423.0,1138.0 424.2,1138.0 425.4,1138.0 426.6,1138.0 427.8,1138.0 429.0,1138.0 430.2,1138.0 431.4,1138.0 432.6,1138.0 433.8,1138.0 435.0,1138.0 436.2,1138.0 437.4,1138.0 438.6,1138.0 439.8,1138.0 441.0,1138.0 442.2,1138.0 443.4,1138.0 444.6,1138.0 445.8,1138.0 447.0,1138.0 448.2,1138.0 449.4,1138.0 450.6,1138.0 451.8,1138.0 453.0,1138.0 454.2,1138.0 455.4,1138.0 456.6,1138.0 457.8,1138.0 459.0,1138.0 460.2,1138.0 461.4,1138.0 462.6,1138.0 463.8,1138.0 465.0,1138.0 466.2,1138.0 467.4,1138.0 468.6,1138.0 469.8,1138.0 471.0,1138.0 472.2,1138.0 473.4,1138.0 474.6,1138.0 475.8,1138.0 477.0,1138.0 478.2,1138.0 479.4,1138.0 480.6,1138.0 481.8,1137.9 482.9,1137.9 484.1,1137.9 485.3,1137.9 486.5,1137.9 487.7,1137.9 488.9,1137.9 490.1,1137.9 491.3,1137.8 492.5,1137.8 493.7,1137.8 494.9,1137.7 496.1,1137.7 497.3,1137.7 498.5,1137.6 499.7,1137.6 500.9,1137.5 502.1,1137.5 503.3,1137.4 504.5,1137.3 505.7,1137.3 506.9,1137.2 508.1,1137.1 509.3,1137.0 510.5,1136.9 511.7,1136.8 512.9,1136.6 514.1,1136.5 515.3,1136.4 516.5,1136.2 517.7,1136.1 518.9,1135.9 520.1,1135.7 521.3,1135.6 522.5,1135.4 523.7,1135.2 524.9,1134.9 526.1,1134.7 527.3,1134.5 528.5,1134.2 529.7,1134.0 530.9,1133.7 532.1,1133.4 533.3,1133.1 534.5,1132.8 535.7,1132.4 536.9,1132.1 538.1,1131.7 539.3,1131.3 540.5,1130.9 541.7,1130.4 542.9,1129.9 544.1,1129.5 545.3,1128.9 546.5,1128.4 547.7,1127.8 548.9,1127.2 550.1,1126.5 551.3,1125.9 552.5,1125.1 553.6,1124.4 554.8,1123.6 556.0,1122.8 557.2,1121.9 558.4,1121.0 559.6,1120.1 560.8,1119.1 562.0,1118.0 563.2,1116.9 564.4,1115.8 565.6,1114.6 566.8,1113.3 568.0,1112.0 569.2,1110.6 570.4,1109.2 571.5,1107.7 572.7,1106.1 573.9,1104.5 575.1,1102.8 576.3,1101.1 577.5,1099.2 578.7,1097.3 579.8,1095.3 581.0,1093.2 582.2,1091.1 583.4,1088.8 584.6,1086.5 585.8,1084.1 586.9,1081.6 588.1,1079.0 589.3,1076.3 590.5,1073.5 591.6,1070.6 592.8,1067.7 594.0,1064.6 595.2,1061.4 596.3,1058.1 597.5,1054.7 598.7,1051.1 599.8,1047.5 601.0,1043.8 602.2,1039.9 603.4,1035.9 604.5,1031.8 605.7,1027.6 606.8,1023.2 608.0,1018.8 609.2,1014.2 610.3,1009.4 611.5,1004.6 612.6,999.6 613.8,994.5 615.0,989.3 616.1,983.9 617.3,978.5 618.4,972.8 619.6,967.1 620.7,961.2 621.9,955.2 623.0,949.1 624.2,942.8 625.3,936.4 626.5,929.9 627.6,923.3 628.8,916.5 629.9,909.6 631.1,902.6 632.2,895.5 633.3,888.3 634.5,880.9 635.6,873.5 636.8,865.9 637.9,858.2 639.0,850.5 640.2,842.6 641.3,834.6 642.4,826.6 643.6,818.4 644.7,810.2 645.8,801.9 647.0,793.6 648.1,785.1 649.2,776.6 650.3,768.1 651.5,759.5 652.6,750.8 653.7,742.1 654.8,733.4 656.0,724.6 657.1,715.9 658.2,707.1 659.3,698.3 660.5,689.5 661.6,680.7 662.7,671.9 663.8,663.2 664.9,654.5 666.1,645.8 667.2,637.1 668.3,628.5 669.4,620.0 670.5,611.6 671.6,603.2 672.7,594.9 673.9,586.7 675.0,578.6 676.1,570.6 677.2,562.7 678.3,554.9 679.4,547.3 680.5,539.8 681.6,532.4 682.7,525.3 683.8,518.2 685.0,511.4 686.1,504.7 687.2,498.2 688.3,491.9 689.4,485.8 690.5,479.9 691.6,474.2 692.7,468.8 693.8,463.5 694.9,458.5 696.0,453.7 697.1,449.2 698.2,444.9 699.3,440.9 700.4,437.1 701.5,433.6 702.6,430.4 703.7,427.4 704.8,424.7 705.9,422.2 707.0,420.1 708.1,418.2 709.2,416.6 710.3,415.3 711.4,414.3 712.5,413.6 713.6,413.2 714.8,413.0 715.9,413.2 717.0,413.6 718.1,414.3 719.3,415.3 720.4,416.6 721.5,418.2 722.6,420.1 723.8,422.2 724.9,424.7 726.0,427.4 727.1,430.4 728.3,433.6 729.4,437.1 730.5,440.9 731.6,444.9 732.8,449.2 733.9,453.7 735.0,458.5 736.1,463.5 737.3,468.8 738.4,474.2 739.5,479.9 740.6,485.8 741.7,491.9 742.9,498.2 744.0,504.7 745.1,511.4 746.2,518.2 747.4,525.3 748.5,532.4 749.6,539.8 750.7,547.3 751.8,554.9 752.9,562.7 754.1,570.6 755.2,578.6 756.3,586.7 757.4,594.9 758.5,603.2 759.6,611.6 760.7,620.0 761.9,628.5 763.0,637.1 764.1,645.8 765.2,654.5 766.3,663.2 767.4,671.9 768.5,680.7 769.6,689.5 770.8,698.3 771.9,707.1 773.0,715.9 774.1,724.6 775.2,733.4 776.3,742.1 777.4,750.8 778.5,759.5 779.6,768.1 780.7,776.6 781.9,785.1 783.0,793.6 784.1,801.9 785.2,810.2 786.3,818.4 787.4,826.6 788.5,834.6 789.6,842.6 790.7,850.5 791.9,858.2 793.0,865.9 794.1,873.5 795.2,880.9 796.3,888.3 797.4,895.5 798.6,902.6 799.7,909.6 800.8,916.5 801.9,923.3 803.0,929.9 804.2,936.4 805.3,942.8 806.4,949.1 807.6,955.2 808.7,961.2 809.8,967.1 811.0,972.8 812.1,978.5 813.2,983.9 814.4,989.3 815.5,994.5 816.7,999.6 817.8,1004.6 819.0,1009.4 820.1,1014.2 821.3,1018.8 822.5,1023.2 823.6,1027.6 824.8,1031.8 826.0,1035.9 827.2,1039.9 828.4,1043.8 829.5,1047.5 830.7,1051.1 831.9,1054.7 833.1,1058.1 834.4,1061.4 835.6,1064.6 836.8,1067.7 838.0,1070.6 839.3,1073.5 840.5,1076.3 841.7,1079.0 843.0,1081.6 844.3,1084.1 845.5,1086.5 846.8,1088.8 848.1,1091.1 849.4,1093.2 850.7,1095.3 852.0,1097.3 853.3,1099.2 854.6,1101.1 855.9,1102.8 857.3,1104.5 858.6,1106.1 860.0,1107.7 861.4,1109.2 862.8,1110.6 864.2,1112.0 865.6,1113.3 867.0,1114.6 868.4,1115.8 869.8,1116.9 871.3,1118.0 872.8,1119.1 874.2,1120.1 875.7,1121.0 877.2,1121.9 878.8,1122.8 880.3,1123.6 881.8,1124.4 883.4,1125.1 885.0,1125.9 886.6,1126.5 888.2,1127.2 889.8,1127.8 891.5,1128.4 893.1,1128.9 894.8,1129.5 896.5,1129.9 898.1,1130.4 899.8,1130.9 901.4,1131.3 903.1,1131.7 904.8,1132.1 906.4,1132.4 908.1,1132.8 909.7,1133.1 911.4,1133.4 913.0,1133.7 914.7,1134.0 916.4,1134.2 918.0,1134.5 919.7,1134.7 921.3,1134.9 923.0,1135.2 924.7,1135.4 926.3,1135.6 928.0,1135.7 929.6,1135.9 931.3,1136.1 933.0,1136.2 934.6,1136.4 936.3,1136.5 937.9,1136.6 939.6,1136.8 941.3,1136.9 942.9,1137.0 944.6,1137.1 946.2,1137.2 947.9,1137.3 949.6,1137.3 951.2,1137.4 952.9,1137.5 954.5,1137.5 956.2,1137.6 957.9,1137.6 959.5,1137.7 961.2,1137.7 962.8,1137.7 964.5,1137.8 966.1,1137.8 967.8,1137.8 969.5,1137.9 971.1,1137.9 972.8,1137.9 974.4,1137.9 976.1,1137.9 977.8,1137.9 979.4,1137.9 981.1,1137.9 982.7,1138.0 984.4,1138.0 986.1,1138.0 987.7,1138.0 989.4,1138.0 991.0,1138.0 992.7,1138.0 994.4,1138.0 996.0,1138.0 997.7,1138.0 999.3,1138.0 1001.0,1138.0 1002.7,1138.0 1004.3,1138.0 1006.0,1138.0 1007.6,1138.0 1009.3,1138.0 1011.0,1138.0 1012.6,1138.0 1014.3,1138.0 1015.9,1138.0 1017.6,1138.0 1019.2,1138.0 1020.9,1138.0 1022.6,1138.0 1024.2,1138.0 1025.9,1138.0 1027.5,1138.0 1029.2,1138.0 1030.9,1138.0 1032.5,1138.0 1034.2,1138.0 1035.8,1138.0 1037.5,1138.0 1039.2,1138.0 1040.8,1138.0 1042.5,1138.0 1044.1,1138.0 1045.8,1138.0 1047.5,1138.0 1049.1,1138.0 1050.8,1138.0 1052.4,1138.0 1054.1,1138.0 1055.8,1138.0 1057.4,1138.0 1059.1,1138.0 1060.7,1138.0 1062.4,1138.0 1064.1,1138.0 1065.7,1138.0 1067.4,1138.0 1069.0,1138.0 1070.7,1138.0 1072.4,1138.0 1074.0,1138.0 1075.7,1138.0 1077.3,1138.0 1079.0,1138.0 1080.6,1138.0 1082.3,1138.0 1084.0,1138.0 1085.6,1138.0 1087.3,1138.0 1088.9,1138.0 1090.6,1138.0 1092.3,1138.0 1093.9,1138.0 1095.6,1138.0 1097.2,1138.0 1098.9,1138.0 1100.6,1138.0 1102.2,1138.0 1103.9,1138.0 1105.5,1138.0 1107.2,1138.0 1108.9,1138.0 1110.5,1138.0 1112.2,1138.0 1113.8,1138.0 1115.5,1138.0 1117.2,1138.0 1118.8,1138.0 1120.5,1138.0 1122.1,1138.0 1123.8,1138.0 1125.5,1138.0 1127.1,1138.0 1128.8,1138.0 1130.4,1138.0 1132.1,1138.0 1133.7,1138.0 1135.4,1138.0 1137.1,1138.0 1138.7,1138.0 1140.4,1138.0 1142.0,1138.0 1143.7,1138.0 1145.4,1138.0 1298.6,1138.0" stroke="#00FF00" stroke-width="2"/>
<path d="M364.4,1138.0 366.0,1138.0 367.2,1138.0 368.5,1138.0 369.7,1138.0 371.0,1138.0 372.2,1138.0 373.4,1138.0 374.7,1138.0 375.9,1138.0 377.1,1138.0 378.4,1138.0 379.6,1138.0 380.9,1138.0 382.1,1138.0 383.3,1138.0 384.6,1138.0 385.8,1138.0 387.0,1138.0 388.3,1138.0 389.5,1138.0 390.8,1138.0 392.0,1138.0 393.2,1138.0 394.5,1138.0 395.7,1138.0 397.0,1137.9 398.2,1137.9 399.4,1137.9 400.7,1137.9 401.9,1137.9 403.1,1137.9 404.4,1137.9 405.6,1137.9 406.9,1137.8 408.1,1137.8 409.3,1137.8 410.6,1137.8 411.8,1137.7 413.0,1137.7 414.3,1137.7 415.5,1137.6 416.8,1137.6 418.0,1137.5 419.2,1137.4 420.5,1137.4 421.7,1137.3 423.0,1137.2 424.2,1137.1 425.4,1137.0 426.7,1136.9 427.9,1136.8 429.1,1136.7 430.4,1136.6 431.6,1136.4 432.9,1136.3 434.1,1136.2 435.3,1136.0 436.6,1135.8 437.8,1135.6 439.0,1135.5 440.3,1135.3 441.5,1135.1 442.8,1134.8 444.0,1134.6 445.2,1134.4 446.5,1134.1 447.7,1133.8 448.9,1133.6 450.2,1133.3 451.4,1132.9 452.7,1132.6 453.9,1132.3 455.1,1131.9 456.4,1131.5 457.6,1131.1 458.9,1130.7 460.1,1130.2 461.3,1129.7 462.6,1129.2 463.8,1128.7 465.0,1128.1 466.3,1127.5 467.5,1126.9 468.7,1126.3 469.9,1125.6 471.1,1124.9 472.3,1124.1 473.5,1123.3 474.7,1122.5 475.8,1121.6 477.0,1120.7 478.2,1119.7 479.3,1118.7 480.5,1117.6 481.6,1116.5 482.8,1115.3 483.9,1114.1 485.1,1112.9 486.2,1111.5 487.3,1110.2 488.5,1108.7 489.6,1107.2 490.7,1105.6 491.8,1104.0 493.0,1102.3 494.1,1100.5 495.2,1098.7 496.3,1096.7 497.4,1094.7 498.5,1092.6 499.6,1090.5 500.7,1088.2 501.8,1085.9 502.9,1083.5 504.0,1081.0 505.1,1078.4 506.2,1075.7 507.3,1072.9 508.3,1070.0 509.4,1067.0 510.5,1063.9 511.6,1060.7 512.7,1057.4 513.8,1054.0 514.9,1050.5 515.9,1046.9 517.0,1043.1 518.1,1039.3 519.2,1035.3 520.3,1031.2 521.3,1027.0 522.4,1022.7 523.5,1018.3 524.6,1013.7 525.7,1009.0 526.7,1004.2 527.8,999.3 528.9,994.2 530.0,989.0 531.1,983.7 532.2,978.3 533.2,972.7 534.3,967.1 535.4,961.3 536.5,955.3 537.6,949.3 538.7,943.1 539.8,936.8 540.8,930.4 541.9,923.9 543.0,917.2 544.1,910.4 545.2,903.5 546.3,896.6 547.4,889.4 548.5,882.2 549.6,874.9 550.7,867.5 551.8,860.0 552.9,852.4 554.0,844.7 555.1,836.9 556.2,829.0 557.3,821.1 558.4,813.1 559.5,805.0 560.6,796.8 561.7,788.6 562.8,780.3 563.9,772.0 565.1,763.6 566.2,755.2 567.3,746.8 568.4,738.3 569.5,729.8 570.7,721.3 571.8,712.8 572.9,704.3 574.0,695.8 575.1,687.4 576.3,678.9 577.4,670.5 578.5,662.1 579.7,653.7 580.8,645.4 581.9,637.2 583.1,629.0 584.2,620.9 585.3,612.9 586.5,604.9 587.6,597.1 588.7,589.3 589.9,581.7 591.0,574.2 592.2,566.8 593.3,559.6 594.5,552.5 595.6,545.6 596.7,538.8 597.9,532.1 599.0,525.7 600.2,519.4 601.3,513.3 602.5,507.4 603.6,501.7 604.8,496.2 605.9,490.9 607.1,485.9 608.3,481.0 609.4,476.4 610.6,472.0 611.7,467.9 612.9,464.0 614.0,460.3 615.2,456.9 616.3,453.8 617.5,450.9 618.7,448.3 619.8,445.9 621.0,443.9 622.1,442.1 623.3,440.5 624.5,439.3 625.6,438.3 626.8,437.6 627.9,437.2 629.1,437.0 630.3,437.2 631.4,437.6 632.6,438.3 633.7,439.3 634.9,440.5 636.0,442.1 637.2,443.9 638.4,445.9 639.5,448.3 640.7,450.9 641.8,453.8 643.0,456.9 644.2,460.3 645.3,464.0 646.5,467.9 647.6,472.0 648.8,476.4 650.0,481.0 651.1,485.9 652.3,490.9 653.5,496.2 654.6,501.7 655.8,507.4 657.0,513.3 658.1,519.4 659.3,525.7 660.5,532.1 661.6,538.8 662.8,545.6 664.0,552.5 665.2,559.6 666.3,566.8 667.5,574.2 668.7,581.7 669.9,589.3 671.0,597.1 672.2,604.9 673.4,612.9 674.6,620.9 675.8,629.0 677.0,637.2 678.2,645.4 679.3,653.7 680.5,662.1 681.7,670.5 682.9,678.9 684.1,687.4 685.3,695.8 686.5,704.3 687.7,712.8 688.9,721.3 690.1,729.8 691.3,738.3 692.5,746.8 693.7,755.2 695.0,763.6 696.2,772.0 697.4,780.3 698.6,788.6 699.8,796.8 701.0,805.0 702.3,813.1 703.5,821.1 704.7,829.0 705.9,836.9 707.2,844.7 708.4,852.4 709.6,860.0 710.9,867.5 712.1,874.9 713.3,882.2 714.6,889.4 715.8,896.6 717.1,903.5 718.3,910.4 719.6,917.2 720.8,923.9 722.1,930.4 723.4,936.8 724.6,943.1 725.9,949.3 727.1,955.3 728.4,961.3 729.7,967.1 731.0,972.7 732.2,978.3 733.5,983.7 734.8,989.0 736.1,994.2 737.4,999.3 738.6,1004.2 739.9,1009.0 741.2,1013.7 742.5,1018.3 743.8,1022.7 745.1,1027.0 746.4,1031.2 747.7,1035.3 749.0,1039.3 750.4,1043.1 751.7,1046.9 753.0,1050.5 754.3,1054.0 755.6,1057.4 756.9,1060.7 758.3,1063.9 759.6,1067.0 760.9,1070.0 762.3,1072.9 763.6,1075.7 764.9,1078.4 766.3,1081.0 767.6,1083.5 769.0,1085.9 770.3,1088.2 771.7,1090.5 773.0,1092.6 774.4,1094.7 775.7,1096.7 777.1,1098.7 778.5,1100.5 779.8,1102.3 781.2,1104.0 782.6,1105.6 783.9,1107.2 785.3,1108.7 786.7,1110.2 788.1,1111.5 789.5,1112.9 790.8,1114.1 792.2,1115.3 793.6,1116.5 795.0,1117.6 796.4,1118.7 797.8,1119.7 799.2,1120.7 800.6,1121.6 802.0,1122.5 803.4,1123.3 804.8,1124.1 806.2,1124.9 807.6,1125.6 809.0,1126.3 810.5,1126.9 811.9,1127.5 813.3,1128.1 814.7,1128.7 816.1,1129.2 817.6,1129.7 819.0,1130.2 820.4,1130.7 821.8,1131.1 823.3,1131.5 824.7,1131.9 826.1,1132.3 827.5,1132.6 828.9,1132.9 830.4,1133.3 831.8,1133.6 833.2,1133.8 834.6,1134.1 836.1,1134.4 837.5,1134.6 838.9,1134.8 840.3,1135.1 841.7,1135.3 843.2,1135.5 844.6,1135.6 846.0,1135.8 847.4,1136.0 848.9,1136.2 850.3,1136.3 851.7,1136.4 853.1,1136.6 854.6,1136.7 856.0,1136.8 857.4,1136.9 858.8,1137.0 860.2,1137.1 861.7,1137.2 863.1,1137.3 864.5,1137.4 865.9,1137.4 867.4,1137.5 868.8,1137.6 870.2,1137.6 871.6,1137.7 873.0,1137.7 874.5,1137.7 875.9,1137.8 877.3,1137.8 878.7,1137.8 880.2,1137.8 881.6,1137.9 883.0,1137.9 884.4,1137.9 885.9,1137.9 887.3,1137.9 888.7,1137.9 890.1,1137.9 891.5,1137.9 893.0,1138.0 894.4,1138.0 895.8,1138.0 897.2,1138.0 898.7,1138.0 900.1,1138.0 901.5,1138.0 902.9,1138.0 904.3,1138.0 905.8,1138.0 907.2,1138.0 908.6,1138.0 910.0,1138.0 911.5,1138.0 912.9,1138.0 914.3,1138.0 915.7,1138.0 917.1,1138.0 918.6,1138.0 920.0,1138.0 921.4,1138.0 922.8,1138.0 924.3,1138.0 925.7,1138.0 927.1,1138.0 928.5,1138.0 930.0,1138.0 931.4,1138.0 932.8,1138.0 934.2,1138.0 935.6,1138.0 937.1,1138.0 938.5,1138.0 939.9,1138.0 941.3,1138.0 942.8,1138.0 944.2,1138.0 945.6,1138.0 947.0,1138.0 948.4,1138.0 949.9,1138.0 951.3,1138.0 952.7,1138.0 954.1,1138.0 955.6,1138.0 957.0,1138.0 958.4,1138.0 959.8,1138.0 961.3,1138.0 962.7,1138.0 964.1,1138.0 965.5,1138.0 966.9,1138.0 968.4,1138.0 969.8,1138.0 971.2,1138.0 972.6,1138.0 974.1,1138.0 975.5,1138.0 976.9,1138.0 978.3,1138.0 979.7,1138.0 981.2,1138.0 982.6,1138.0 984.0,1138.0 985.4,1138.0 986.9,1138.0 988.3,1138.0 989.7,1138.0 991.1,1138.0 992.6,1138.0 994.0,1138.0 995.4,1138.0 996.8,1138.0 998.2,1138.0 999.7,1138.0 1001.1,1138.0 1002.5,1138.0 1003.9,1138.0 1005.4,1138.0 1006.8,1138.0 1008.2,1138.0 1009.6,1138.0 1011.0,1138.0 1012.5,1138.0 1013.9,1138.0 1015.3,1138.0 1016.7,1138.0 1018.2,1138.0 1019.6,1138.0 1021.0,1138.0 1022.4,1138.0 1023.8,1138.0 1025.3,1138.0 1026.7,1138.0 1028.1,1138.0 1029.5,1138.0 1031.0,1138.0 1032.4,1138.0 1298.6,1138.0" stroke="#CD7F32"/>
<path d="M364.4,1138.0 366.0,1138.0 367.2,1138.0 368.5,1138.0 369.7,1138.0 371.0,1138.0 372.2,1138.0 373.4,1138.0 374.7,1138.0 375.9,1138.0 377.1,1138.0 378.4,1138.0 379.6,1138.0 380.9,1138.0 382.1,1138.0 383.3,1138.0 384.6,1138.0 385.8,1138.0 387.0,1138.0 388.3,1138.0 389.5,1138.0 390.8,1138.0 392.0,1138.0 393.2,1138.0 394.5,1138.0 395.7,1138.0 397.0,1137.9 398.2,1137.9 399.4,1137.9 400.7,1137.9 401.9,1137.9 403.1,1137.9 404.4,1137.9 405.6,1137.9 406.9,1137.8 408.1,1137.8 409.3,1137.8 410.6,1137.8 411.8,1137.7 413.0,1137.7 414.3,1137.7 415.5,1137.6 416.8,1137.6 418.0,1137.5 419.2,1137.4 420.5,1137.4 421.7,1137.3 423.0,1137.2 424.2,1137.1 425.4,1137.0 426.7,1136.9 427.9,1136.8 429.1,1136.7 430.4,1136.6 431.6,1136.4 432.9,1136.3 434.1,1136.2 435.3,1136.0 436.6,1135.8 437.8,1135.6 439.0,1135.5 440.3,1135.3 441.5,1135.1 442.8,1134.8 444.0,1134.6 445.2,1134.4 446.5,1134.1 447.7,1133.8 448.9,1133.6 450.2,1133.3 451.4,1132.9 452.7,1132.6 453.9,1132.3 455.1,1131.9 456.4,1131.5 457.6,1131.1 458.9,1130.7 460.1,1130.2 461.3,1129.7 462.6,1129.2 463.8,1128.7 465.0,1128.1 466.3,1127.5 467.5,1126.9 468.7,1126.3 469.9,1125.6 471.1,1124.9 472.3,1124.1 473.5,1123.3 474.7,1122.5 475.8,1121.6 477.0,1120.7 478.2,1119.7 479.3,1118.7 480.5,1117.6 481.6,1116.5 482.8,1115.3 483.9,1114.1 485.1,1112.9 486.2,1111.5 487.3,1110.2 488.5,1108.7 489.6,1107.2 490.7,1105.6 491.8,1104.0 493.0,1102.3 494.1,1100.5 495.2,1098.7 496.3,1096.7 497.4,1094.7 498.5,1092.6 499.6,1090.5 500.7,1088.2 501.8,1085.9 502.9,1083.5 504.0,1081.0 505.1,1078.4 506.2,1075.7 507.3,1072.9 508.3,1070.0 509.4,1067.0 510.5,1063.9 511.6,1060.7 512.7,1057.4 513.8,1054.0 514.9,1050.5 515.9,1046.9 517.0,1043.1 518.1,1039.3 519.2,1035.3 520.3,1031.2 521.3,1027.0 522.4,1022.7 523.5,1018.3 524.6,1013.7 525.7,1009.0 526.7,1004.2 527.8,999.3 528.9,994.2 530.0,989.0 531.1,983.7 532.2,978.3 533.2,972.7 534.3,967.1 535.4,961.3 536.5,955.3 537.6,949.3 538.7,943.1 539.8,936.8 540.8,930.4 541.9,923.9 543.0,917.2 544.1,910.4 545.2,903.5 546.3,896.6 547.4,889.4 548.5,882.2 549.6,874.9 550.7,867.5 551.8,860.0 552.9,852.4 554.0,844.7 555.1,836.9 556.2,829.0 557.3,821.1 558.4,813.1 559.5,805.0 560.6,796.8 561.7,788.6 562.8,780.3 563.9,772.0 565.1,763.6 566.2,755.2 567.3,746.8 568.4,738.3 569.5,729.8 570.7,721.3 571.8,712.8 572.9,704.3 574.0,695.8 575.1,687.4 576.3,678.9 577.4,670.5 578.5,662.1 579.7,653.7 580.8,645.4 581.9,637.2 583.1,629.0 584.2,620.9 585.3,612.9 586.5,604.9 587.6,597.1 588.7,589.3 589.9,581.7 591.0,574.2 592.2,566.8 593.3,559.6 594.5,552.5 595.6,545.6 596.7,538.8 597.9,532.1 599.0,525.7 600.2,519.4 601.3,513.3 602.5,507.4 603.6,501.7 604.8,496.2 605.9,490.9 607.1,485.9 608.3,481.0 609.4,476.4 610.6,472.0 611.7,467.9 612.9,464.0 614.0,460.3 615.2,456.9 616.3,453.8 617.5,450.9 618.7,448.3 619.8,445.9 621.0,443.9 622.1,442.1 623.3,440.5 624.5,439.3 625.6,438.3 626.8,437.6 627.9,437.2 629.1,437.0 630.3,437.2 631.4,437.6 632.6,438.3 633.7,439.3 634.9,440.5 636.0,442.1 637.2,443.9 638.4,445.9 639.5,448.3 640.7,450.9 641.8,453.8 643.0,456.9 644.2,460.3 645.3,464.0 646.5,467.9 647.6,472.0 648.8,476.4 650.0,481.0 651.1,485.9 652.3,490.9 653.5,496.2 654.6,501.7 655.8,507.4 657.0,513.3 658.1,519.4 659.3,525.7 660.5,532.1 661.6,538.8 662.8,545.6 664.0,552.5 665.2,559.6 666.3,566.8 667.5,574.2 668.7,581.7 669.9,589.3 671.0,597.1 672.2,604.9 673.4,612.9 674.6,620.9 675.8,629.0 677.0,637.2 678.2,645.4 679.3,653.7 680.5,662.1 681.7,670.5 682.9,678.9 684.1,687.4 685.3,695.8 686.5,704.3 687.7,712.8 688.9,721.3 690.1,729.8 691.3,738.3 692.5,746.8 693.7,755.2 695.0,763.6 696.2,772.0 697.4,780.3 698.6,788.6 699.8,796.8 701.0,805.0 702.3,813.1 703.5,821.1 704.7,829.0 705.9,836.9 707.2,844.7 708.4,852.4 709.6,860.0 710.9,867.5 712.1,874.9 713.3,882.2 714.6,889.4 715.8,896.6 717.1,903.5 718.3,910.4 719.6,917.2 720.8,923.9 722.1,930.4 723.4,936.8 724.6,943.1 725.9,949.3 727.1,955.3 728.4,961.3 729.7,967.1 731.0,972.7 732.2,978.3 733.5,983.7 734.8,989.0 736.1,994.2 737.4,999.3 738.6,1004.2 739.9,1009.0 741.2,1013.7 742.5,1018.3 743.8,1022.7 745.1,1027.0 746.4,1031.2 747.7,1035.3 749.0,1039.3 750.4,1043.1 751.7,1046.9 753.0,1050.5 754.3,1054.0 755.6,1057.4 756.9,1060.7 758.3,1063.9 759.6,1067.0 760.9,1070.0 762.3,1072.9 763.6,1075.7 764.9,1078.4 766.3,1081.0 767.6,1083.5 769.0,1085.9 770.3,1088.2 771.7,1090.5 773.0,1092.6 774.4,1094.7 775.7,1096.7 777.1,1098.7 778.5,1100.5 779.8,1102.3 781.2,1104.0 782.6,1105.6 783.9,1107.2 785.3,1108.7 786.7,1110.2 788.1,1111.5 789.5,1112.9 790.8,1114.1 792.2,1115.3 793.6,1116.5 795.0,1117.6 796.4,1118.7 797.8,1119.7 799.2,1120.7 800.6,1121.6 802.0,1122.5 803.4,1123.3 804.8,1124.1 806.2,1124.9 807.6,1125.6 809.0,1126.3 810.5,1126.9 811.9,1127.5 813.3,1128.1 814.7,1128.7 816.1,1129.2 817.6,1129.7 819.0,1130.2 820.4,1130.7 821.8,1131.1 823.3,1131.5 824.7,1131.9 826.1,1132.3 827.5,1132.6 828.9,1132.9 830.4,1133.3 831.8,1133.6 833.2,1133.8 834.6,1134.1 836.1,1134.4 837.5,1134.6 838.9,1134.8 840.3,1135.1 841.7,1135.3 843.2,1135.5 844.6,1135.6 846.0,1135.8 847.4,1136.0 848.9,1136.2 850.3,1136.3 851.7,1136.4 853.1,1136.6 854.6,1136.7 856.0,1136.8 857.4,1136.9 858.8,1137.0 860.2,1137.1 861.7,1137.2 863.1,1137.3 864.5,1137.4 865.9,1137.4 867.4,1137.5 868.8,1137.6 870.2,1137.6 871.6,1137.7 873.0,1137.7 874.5,1137.7 875.9,1137.8 877.3,1137.8 878.7,1137.8 880.2,1137.8 881.6,1137.9 883.0,1137.9 884.4,1137.9 885.9,1137.9 887.3,1137.9 888.7,1137.9 890.1,1137.9 891.5,1137.9 893.0,1138.0 894.4,1138.0 895.8,1138.0 897.2,1138.0 898.7,1138.0 900.1,1138.0 901.5,1138.0 902.9,1138.0 904.3,1138.0 905.8,1138.0 907.2,1138.0 908.6,1138.0 910.0,1138.0 911.5,1138.0 912.9,1138.0 914.3,1138.0 915.7,1138.0 917.1,1138.0 918.6,1138.0 920.0,1138.0 921.4,1138.0 922.8,1138.0 924.3,1138.0 925.7,1138.0 927.1,1138.0 928.5,1138.0 930.0,1138.0 931.4,1138.0 932.8,1138.0 934.2,1138.0 935.6,1138.0 937.1,1138.0 938.5,1138.0 939.9,1138.0 941.3,1138.0 942.8,1138.0 944.2,1138.0 945.6,1138.0 947.0,1138.0 948.4,1138.0 949.9,1138.0 951.3,1138.0 952.7,1138.0 954.1,1138.0 955.6,1138.0 957.0,1138.0 958.4,1138.0 959.8,1138.0 961.3,1138.0 962.7,1138.0 964.1,1138.0 965.5,1138.0 966.9,1138.0 968.4,1138.0 969.8,1138.0 971.2,1138.0 972.6,1138.0 974.1,1138.0 975.5,1138.0 976.9,1138.0 978.3,1138.0 979.7,1138.0 981.2,1138.0 982.6,1138.0 984.0,1138.0 985.4,1138.0 986.9,1138.0 988.3,1138.0 989.7,1138.0 991.1,1138.0 992.6,1138.0 994.0,1138.0 995.4,1138.0 996.8,1138.0 998.2,1138.0 999.7,1138.0 1001.1,1138.0 1002.5,1138.0 1003.9,1138.0 1005.4,1138.0 1006.8,1138.0 1008.2,1138.0 1009.6,1138.0 1011.0,1138.0 1012.5,1138.0 1013.9,1138.0 1015.3,1138.0 1016.7,1138.0 1018.2,1138.0 1019.6,1138.0 1021.0,1138.0 1022.4,1138.0 1023.8,1138.0 1025.3,1138.0 1026.7,1138.0 1028.1,1138.0 1029.5,1138.0 1031.0,1138.0 1032.4,1138.0 1298.6,1138.0" stroke="#CD7F32" stroke-width="2"/>
<path d="M364.4,1138.0 366.5,1138.0 367.6,1138.0 368.7,1138.0 369.8,1138.0 370.9,1138.0 372.0,1138.0 373.1,1138.0 374.1,1138.0 375.2,1138.0 376.3,1138.0 377.4,1138.0 378.5,1138.0 379.6,1138.0 380.7,1138.0 381.8,1138.0 382.9,1138.0 383.9,1138.0 385.0,1138.0 386.1,1138.0 387.2,1138.0 388.3,1138.0 389.4,1138.0 390.5,1138.0 391.6,1138.0 392.7,1138.0 393.8,1138.0 394.8,1138.0 395.9,1138.0 397.0,1138.0 398.1,1138.0 399.2,1138.0 400.3,1138.0 401.4,1138.0 402.5,1138.0 403.6,1138.0 404.6,1138.0 405.7,1138.0 406.8,1138.0 407.9,1138.0 409.0,1138.0 410.1,1138.0 411.2,1138.0 412.3,1138.0 413.4,1138.0 414.5,1138.0 415.5,1138.0 416.6,1138.0 417.7,1138.0 418.8,1138.0 419.9,1138.0 421.0,1138.0 422.1,1138.0 423.2,1138.0 424.3,1138.0 425.3,1138.0 426.4,1138.0 427.5,1138.0 428.6,1138.0 429.7,1138.0 430.8,1138.0 431.9,1138.0 433.0,1138.0 434.1,1138.0 435.1,1138.0 436.2,1138.0 437.3,1138.0 438.4,1138.0 439.5,1138.0 440.6,1138.0 441.7,1138.0 442.8,1138.0 443.9,1138.0 445.0,1138.0 446.0,1138.0 447.1,1138.0 448.2,1138.0 449.3,1137.9 450.4,1137.9 451.5,1137.9 452.6,1137.9 453.7,1137.9 454.8,1137.9 455.8,1137.9 456.9,1137.9 458.0,1137.8 459.1,1137.8 460.2,1137.8 461.3,1137.8 462.4,1137.7 463.5,1137.7 464.6,1137.6 465.7,1137.6 466.7,1137.5 467.8,1137.5 468.9,1137.4 470.0,1137.3 471.1,1137.3 472.2,1137.2 473.3,1137.1 474.4,1137.0 475.5,1136.9 476.5,1136.8 477.6,1136.7 478.7,1136.5 479.8,1136.4 480.9,1136.2 482.0,1136.1 483.1,1135.9 484.2,1135.8 485.3,1135.6 486.3,1135.4 487.4,1135.2 488.5,1135.0 489.6,1134.7 490.7,1134.5 491.8,1134.3 492.9,1134.0 494.0,1133.7 495.1,1133.4 496.2,1133.1 497.2,1132.8 498.3,1132.5 499.4,1132.1 500.5,1131.7 501.6,1131.3 502.7,1130.9 503.8,1130.5 504.9,1130.0 506.0,1129.5 507.0,1129.0 508.1,1128.5 509.2,1127.9 510.3,1127.3 511.4,1126.6 512.5,1126.0 513.6,1125.3 514.7,1124.5 515.8,1123.7 516.9,1122.9 518.0,1122.1 519.0,1121.2 520.1,1120.2 521.2,1119.2 522.3,1118.2 523.4,1117.1 524.5,1116.0 525.6,1114.8 526.7,1113.5 527.8,1112.2 528.9,1110.9 530.0,1109.4 531.1,1108.0 532.2,1106.4 533.3,1104.8 534.4,1103.1 535.5,1101.4 536.6,1099.5 537.7,1097.6 538.8,1095.7 539.9,1093.6 540.9,1091.5 542.0,1089.3 543.1,1086.9 544.2,1084.6 545.3,1082.1 546.4,1079.5 547.5,1076.8 548.6,1074.1 549.7,1071.2 550.8,1068.2 552.0,1065.2 553.1,1062.0 554.2,1058.7 555.3,1055.3 556.4,1051.9 557.5,1048.2 558.6,1044.5 559.7,1040.7 560.8,1036.7 561.9,1032.7 563.0,1028.5 564.1,1024.2 565.2,1019.7 566.3,1015.2 567.4,1010.5 568.5,1005.7 569.6,1000.8 570.7,995.7 571.8,990.5 572.9,985.2 574.1,979.8 575.2,974.2 576.3,968.5 577.4,962.7 578.5,956.7 579.6,950.6 580.7,944.4 581.8,938.1 582.9,931.6 584.0,925.1 585.2,918.3 586.3,911.5 587.4,904.6 588.5,897.5 589.6,890.3 590.7,883.1 591.8,875.7 592.9,868.2 594.1,860.5 595.2,852.8 596.3,845.0 597.4,837.1 598.5,829.2 599.6,821.1 600.7,812.9 601.9,804.7 603.0,796.4 604.1,788.0 605.2,779.6 606.3,771.1 607.4,762.6 608.6,754.0 609.7,745.4 610.8,736.7 611.9,728.0 613.0,719.3 614.1,710.6 615.3,701.9 616.4,693.2 617.5,684.5 618.6,675.8 619.7,667.1 620.8,658.4 622.0,649.8 623.1,641.3 624.2,632.7 625.3,624.3 626.4,615.9 627.6,607.6 628.7,599.4 629.8,591.2 630.9,583.2 632.1,575.2 633.2,567.4 634.3,559.7 635.4,552.2 636.5,544.7 637.7,537.4 638.8,530.3 639.9,523.3 641.0,516.6 642.1,509.9 643.3,503.5 644.4,497.2 645.5,491.2 646.6,485.3 647.8,479.7 648.9,474.3 650.0,469.1 651.1,464.1 652.2,459.4 653.4,454.9 654.5,450.6 655.6,446.6 656.7,442.9 657.9,439.4 659.0,436.2 660.1,433.2 661.2,430.6 662.4,428.1 663.5,426.0 664.6,424.2 665.7,422.6 666.9,421.3 668.0,420.3 669.1,419.6 670.2,419.1 671.4,419.0 672.5,419.1 673.6,419.6 674.7,420.3 675.9,421.3 677.0,422.6 678.1,424.2 679.3,426.0 680.4,428.1 681.5,430.6 682.7,433.2 683.8,436.2 684.9,439.4 686.1,442.9 687.2,446.6 688.3,450.6 689.5,454.9 690.6,459.4 691.7,464.1 692.9,469.1 694.0,474.3 695.1,479.7 696.3,485.3 697.4,491.2 698.5,497.2 699.7,503.5 700.8,509.9 701.9,516.6 703.1,523.3 704.2,530.3 705.4,537.4 706.5,544.7 707.6,552.2 708.8,559.7 709.9,567.4 711.0,575.2 712.2,583.2 713.3,591.2 714.5,599.4 715.6,607.6 716.8,615.9 717.9,624.3 719.0,632.7 720.2,641.3 721.3,649.8 722.5,658.4 723.6,667.1 724.8,675.8 725.9,684.5 727.1,693.2 728.2,701.9 729.4,710.6 730.5,719.3 731.7,728.0 732.8,736.7 734.0,745.4 735.1,754.0 736.3,762.6 737.4,771.1 738.6,779.6 739.7,788.0 740.9,796.4 742.1,804.7 743.2,812.9 744.4,821.1 745.5,829.2 746.7,837.1 747.9,845.0 749.0,852.8 750.2,860.5 751.4,868.2 752.5,875.7 753.7,883.1 754.9,890.3 756.0,897.5 757.2,904.6 758.4,911.5 759.6,918.3 760.7,925.1 761.9,931.6 763.1,938.1 764.3,944.4 765.5,950.6 766.7,956.7 767.8,962.7 769.0,968.5 770.2,974.2 771.4,979.8 772.6,985.2 773.8,990.5 775.0,995.7 776.2,1000.8 777.4,1005.7 778.6,1010.5 779.8,1015.2 781.0,1019.7 782.2,1024.2 783.4,1028.5 784.6,1032.7 785.8,1036.7 787.0,1040.7 788.3,1044.5 789.5,1048.2 790.7,1051.9 791.9,1055.3 793.2,1058.7 794.4,1062.0 795.6,1065.2 796.8,1068.2 798.1,1071.2 799.3,1074.1 800.6,1076.8 801.8,1079.5 803.0,1082.1 804.3,1084.6 805.5,1086.9 806.8,1089.3 808.0,1091.5 809.3,1093.6 810.6,1095.7 811.8,1097.6 813.1,1099.5 814.4,1101.4 815.6,1103.1 816.9,1104.8 818.2,1106.4 819.5,1108.0 820.8,1109.4 822.0,1110.9 823.3,1112.2 824.6,1113.5 825.9,1114.8 827.2,1116.0 828.5,1117.1 829.9,1118.2 831.2,1119.2 832.5,1120.2 833.8,1121.2 835.1,1122.1 836.5,1122.9 837.8,1123.7 839.1,1124.5 840.5,1125.3 841.8,1126.0 843.1,1126.6 844.5,1127.3 845.9,1127.9 847.2,1128.5 848.6,1129.0 849.9,1129.5 851.3,1130.0 852.7,1130.5 854.0,1130.9 855.4,1131.3 856.8,1131.7 858.1,1132.1 859.5,1132.5 860.9,1132.8 862.2,1133.1 863.6,1133.4 864.9,1133.7 866.3,1134.0 867.7,1134.3 869.0,1134.5 870.4,1134.7 871.8,1135.0 873.1,1135.2 874.5,1135.4 875.9,1135.6 877.2,1135.8 878.6,1135.9 880.0,1136.1 881.3,1136.2 882.7,1136.4 884.0,1136.5 885.4,1136.7 886.8,1136.8 888.1,1136.9 889.5,1137.0 890.9,1137.1 892.2,1137.2 893.6,1137.3 895.0,1137.3 896.3,1137.4 897.7,1137.5 899.0,1137.5 900.4,1137.6 901.8,1137.6 903.1,1137.7 904.5,1137.7 905.9,1137.8 907.2,1137.8 908.6,1137.8 910.0,1137.8 911.3,1137.9 912.7,1137.9 914.0,1137.9 915.4,1137.9 916.8,1137.9 918.1,1137.9 919.5,1137.9 920.9,1137.9 922.2,1138.0 923.6,1138.0 925.0,1138.0 926.3,1138.0 927.7,1138.0 929.0,1138.0 930.4,1138.0 931.8,1138.0 933.1,1138.0 934.5,1138.0 935.9,1138.0 937.2,1138.0 938.6,1138.0 940.0,1138.0 941.3,1138.0 942.7,1138.0 944.1,1138.0 945.4,1138.0 946.8,1138.0 948.1,1138.0 949.5,1138.0 950.9,1138.0 952.2,1138.0 953.6,1138.0 955.0,1138.0 956.3,1138.0 957.7,1138.0 959.1,1138.0 960.4,1138.0 961.8,1138.0 963.1,1138.0 964.5,1138.0 965.9,1138.0 967.2,1138.0 968.6,1138.0 970.0,1138.0 971.3,1138.0 972.7,1138.0 974.1,1138.0 975.4,1138.0 976.8,1138.0 978.1,1138.0 979.5,1138.0 980.9,1138.0 982.2,1138.0 983.6,1138.0 985.0,1138.0 986.3,1138.0 987.7,1138.0 989.1,1138.0 990.4,1138.0 991.8,1138.0 993.2,1138.0 994.5,1138.0 995.9,1138.0 997.2,1138.0 998.6,1138.0 1000.0,1138.0 1001.3,1138.0 1002.7,1138.0 1004.1,1138.0 1005.4,1138.0 1006.8,1138.0 1008.2,1138.0 1009.5,1138.0 1010.9,1138.0 1012.2,1138.0 1013.6,1138.0 1015.0,1138.0 1016.3,1138.0 1017.7,1138.0 1019.1,1138.0 1020.4,1138.0 1021.8,1138.0 1023.2,1138.0 1024.5,1138.0 1025.9,1138.0 1027.2,1138.0 1028.6,1138.0 1030.0,1138.0 1031.3,1138.0 1032.7,1138.0 1034.1,1138.0 1035.4,1138.0 1036.8,1138.0 1038.2,1138.0 1039.5,1138.0 1040.9,1138.0 1042.2,1138.0 1043.6,1138.0 1045.0,1138.0 1046.3,1138.0 1047.7,1138.0 1049.1,1138.0 1050.4,1138.0 1051.8,1138.0 1053.2,1138.0 1054.5,1138.0 1055.9,1138.0 1298.6,1138.0" stroke="#A52A2A"/>
<path d="M364.4,1138.0 366.5,1138.0 367.6,1138.0 368.7,1138.0 369.8,1138.0 370.9,1138.0 372.0,1138.0 373.1,1138.0 374.1,1138.0 375.2,1138.0 376.3,1138.0 377.4,1138.0 378.5,1138.0 379.6,1138.0 380.7,1138.0 381.8,1138.0 382.9,1138.0 383.9,1138.0 385.0,1138.0 386.1,1138.0 387.2,1138.0 388.3,1138.0 389.4,1138.0 390.5,1138.0 391.6,1138.0 392.7,1138.0 393.8,1138.0 394.8,1138.0 395.9,1138.0 397.0,1138.0 398.1,1138.0 399.2,1138.0 400.3,1138.0 401.4,1138.0 402.5,1138.0 403.6,1138.0 404.6,1138.0 405.7,1138.0 406.8,1138.0 407.9,1138.0 409.0,1138.0 410.1,1138.0 411.2,1138.0 412.3,1138.0 413.4,1138.0 414.5,1138.0 415.5,1138.0 416.6,1138.0 417.7,1138.0 418.8,1138.0 419.9,1138.0 421.0,1138.0 422.1,1138.0 423.2,1138.0 424.3,1138.0 425.3,1138.0 426.4,1138.0 427.5,1138.0 428.6,1138.0 429.7,1138.0 430.8,1138.0 431.9,1138.0 433.0,1138.0 434.1,1138.0 435.1,1138.0 436.2,1138.0 437.3,1138.0 438.4,1138.0 439.5,1138.0 440.6,1138.0 441.7,1138.0 442.8,1138.0 443.9,1138.0 445.0,1138.0 446.0,1138.0 447.1,1138.0 448.2,1138.0 449.3,1137.9 450.4,1137.9 451.5,1137.9 452.6,1137.9 453.7,1137.9 454.8,1137.9 455.8,1137.9 456.9,1137.9 458.0,1137.8 459.1,1137.8 460.2,1137.8 461.3,1137.8 462.4,1137.7 463.5,1137.7 464.6,1137.6 465.7,1137.6 466.7,1137.5 467.8,1137.5 468.9,1137.4 470.0,1137.3 471.1,1137.3 472.2,1137.2 473.3,1137.1 474.4,1137.0 475.5,1136.9 476.5,1136.8 477.6,1136.7 478.7,1136.5 479.8,1136.4 480.9,1136.2 482.0,1136.1 483.1,1135.9 484.2,1135.8 485.3,1135.6 486.3,1135.4 487.4,1135.2 488.5,1135.0 489.6,1134.7 490.7,1134.5 491.8,1134.3 492.9,1134.0 494.0,1133.7 495.1,1133.4 496.2,1133.1 497.2,1132.8 498.3,1132.5 499.4,1132.1 500.5,1131.7 501.6,1131.3 502.7,1130.9 503.8,1130.5 504.9,1130.0 506.0,1129.5 507.0,1129.0 508.1,1128.5 509.2,1127.9 510.3,1127.3 511.4,1126.6 512.5,1126.0 513.6,1125.3 514.7,1124.5 515.8,1123.7 516.9,1122.9 518.0,1122.1 519.0,1121.2 520.1,1120.2 521.2,1119.2 522.3,1118.2 523.4,1117.1 524.5,1116.0 525.6,1114.8 526.7,1113.5 527.8,1112.2 528.9,1110.9 530.0,1109.4 531.1,1108.0 532.2,1106.4 533.3,1104.8 534.4,1103.1 535.5,1101.4 536.6,1099.5 537.7,1097.6 538.8,1095.7 539.9,1093.6 540.9,1091.5 542.0,1089.3 543.1,1086.9 544.2,1084.6 545.3,1082.1 546.4,1079.5 547.5,1076.8 548.6,1074.1 549.7,1071.2 550.8,1068.2 552.0,1065.2 553.1,1062.0 554.2,1058.7 555.3,1055.3 556.4,1051.9 557.5,1048.2 558.6,1044.5 559.7,1040.7 560.8,1036.7 561.9,1032.7 563.0,1028.5 564.1,1024.2 565.2,1019.7 566.3,1015.2 567.4,1010.5 568.5,1005.7 569.6,1000.8 570.7,995.7 571.8,990.5 572.9,985.2 574.1,979.8 575.2,974.2 576.3,968.5 577.4,962.7 578.5,956.7 579.6,950.6 580.7,944.4 581.8,938.1 582.9,931.6 584.0,925.1 585.2,918.3 586.3,911.5 587.4,904.6 588.5,897.5 589.6,890.3 590.7,883.1 591.8,875.7 592.9,868.2 594.1,860.5 595.2,852.8 596.3,845.0 597.4,837.1 598.5,829.2 599.6,821.1 600.7,812.9 601.9,804.7 603.0,796.4 604.1,788.0 605.2,779.6 606.3,771.1 607.4,762.6 608.6,754.0 609.7,745.4 610.8,736.7 611.9,728.0 613.0,719.3 614.1,710.6 615.3,701.9 616.4,693.2 617.5,684.5 618.6,675.8 619.7,667.1 620.8,658.4 622.0,649.8 623.1,641.3 624.2,632.7 625.3,624.3 626.4,615.9 627.6,607.6 628.7,599.4 629.8,591.2 630.9,583.2 632.1,575.2 633.2,567.4 634.3,559.7 635.4,552.2 636.5,544.7 637.7,537.4 638.8,530.3 639.9,523.3 641.0,516.6 642.1,509.9 643.3,503.5 644.4,497.2 645.5,491.2 646.6,485.3 647.8,479.7 648.9,474.3 650.0,469.1 651.1,464.1 652.2,459.4 653.4,454.9 654.5,450.6 655.6,446.6 656.7,442.9 657.9,439.4 659.0,436.2 660.1,433.2 661.2,430.6 662.4,428.1 663.5,426.0 664.6,424.2 665.7,422.6 666.9,421.3 668.0,420.3 669.1,419.6 670.2,419.1 671.4,419.0 672.5,419.1 673.6,419.6 674.7,420.3 675.9,421.3 677.0,422.6 678.1,424.2 679.3,426.0 680.4,428.1 681.5,430.6 682.7,433.2 683.8,436.2 684.9,439.4 686.1,442.9 687.2,446.6 688.3,450.6 689.5,454.9 690.6,459.4 691.7,464.1 692.9,469.1 694.0,474.3 695.1,479.7 696.3,485.3 697.4,491.2 698.5,497.2 699.7,503.5 700.8,509.9 701.9,516.6 703.1,523.3 704.2,530.3 705.4,537.4 706.5,544.7 707.6,552.2 708.8,559.7 709.9,567.4 711.0,575.2 712.2,583.2 713.3,591.2 714.5,599.4 715.6,607.6 716.8,615.9 717.9,624.3 719.0,632.7 720.2,641.3 721.3,649.8 722.5,658.4 723.6,667.1 724.8,675.8 725.9,684.5 727.1,693.2 728.2,701.9 729.4,710.6 730.5,719.3 731.7,728.0 732.8,736.7 734.0,745.4 735.1,754.0 736.3,762.6 737.4,771.1 738.6,779.6 739.7,788.0 740.9,796.4 742.1,804.7 743.2,812.9 744.4,821.1 745.5,829.2 746.7,837.1 747.9,845.0 749.0,852.8 750.2,860.5 751.4,868.2 752.5,875.7 753.7,883.1 754.9,890.3 756.0,897.5 757.2,904.6 758.4,911.5 759.6,918.3 760.7,925.1 761.9,931.6 763.1,938.1 764.3,944.4 765.5,950.6 766.7,956.7 767.8,962.7 769.0,968.5 770.2,974.2 771.4,979.8 772.6,985.2 773.8,990.5 775.0,995.7 776.2,1000.8 777.4,1005.7 778.6,1010.5 779.8,1015.2 781.0,1019.7 782.2,1024.2 783.4,1028.5 784.6,1032.7 785.8,1036.7 787.0,1040.7 788.3,1044.5 789.5,1048.2 790.7,1051.9 791.9,1055.3 793.2,1058.7 794.4,1062.0 795.6,1065.2 796.8,1068.2 798.1,1071.2 799.3,1074.1 800.6,1076.8 801.8,1079.5 803.0,1082.1 804.3,1084.6 805.5,1086.9 806.8,1089.3 808.0,1091.5 809.3,1093.6 810.6,1095.7 811.8,1097.6 813.1,1099.5 814.4,1101.4 815.6,1103.1 816.9,1104.8 818.2,1106.4 819.5,1108.0 820.8,1109.4 822.0,1110.9 823.3,1112.2 824.6,1113.5 825.9,1114.8 827.2,1116.0 828.5,1117.1 829.9,1118.2 831.2,1119.2 832.5,1120.2 833.8,1121.2 835.1,1122.1 836.5,1122.9 837.8,1123.7 839.1,1124.5 840.5,1125.3 841.8,1126.0 843.1,1126.6 844.5,1127.3 845.9,1127.9 847.2,1128.5 848.6,1129.0 849.9,1129.5 851.3,1130.0 852.7,1130.5 854.0,1130.9 855.4,1131.3 856.8,1131.7 858.1,1132.1 859.5,1132.5 860.9,1132.8 862.2,1133.1 863.6,1133.4 864.9,1133.7 866.3,1134.0 867.7,1134.3 869.0,1134.5 870.4,1134.7 871.8,1135.0 873.1,1135.2 874.5,1135.4 875.9,1135.6 877.2,1135.8 878.6,1135.9 880.0,1136.1 881.3,1136.2 882.7,1136.4 884.0,1136.5 885.4,1136.7 886.8,1136.8 888.1,1136.9 889.5,1137.0 890.9,1137.1 892.2,1137.2 893.6,1137.3 895.0,1137.3 896.3,1137.4 897.7,1137.5 899.0,1137.5 900.4,1137.6 901.8,1137.6 903.1,1137.7 904.5,1137.7 905.9,1137.8 907.2,1137.8 908.6,1137.8 910.0,1137.8 911.3,1137.9 912.7,1137.9 914.0,1137.9 915.4,1137.9 916.8,1137.9 918.1,1137.9 919.5,1137.9 920.9,1137.9 922.2,1138.0 923.6,1138.0 925.0,1138.0 926.3,1138.0 927.7,1138.0 929.0,1138.0 930.4,1138.0 931.8,1138.0 933.1,1138.0 934.5,1138.0 935.9,1138.0 937.2,1138.0 938.6,1138.0 940.0,1138.0 941.3,1138.0 942.7,1138.0 944.1,1138.0 945.4,1138.0 946.8,1138.0 948.1,1138.0 949.5,1138.0 950.9,1138.0 952.2,1138.0 953.6,1138.0 955.0,1138.0 956.3,1138.0 957.7,1138.0 959.1,1138.0 960.4,1138.0 961.8,1138.0 963.1,1138.0 964.5,1138.0 965.9,1138.0 967.2,1138.0 968.6,1138.0 970.0,1138.0 971.3,1138.0 972.7,1138.0 974.1,1138.0 975.4,1138.0 976.8,1138.0 978.1,1138.0 979.5,1138.0 980.9,1138.0 982.2,1138.0 983.6,1138.0 985.0,1138.0 986.3,1138.0 987.7,1138.0 989.1,1138.0 990.4,1138.0 991.8,1138.0 993.2,1138.0 994.5,1138.0 995.9,1138.0 997.2,1138.0 998.6,1138.0 1000.0,1138.0 1001.3,1138.0 1002.7,1138.0 1004.1,1138.0 1005.4,1138.0 1006.8,1138.0 1008.2,1138.0 1009.5,1138.0 1010.9,1138.0 1012.2,1138.0 1013.6,1138.0 1015.0,1138.0 1016.3,1138.0 1017.7,1138.0 1019.1,1138.0 1020.4,1138.0 1021.8,1138.0 1023.2,1138.0 1024.5,1138.0 1025.9,1138.0 1027.2,1138.0 1028.6,1138.0 1030.0,1138.0 1031.3,1138.0 1032.7,1138.0 1034.1,1138.0 1035.4,1138.0 1036.8,1138.0 1038.2,1138.0 1039.5,1138.0 1040.9,1138.0 1042.2,1138.0 1043.6,1138.0 1045.0,1138.0 1046.3,1138.0 1047.7,1138.0 1049.1,1138.0 1050.4,1138.0 1051.8,1138.0 1053.2,1138.0 1054.5,1138.0 1055.9,1138.0 1298.6,1138.0" stroke="#A52A2A" stroke-width="2"/>
</g>
<g fill="#000" shape-rendering="crispEdges">
<rect x="356" y="37" width="4" height="1110"/>
<rect x="356" y="1143" width="943" height="4"/>
<rect x="344" y="37" width="12" height="1"/>
<rect x="344" y="175" width="12" height="1"/>
<rect x="344" y="312" width="12" height="1"/>
<rect x="344" y="450" width="12" height="1"/>
<rect x="344" y="587" width="12" height="1"/>
<rect x="344" y="725" width="12" height="1"/>
<rect x="344" y="863" width="12" height="1"/>
<rect x="344" y="1000" width="12" height="1"/>
<rect x="344" y="1138" width="12" height="1"/>
<rect x="385" y="1147" width="1" height="12"/>
<rect x="534" y="1147" width="1" height="12"/>
<rect x="682" y="1147" width="1" height="12"/>
<rect x="831" y="1147" width="1" height="12"/>
<rect x="980" y="1147" width="1" height="12"/>
<rect x="1128" y="1147" width="1" height="12"/>
<rect x="1277" y="1147" width="1" height="12"/>
</g>
<g fill="#000" stroke="#000" stroke-width="1.4" vector-effect="non-scaling-stroke">

</g>
<g fill="#000" shape-rendering="crispEdges">
<path d="M281.00,58.00 294.90,58.00 294.90,54.96 292.40,54.96 291.00,54.07 291.00,20.60 288.00,20.60 279.80,24.72 279.80,26.20 281.60,26.20 283.10,24.13 285.00,26.49 285.00,54.07 283.60,54.96 281.00,54.96Z"/>
<rect x="304" y="51.9" width="7" height="7" rx="2"/>
<path fill-rule="evenodd" d="M332.14,20.80 338.95,20.80 338.95,22.55 334.94,22.72 334.59,23.60 332.84,23.77 332.49,24.64 331.09,24.82 330.74,25.69 329.87,25.87 329.35,26.74 328.30,27.62 327.95,28.49 327.08,28.84 326.73,29.71 326.03,30.06 326.03,31.64 324.98,31.99 324.98,33.56 323.93,33.91 323.93,35.66 324.98,35.83 325.33,34.78 334.76,34.78 335.11,35.66 335.98,36.01 337.03,37.05 337.90,38.10 338.95,38.98 338.95,41.77 340.00,42.30 340.00,48.59 338.95,48.94 338.95,51.73 338.08,52.08 337.90,53.83 336.86,54.18 335.98,55.23 334.94,55.93 334.59,56.80 332.84,56.98 332.67,57.85 329.87,58.03 329.70,58.90 326.20,58.90 326.03,58.03 323.23,57.85 322.36,56.80 321.31,55.75 320.27,54.71 319.22,53.66 318.17,52.78 318.00,49.81 316.95,49.46 316.95,45.79 315.90,45.27 315.90,41.07 316.95,40.72 316.95,36.01 318.00,35.66 318.00,33.03 319.04,32.51 319.74,31.64 319.92,30.06 320.96,29.71 321.84,28.66 323.06,27.27 324.28,25.87 325.33,24.82 326.20,23.77 327.25,22.90 329.00,22.72 329.35,21.85 331.97,21.67ZM326.20,37.75 329.70,37.75 330.05,38.63 331.09,38.98 331.79,39.85 332.84,40.55 333.01,41.60 333.01,43.69 333.89,44.04 333.89,51.73 333.01,52.08 333.01,53.66 332.14,54.01 331.09,55.06 330.92,55.93 327.08,55.93 326.73,55.06 325.85,54.36 324.98,53.66 323.93,52.78 323.76,51.38 322.89,50.86 322.89,47.37 322.01,47.02 322.01,43.00 322.89,42.65 322.89,40.20 323.76,39.85 324.28,38.98 325.85,38.80Z"/>
<path d="M281.00,196.00 294.90,196.00 294.90,192.96 292.40,192.96 291.00,192.07 291.00,158.60 288.00,158.60 279.80,162.72 279.80,164.20 281.60,164.20 283.10,162.13 285.00,164.49 285.00,192.07 283.60,192.96 281.00,192.96Z"/>
<rect x="304" y="189.9" width="7" height="7" rx="2"/>
<path fill-rule="evenodd" d="M331.13,158.20 334.77,158.20 334.77,181.94 339.80,181.94 339.80,185.75 334.77,185.75 334.77,195.80 330.09,195.80 330.09,185.75 315.00,185.75 315.00,181.42 317.08,178.30 319.16,175.18 321.07,172.41 324.02,168.60 325.93,165.48 328.01,162.53 331.13,159.59ZM318.64,181.94 330.09,181.94 330.09,166.69 329.39,166.69 328.01,168.42 325.93,171.37 322.98,175.18 320.72,178.30 318.82,181.07Z"/>
<path d="M281.00,333.00 294.90,333.00 294.90,329.96 292.40,329.96 291.00,329.07 291.00,295.60 288.00,295.60 279.80,299.72 279.80,301.20 281.60,301.20 283.10,299.13 285.00,301.49 285.00,329.07 283.60,329.96 281.00,329.96Z"/>
<rect x="304" y="326.9" width="7" height="7" rx="2"/>
<path fill-rule="evenodd" d="M316.34,306.72 316.34,304.10 317.37,303.40 317.37,302.18 318.41,301.48 318.41,300.26 319.45,299.39 320.48,298.17 321.69,297.12 324.28,296.95 324.63,295.90 329.98,295.90 330.33,296.95 332.92,297.12 334.13,298.52 335.16,299.22 336.20,300.26 336.20,301.83 337.06,302.36 337.06,310.39 336.03,311.08 336.03,312.83 335.16,313.35 335.16,314.75 333.95,315.62 333.09,316.32 333.09,317.72 332.05,318.41 331.19,319.81 330.15,320.86 329.29,321.90 328.25,322.60 327.22,323.30 327.22,324.70 326.35,325.40 325.49,326.27 325.15,327.14 324.11,327.49 324.28,328.19 336.03,328.19 336.89,327.14 337.58,326.09 340.00,326.09 340.00,326.79 338.96,327.49 339.14,329.76 338.10,330.28 338.10,331.85 337.06,332.38 336.89,332.90 315.30,332.90 315.30,331.15 316.34,330.28 317.37,329.23 318.58,328.19 319.62,327.14 320.65,326.27 321.69,325.05 322.73,324.00 323.76,322.95 324.63,321.90 325.49,320.86 326.53,319.81 327.39,318.94 328.25,318.07 328.25,317.02 329.29,316.32 330.33,315.62 330.33,314.23 331.19,313.70 331.19,311.26 332.23,310.73 332.23,305.85 331.19,305.32 331.19,303.93 330.15,303.23 329.29,302.18 327.39,301.83 327.05,300.79 324.28,300.79 323.94,301.83 322.04,302.01 321.69,302.71 320.14,303.06 319.45,303.93 319.10,304.80 319.27,305.67 318.24,306.20 317.89,306.72Z"/>
<path d="M321.20,471.00 335.10,471.00 335.10,467.96 332.60,467.96 331.20,467.07 331.20,433.60 328.20,433.60 320.00,437.72 320.00,439.20 321.80,439.20 323.30,437.13 325.20,439.49 325.20,467.07 323.80,467.96 321.20,467.96Z"/>
<path fill-rule="evenodd" d="M286.15,570.80 290.73,570.80 291.08,571.85 292.84,572.02 293.89,573.07 294.95,573.94 296.00,574.98 297.06,576.03 297.94,576.90 298.11,578.82 298.99,579.17 298.99,582.83 300.05,583.35 300.05,596.42 298.99,596.95 298.99,600.61 297.94,600.96 297.94,602.70 296.88,603.05 296.00,603.92 296.00,605.66 294.95,605.84 292.84,606.88 292.66,607.75 290.73,607.93 290.55,608.80 285.27,608.80 284.92,607.93 283.16,607.75 282.28,606.71 281.23,605.84 280.17,604.79 279.12,603.74 278.94,602.00 278.06,601.65 277.89,599.74 276.83,599.39 276.83,595.03 275.95,594.51 275.95,585.09 276.83,584.74 276.83,581.08 277.89,580.74 277.89,578.12 278.94,577.60 279.64,576.90 279.82,575.16 280.88,574.63 281.23,573.76 282.28,572.89 283.16,572.02 285.80,571.85ZM287.21,573.76 289.85,573.76 290.20,574.81 291.25,575.33 291.96,576.03 292.13,577.60 293.01,578.12 293.01,581.61 293.89,582.13 293.89,597.64 293.01,598.17 293.01,601.65 292.13,602.18 291.96,603.74 291.08,604.27 290.02,605.14 289.85,606.01 286.15,606.01 285.80,605.14 284.92,604.79 284.75,603.22 283.87,602.70 283.69,601.13 282.81,600.78 282.81,595.38 281.93,594.68 281.93,587.01 282.81,586.49 282.81,579.86 283.69,579.52 283.69,576.90 284.57,576.55 285.27,575.68 285.98,574.98 286.86,574.63Z"/>
<rect x="304" y="601.9" width="7" height="7" rx="2"/>
<path fill-rule="evenodd" d="M325.34,570.80 330.79,570.80 331.14,571.85 333.78,572.02 335.01,573.07 336.06,574.11 337.12,574.98 338.00,576.03 338.00,581.43 337.12,581.96 337.12,583.52 336.06,583.87 335.01,584.92 333.95,585.97 332.90,587.01 332.02,587.88 332.02,588.58 332.90,589.10 333.95,590.15 335.01,591.19 336.06,592.24 337.12,593.29 338.00,594.16 338.00,596.77 339.05,597.30 339.05,601.65 338.00,602.00 338.00,604.62 336.94,604.97 336.06,605.84 335.01,606.88 334.83,607.75 332.90,607.93 332.72,608.80 323.23,608.80 323.05,607.93 321.29,607.75 320.24,606.71 319.19,605.84 318.13,604.79 317.95,602.00 316.90,601.65 316.90,598.17 317.95,597.64 317.95,595.38 319.01,594.86 320.06,593.63 320.94,592.94 322.00,591.89 323.05,590.67 323.05,588.93 322.00,588.41 321.12,587.53 320.24,586.66 319.19,585.79 319.01,583.87 317.95,583.52 317.95,576.20 319.01,575.68 320.06,574.63 321.12,573.59 322.35,572.02 324.99,571.85ZM325.34,573.76 330.79,573.76 331.32,574.81 332.19,575.33 333.07,576.03 333.07,581.61 332.19,581.96 332.19,583.52 331.14,583.87 330.26,584.74 329.91,585.79 327.98,585.79 327.10,584.74 326.57,583.87 324.99,583.70 324.99,582.13 323.93,581.61 323.76,580.74 322.88,580.39 322.88,576.03 323.93,575.51 324.63,574.63ZM326.39,591.72 326.92,592.24 327.80,592.94 328.50,593.81 329.38,594.51 330.08,595.38 330.96,595.73 331.84,596.42 332.90,597.47 333.07,599.21 333.95,599.91 333.95,603.74 333.07,604.09 332.19,604.97 331.84,605.84 330.08,606.19 329.91,607.06 326.92,607.06 326.74,606.19 325.16,605.84 324.28,604.79 323.23,603.92 323.05,601.48 322.00,600.96 322.00,599.04 322.88,598.69 322.88,595.03 323.93,594.68 324.63,593.81 325.34,592.94 325.87,592.07Z"/>
<path fill-rule="evenodd" d="M286.15,708.80 290.73,708.80 291.08,709.85 292.84,710.02 293.89,711.07 294.95,711.94 296.00,712.98 297.06,714.03 297.94,714.90 298.11,716.82 298.99,717.17 298.99,720.83 300.05,721.35 300.05,734.42 298.99,734.95 298.99,738.61 297.94,738.96 297.94,740.70 296.88,741.05 296.00,741.92 296.00,743.66 294.95,743.84 292.84,744.88 292.66,745.75 290.73,745.93 290.55,746.80 285.27,746.80 284.92,745.93 283.16,745.75 282.28,744.71 281.23,743.84 280.17,742.79 279.12,741.74 278.94,740.00 278.06,739.65 277.89,737.74 276.83,737.39 276.83,733.03 275.95,732.51 275.95,723.09 276.83,722.74 276.83,719.08 277.89,718.74 277.89,716.12 278.94,715.60 279.64,714.90 279.82,713.16 280.88,712.63 281.23,711.76 282.28,710.89 283.16,710.02 285.80,709.85ZM287.21,711.76 289.85,711.76 290.20,712.81 291.25,713.33 291.96,714.03 292.13,715.60 293.01,716.12 293.01,719.61 293.89,720.13 293.89,735.64 293.01,736.17 293.01,739.65 292.13,740.18 291.96,741.74 291.08,742.27 290.02,743.14 289.85,744.01 286.15,744.01 285.80,743.14 284.92,742.79 284.75,741.22 283.87,740.70 283.69,739.13 282.81,738.78 282.81,733.38 281.93,732.68 281.93,725.01 282.81,724.49 282.81,717.86 283.69,717.52 283.69,714.90 284.57,714.55 285.27,713.68 285.98,712.98 286.86,712.63Z"/>
<rect x="304" y="739.9" width="7" height="7" rx="2"/>
<path fill-rule="evenodd" d="M332.14,708.80 338.95,708.80 338.95,710.55 334.94,710.72 334.59,711.60 332.84,711.77 332.49,712.64 331.09,712.82 330.74,713.69 329.87,713.87 329.35,714.74 328.30,715.62 327.95,716.49 327.08,716.84 326.73,717.71 326.03,718.06 326.03,719.64 324.98,719.99 324.98,721.56 323.93,721.91 323.93,723.66 324.98,723.83 325.33,722.78 334.76,722.78 335.11,723.66 335.98,724.01 337.03,725.05 337.90,726.10 338.95,726.98 338.95,729.77 340.00,730.30 340.00,736.59 338.95,736.94 338.95,739.73 338.08,740.08 337.90,741.83 336.86,742.18 335.98,743.23 334.94,743.93 334.59,744.80 332.84,744.98 332.67,745.85 329.87,746.03 329.70,746.90 326.20,746.90 326.03,746.03 323.23,745.85 322.36,744.80 321.31,743.75 320.27,742.71 319.22,741.66 318.17,740.78 318.00,737.81 316.95,737.46 316.95,733.79 315.90,733.27 315.90,729.07 316.95,728.72 316.95,724.01 318.00,723.66 318.00,721.03 319.04,720.51 319.74,719.64 319.92,718.06 320.96,717.71 321.84,716.66 323.06,715.27 324.28,713.87 325.33,712.82 326.20,711.77 327.25,710.90 329.00,710.72 329.35,709.85 331.97,709.67ZM326.20,725.75 329.70,725.75 330.05,726.63 331.09,726.98 331.79,727.85 332.84,728.55 333.01,729.60 333.01,731.69 333.89,732.04 333.89,739.73 333.01,740.08 333.01,741.66 332.14,742.01 331.09,743.06 330.92,743.93 327.08,743.93 326.73,743.06 325.85,742.36 324.98,741.66 323.93,740.78 323.76,739.38 322.89,738.86 322.89,735.37 322.01,735.02 322.01,731.00 322.89,730.65 322.89,728.20 323.76,727.85 324.28,726.98 325.85,726.80Z"/>
<path fill-rule="evenodd" d="M286.15,846.80 290.73,846.80 291.08,847.85 292.84,848.02 293.89,849.07 294.95,849.94 296.00,850.98 297.06,852.03 297.94,852.90 298.11,854.82 298.99,855.17 298.99,858.83 300.05,859.35 300.05,872.42 298.99,872.95 298.99,876.61 297.94,876.96 297.94,878.70 296.88,879.05 296.00,879.92 296.00,881.66 294.95,881.84 292.84,882.88 292.66,883.75 290.73,883.93 290.55,884.80 285.27,884.80 284.92,883.93 283.16,883.75 282.28,882.71 281.23,881.84 280.17,880.79 279.12,879.74 278.94,878.00 278.06,877.65 277.89,875.74 276.83,875.39 276.83,871.03 275.95,870.51 275.95,861.09 276.83,860.74 276.83,857.08 277.89,856.74 277.89,854.12 278.94,853.60 279.64,852.90 279.82,851.16 280.88,850.63 281.23,849.76 282.28,848.89 283.16,848.02 285.80,847.85ZM287.21,849.76 289.85,849.76 290.20,850.81 291.25,851.33 291.96,852.03 292.13,853.60 293.01,854.12 293.01,857.61 293.89,858.13 293.89,873.64 293.01,874.17 293.01,877.65 292.13,878.18 291.96,879.74 291.08,880.27 290.02,881.14 289.85,882.01 286.15,882.01 285.80,881.14 284.92,880.79 284.75,879.22 283.87,878.70 283.69,877.13 282.81,876.78 282.81,871.38 281.93,870.68 281.93,863.01 282.81,862.49 282.81,855.86 283.69,855.52 283.69,852.90 284.57,852.55 285.27,851.68 285.98,850.98 286.86,850.63Z"/>
<rect x="304" y="877.9" width="7" height="7" rx="2"/>
<path fill-rule="evenodd" d="M331.13,846.20 334.77,846.20 334.77,869.94 339.80,869.94 339.80,873.75 334.77,873.75 334.77,883.80 330.09,883.80 330.09,873.75 315.00,873.75 315.00,869.42 317.08,866.30 319.16,863.18 321.07,860.41 324.02,856.60 325.93,853.48 328.01,850.53 331.13,847.59ZM318.64,869.94 330.09,869.94 330.09,854.69 329.39,854.69 328.01,856.42 325.93,859.37 322.98,863.18 320.72,866.30 318.82,869.07Z"/>
<path fill-rule="evenodd" d="M286.15,983.80 290.73,983.80 291.08,984.85 292.84,985.02 293.89,986.07 294.95,986.94 296.00,987.98 297.06,989.03 297.94,989.90 298.11,991.82 298.99,992.17 298.99,995.83 300.05,996.35 300.05,1009.42 298.99,1009.95 298.99,1013.61 297.94,1013.96 297.94,1015.70 296.88,1016.05 296.00,1016.92 296.00,1018.66 294.95,1018.84 292.84,1019.88 292.66,1020.75 290.73,1020.93 290.55,1021.80 285.27,1021.80 284.92,1020.93 283.16,1020.75 282.28,1019.71 281.23,1018.84 280.17,1017.79 279.12,1016.74 278.94,1015.00 278.06,1014.65 277.89,1012.74 276.83,1012.39 276.83,1008.03 275.95,1007.51 275.95,998.09 276.83,997.74 276.83,994.08 277.89,993.74 277.89,991.12 278.94,990.60 279.64,989.90 279.82,988.16 280.88,987.63 281.23,986.76 282.28,985.89 283.16,985.02 285.80,984.85ZM287.21,986.76 289.85,986.76 290.20,987.81 291.25,988.33 291.96,989.03 292.13,990.60 293.01,991.12 293.01,994.61 293.89,995.13 293.89,1010.64 293.01,1011.17 293.01,1014.65 292.13,1015.18 291.96,1016.74 291.08,1017.27 290.02,1018.14 289.85,1019.01 286.15,1019.01 285.80,1018.14 284.92,1017.79 284.75,1016.22 283.87,1015.70 283.69,1014.13 282.81,1013.78 282.81,1008.38 281.93,1007.68 281.93,1000.01 282.81,999.49 282.81,992.86 283.69,992.52 283.69,989.90 284.57,989.55 285.27,988.68 285.98,987.98 286.86,987.63Z"/>
<rect x="304" y="1014.9" width="7" height="7" rx="2"/>
<path fill-rule="evenodd" d="M316.34,994.72 316.34,992.10 317.37,991.40 317.37,990.18 318.41,989.48 318.41,988.26 319.45,987.39 320.48,986.17 321.69,985.12 324.28,984.95 324.63,983.90 329.98,983.90 330.33,984.95 332.92,985.12 334.13,986.52 335.16,987.22 336.20,988.26 336.20,989.83 337.06,990.36 337.06,998.39 336.03,999.08 336.03,1000.83 335.16,1001.35 335.16,1002.75 333.95,1003.62 333.09,1004.32 333.09,1005.72 332.05,1006.41 331.19,1007.81 330.15,1008.86 329.29,1009.90 328.25,1010.60 327.22,1011.30 327.22,1012.70 326.35,1013.40 325.49,1014.27 325.15,1015.14 324.11,1015.49 324.28,1016.19 336.03,1016.19 336.89,1015.14 337.58,1014.09 340.00,1014.09 340.00,1014.79 338.96,1015.49 339.14,1017.76 338.10,1018.28 338.10,1019.85 337.06,1020.38 336.89,1020.90 315.30,1020.90 315.30,1019.15 316.34,1018.28 317.37,1017.23 318.58,1016.19 319.62,1015.14 320.65,1014.27 321.69,1013.05 322.73,1012.00 323.76,1010.95 324.63,1009.90 325.49,1008.86 326.53,1007.81 327.39,1006.94 328.25,1006.07 328.25,1005.02 329.29,1004.32 330.33,1003.62 330.33,1002.23 331.19,1001.70 331.19,999.26 332.23,998.73 332.23,993.85 331.19,993.32 331.19,991.93 330.15,991.23 329.29,990.18 327.39,989.83 327.05,988.79 324.28,988.79 323.94,989.83 322.04,990.01 321.69,990.71 320.14,991.06 319.45,991.93 319.10,992.80 319.27,993.67 318.24,994.20 317.89,994.72Z"/>
<path fill-rule="evenodd" d="M326.10,1122.00 330.68,1122.00 331.03,1123.05 332.79,1123.22 333.84,1124.27 334.90,1125.14 335.95,1126.18 337.01,1127.23 337.89,1128.10 338.06,1130.02 338.94,1130.37 338.94,1134.03 340.00,1134.55 340.00,1147.62 338.94,1148.15 338.94,1151.81 337.89,1152.16 337.89,1153.90 336.83,1154.25 335.95,1155.12 335.95,1156.86 334.90,1157.04 332.79,1158.08 332.61,1158.95 330.68,1159.13 330.50,1160.00 325.22,1160.00 324.87,1159.13 323.11,1158.95 322.23,1157.91 321.18,1157.04 320.12,1155.99 319.07,1154.94 318.89,1153.20 318.01,1152.85 317.84,1150.94 316.78,1150.59 316.78,1146.23 315.90,1145.71 315.90,1136.29 316.78,1135.94 316.78,1132.28 317.84,1131.94 317.84,1129.32 318.89,1128.80 319.59,1128.10 319.77,1126.36 320.83,1125.83 321.18,1124.96 322.23,1124.09 323.11,1123.22 325.75,1123.05ZM327.16,1124.96 329.80,1124.96 330.15,1126.01 331.20,1126.53 331.91,1127.23 332.08,1128.80 332.96,1129.32 332.96,1132.81 333.84,1133.33 333.84,1148.84 332.96,1149.37 332.96,1152.85 332.08,1153.38 331.91,1154.94 331.03,1155.47 329.97,1156.34 329.80,1157.21 326.10,1157.21 325.75,1156.34 324.87,1155.99 324.70,1154.42 323.82,1153.90 323.64,1152.33 322.76,1151.98 322.76,1146.58 321.88,1145.88 321.88,1138.21 322.76,1137.69 322.76,1131.06 323.64,1130.72 323.64,1128.10 324.52,1127.75 325.22,1126.88 325.93,1126.18 326.81,1125.83Z"/>
<rect x="362.90" y="1191" width="23.20" height="4"/>
<path d="M392.90,1180.91 392.90,1179.17 394.01,1177.42 395.48,1175.84 397.32,1174.10 398.61,1173.05 400.63,1172.00 407.45,1172.00 409.66,1173.22 411.50,1174.97 412.97,1176.37 412.97,1183.71 411.50,1185.11 409.66,1186.86 408.92,1187.90 410.76,1188.60 412.97,1190.70 414.08,1192.80 415.00,1193.50 415.00,1201.54 413.89,1202.93 413.34,1204.33 411.50,1206.08 409.66,1207.83 408.55,1209.05 405.24,1210.10 395.29,1210.10 394.01,1209.05 392.90,1207.83 392.90,1205.56 394.93,1205.03 395.48,1204.16 396.95,1204.16 397.50,1205.21 399.35,1205.56 400.08,1206.26 401.37,1207.13 404.50,1207.13 404.87,1206.26 406.71,1205.56 407.82,1204.33 408.92,1203.28 409.84,1202.93 409.84,1197.34 408.92,1196.64 407.82,1195.94 407.63,1194.20 405.98,1193.85 405.42,1192.97 403.40,1192.27 403.03,1191.92 399.35,1191.92 399.35,1190.18 401.37,1190.00 401.74,1189.13 403.40,1188.95 403.95,1188.08 404.87,1187.21 405.98,1186.16 406.90,1185.11 407.82,1184.76 407.82,1180.21 406.71,1179.17 405.79,1178.47 404.69,1177.42 404.32,1176.89 399.35,1176.89 398.61,1177.77 396.95,1178.12 396.22,1179.17 395.85,1180.04 395.85,1180.91Z"/>
<rect x="510.80" y="1191" width="22.50" height="4"/>
<path fill-rule="evenodd" d="M540.94,1182.82 540.94,1180.20 541.99,1179.50 541.99,1178.28 543.03,1177.58 543.03,1176.36 544.08,1175.49 545.12,1174.27 546.34,1173.22 548.95,1173.05 549.30,1172.00 554.70,1172.00 555.05,1173.05 557.66,1173.22 558.88,1174.62 559.92,1175.32 560.97,1176.36 560.97,1177.93 561.84,1178.46 561.84,1186.49 560.80,1187.18 560.80,1188.93 559.92,1189.45 559.92,1190.85 558.71,1191.72 557.83,1192.42 557.83,1193.82 556.79,1194.51 555.92,1195.91 554.87,1196.96 554.00,1198.00 552.96,1198.70 551.91,1199.40 551.91,1200.80 551.04,1201.50 550.17,1202.37 549.83,1203.24 548.78,1203.59 548.95,1204.29 560.80,1204.29 561.67,1203.24 562.36,1202.19 564.80,1202.19 564.80,1202.89 563.76,1203.59 563.93,1205.86 562.88,1206.38 562.88,1207.95 561.84,1208.48 561.67,1209.00 539.90,1209.00 539.90,1207.25 540.94,1206.38 541.99,1205.33 543.21,1204.29 544.25,1203.24 545.30,1202.37 546.34,1201.15 547.39,1200.10 548.43,1199.05 549.30,1198.00 550.17,1196.96 551.22,1195.91 552.09,1195.04 552.96,1194.17 552.96,1193.12 554.00,1192.42 555.05,1191.72 555.05,1190.33 555.92,1189.80 555.92,1187.36 556.96,1186.83 556.96,1181.95 555.92,1181.42 555.92,1180.03 554.87,1179.33 554.00,1178.28 552.09,1177.93 551.74,1176.89 548.95,1176.89 548.61,1177.93 546.69,1178.11 546.34,1178.81 544.78,1179.16 544.08,1180.03 543.73,1180.90 543.90,1181.77 542.86,1182.30 542.51,1182.82Z"/>
<rect x="659.00" y="1191" width="22.00" height="4"/>
<path d="M694.18,1209.00 707.90,1209.00 707.90,1205.96 705.43,1205.96 704.05,1205.07 704.05,1171.60 701.09,1171.60 693.00,1175.72 693.00,1177.20 694.78,1177.20 696.26,1175.13 698.13,1177.49 698.13,1205.07 696.75,1205.96 694.18,1205.96Z"/>
<path fill-rule="evenodd" d="M826.25,1172.00 830.84,1172.00 831.19,1173.04 832.96,1173.22 834.02,1174.26 835.08,1175.13 836.14,1176.17 837.20,1177.22 838.08,1178.08 838.26,1180.00 839.14,1180.34 839.14,1184.00 840.20,1184.52 840.20,1197.56 839.14,1198.08 839.14,1201.73 838.08,1202.08 838.08,1203.82 837.02,1204.16 836.14,1205.03 836.14,1206.77 835.08,1206.94 832.96,1207.99 832.78,1208.86 830.84,1209.03 830.66,1209.90 825.36,1209.90 825.01,1209.03 823.24,1208.86 822.36,1207.81 821.30,1206.94 820.24,1205.90 819.18,1204.86 819.00,1203.12 818.12,1202.77 817.94,1200.86 816.88,1200.51 816.88,1196.17 816.00,1195.64 816.00,1186.26 816.88,1185.91 816.88,1182.26 817.94,1181.91 817.94,1179.30 819.00,1178.78 819.71,1178.08 819.89,1176.35 820.95,1175.82 821.30,1174.96 822.36,1174.09 823.24,1173.22 825.89,1173.04ZM827.31,1174.96 829.95,1174.96 830.31,1176.00 831.37,1176.52 832.07,1177.22 832.25,1178.78 833.13,1179.30 833.13,1182.78 834.02,1183.30 834.02,1198.77 833.13,1199.29 833.13,1202.77 832.25,1203.29 832.07,1204.86 831.19,1205.38 830.13,1206.25 829.95,1207.12 826.25,1207.12 825.89,1206.25 825.01,1205.90 824.83,1204.34 823.95,1203.82 823.77,1202.25 822.89,1201.90 822.89,1196.51 822.01,1195.82 822.01,1188.17 822.89,1187.65 822.89,1181.04 823.77,1180.69 823.77,1178.08 824.66,1177.74 825.36,1176.87 826.07,1176.17 826.95,1175.82Z"/>
<path d="M972.82,1209.00 987.00,1209.00 987.00,1205.96 984.45,1205.96 983.02,1205.07 983.02,1171.60 979.96,1171.60 971.60,1175.72 971.60,1177.20 973.44,1177.20 974.97,1175.13 976.90,1177.49 976.90,1205.07 975.48,1205.96 972.82,1205.96Z"/>
<path fill-rule="evenodd" d="M1115.43,1182.82 1115.43,1180.20 1116.46,1179.50 1116.46,1178.28 1117.50,1177.58 1117.50,1176.36 1118.53,1175.49 1119.56,1174.27 1120.77,1173.22 1123.35,1173.05 1123.69,1172.00 1129.02,1172.00 1129.37,1173.05 1131.95,1173.22 1133.15,1174.62 1134.18,1175.32 1135.22,1176.36 1135.22,1177.93 1136.08,1178.46 1136.08,1186.49 1135.04,1187.18 1135.04,1188.93 1134.18,1189.45 1134.18,1190.85 1132.98,1191.72 1132.12,1192.42 1132.12,1193.82 1131.09,1194.51 1130.23,1195.91 1129.19,1196.96 1128.33,1198.00 1127.30,1198.70 1126.27,1199.40 1126.27,1200.80 1125.41,1201.50 1124.55,1202.37 1124.21,1203.24 1123.17,1203.59 1123.35,1204.29 1135.04,1204.29 1135.90,1203.24 1136.59,1202.19 1139.00,1202.19 1139.00,1202.89 1137.97,1203.59 1138.14,1205.86 1137.11,1206.38 1137.11,1207.95 1136.08,1208.48 1135.90,1209.00 1114.40,1209.00 1114.40,1207.25 1115.43,1206.38 1116.46,1205.33 1117.67,1204.29 1118.70,1203.24 1119.73,1202.37 1120.77,1201.15 1121.80,1200.10 1122.83,1199.05 1123.69,1198.00 1124.55,1196.96 1125.58,1195.91 1126.44,1195.04 1127.30,1194.17 1127.30,1193.12 1128.33,1192.42 1129.37,1191.72 1129.37,1190.33 1130.23,1189.80 1130.23,1187.36 1131.26,1186.83 1131.26,1181.95 1130.23,1181.42 1130.23,1180.03 1129.19,1179.33 1128.33,1178.28 1126.44,1177.93 1126.10,1176.89 1123.35,1176.89 1123.00,1177.93 1121.11,1178.11 1120.77,1178.81 1119.22,1179.16 1118.53,1180.03 1118.18,1180.90 1118.36,1181.77 1117.32,1182.30 1116.98,1182.82Z"/>
<path d="M1263.00,1180.84 1263.00,1179.11 1264.05,1177.38 1265.44,1175.81 1267.18,1174.08 1268.40,1173.04 1270.32,1172.00 1276.76,1172.00 1278.85,1173.21 1280.59,1174.95 1281.98,1176.33 1281.98,1183.62 1280.59,1185.00 1278.85,1186.74 1278.15,1187.78 1279.89,1188.47 1281.98,1190.55 1283.03,1192.63 1283.90,1193.33 1283.90,1201.30 1282.86,1202.69 1282.33,1204.08 1280.59,1205.81 1278.85,1207.55 1277.80,1208.76 1274.67,1209.80 1265.26,1209.80 1264.05,1208.76 1263.00,1207.55 1263.00,1205.29 1264.92,1204.77 1265.44,1203.90 1266.83,1203.90 1267.35,1204.94 1269.10,1205.29 1269.79,1205.99 1271.01,1206.85 1273.97,1206.85 1274.32,1205.99 1276.06,1205.29 1277.11,1204.08 1278.15,1203.04 1279.02,1202.69 1279.02,1197.14 1278.15,1196.45 1277.11,1195.76 1276.93,1194.02 1275.37,1193.67 1274.84,1192.81 1272.93,1192.11 1272.58,1191.77 1269.10,1191.77 1269.10,1190.03 1271.01,1189.86 1271.36,1188.99 1272.93,1188.82 1273.45,1187.95 1274.32,1187.09 1275.37,1186.04 1276.24,1185.00 1277.11,1184.66 1277.11,1180.15 1276.06,1179.11 1275.19,1178.42 1274.15,1177.38 1273.80,1176.86 1269.10,1176.86 1268.40,1177.72 1266.83,1178.07 1266.13,1179.11 1265.79,1179.98 1265.79,1180.84Z"/>
<path fill-rule="evenodd" d="M58.10,618.62 58.10,616.00 59.11,615.30 59.11,614.08 60.11,613.38 60.11,612.16 61.11,611.29 62.11,610.07 63.28,609.02 65.79,608.85 66.13,607.80 71.31,607.80 71.64,608.85 74.15,609.02 75.32,610.42 76.32,611.12 77.32,612.16 77.32,613.73 78.16,614.26 78.16,622.29 77.16,622.98 77.16,624.73 76.32,625.25 76.32,626.65 75.15,627.52 74.31,628.22 74.31,629.62 73.31,630.31 72.48,631.71 71.47,632.76 70.64,633.80 69.63,634.50 68.63,635.20 68.63,636.60 67.80,637.30 66.96,638.17 66.63,639.04 65.62,639.39 65.79,640.09 77.16,640.09 77.99,639.04 78.66,637.99 81.00,637.99 81.00,638.69 80.00,639.39 80.16,641.66 79.16,642.18 79.16,643.75 78.16,644.28 77.99,644.80 57.10,644.80 57.10,643.05 58.10,642.18 59.11,641.13 60.28,640.09 61.28,639.04 62.28,638.17 63.28,636.95 64.29,635.90 65.29,634.85 66.13,633.80 66.96,632.76 67.96,631.71 68.80,630.84 69.63,629.97 69.63,628.92 70.64,628.22 71.64,627.52 71.64,626.13 72.48,625.60 72.48,623.16 73.48,622.63 73.48,617.75 72.48,617.22 72.48,615.83 71.47,615.13 70.64,614.08 68.80,613.73 68.47,612.69 65.79,612.69 65.46,613.73 63.62,613.91 63.28,614.61 61.78,614.96 61.11,615.83 60.78,616.70 60.94,617.57 59.94,618.10 59.61,618.62Z"/>
<path fill-rule="evenodd" d="M25.00,574.34 26.27,573.07 48.87,573.07 49.29,573.91 51.83,574.13 53.94,575.60 56.89,578.35 57.95,580.46 57.95,587.43 56.89,588.07 56.89,589.97 54.78,591.24 54.57,592.71 52.88,592.93 50.56,595.88 47.81,596.09 47.60,596.94 44.85,597.15 44.64,598.00 34.08,598.00 33.66,596.94 31.97,596.94 31.97,599.69 30.91,600.11 30.91,602.85 29.86,603.28 29.86,606.66 28.80,607.08 28.80,609.83 27.74,610.25 27.74,615.95 32.81,615.95 32.81,617.43 31.76,618.91 14.01,618.91 14.01,615.95 17.82,615.95 19.08,614.47 20.14,613.63 20.14,611.94 21.20,611.09 21.20,609.83 22.25,609.40 22.25,606.23 23.10,605.81 23.10,603.07 24.15,602.64 24.15,599.26 25.21,598.84 25.21,596.09 26.27,595.88 26.27,592.29 27.32,591.87 27.32,589.12 28.17,588.70 28.17,586.17 29.22,585.74 29.22,582.15 30.07,581.73 30.07,575.82 27.32,575.82 26.90,574.76 25.00,574.76ZM38.09,576.87 46.76,576.87 47.18,577.93 48.87,578.35 49.92,580.25 49.92,581.94 50.98,582.58 50.98,584.69 49.92,585.32 49.92,587.65 48.87,588.28 48.45,589.76 46.12,592.08 45.07,593.14 43.80,593.77 41.26,593.98 40.84,595.04 35.98,595.04 35.77,594.19 32.81,593.98 33.02,593.14 33.87,592.71 34.08,588.91 34.93,588.49 34.93,585.96 35.77,585.53 35.77,581.94 36.83,581.52 37.04,579.20 37.88,578.77Z"/>
<path fill-rule="evenodd" d="M192.16,571.03 196.76,571.03 197.19,571.91 199.82,572.13 200.91,573.88 202.88,574.10 204.20,575.19 205.07,576.28 205.29,577.82 206.60,578.69 206.82,580.88 207.92,581.32 208.14,582.85 209.01,583.29 209.01,586.79 209.89,587.23 209.89,602.54 209.01,602.98 209.01,607.36 207.92,607.79 207.92,609.76 206.82,610.20 206.60,611.73 205.73,612.17 205.51,613.70 204.20,614.58 202.88,616.11 201.79,616.98 201.57,617.86 199.82,618.08 199.38,618.95 196.76,619.17 196.54,620.05 192.16,620.05 191.94,618.95 189.32,618.74 188.66,617.86 187.13,617.64 186.25,616.77 185.16,615.89 184.28,614.80 183.19,613.48 182.97,611.95 182.10,611.51 181.88,609.98 181.00,609.54 181.00,607.14 180.13,606.70 180.13,599.70 179.03,599.26 179.03,590.07 180.13,589.63 180.13,584.16 181.00,583.72 181.00,582.41 182.10,581.97 182.10,580.00 183.19,579.57 183.19,578.25 184.28,577.60 185.38,576.50 186.25,575.19 187.13,574.53 188.00,573.00 189.97,572.78 190.19,571.91 191.94,571.69ZM193.26,574.97 196.76,574.97 197.19,575.85 198.29,576.28 198.95,577.38 199.16,578.69 200.04,579.13 200.26,580.88 200.91,581.10 200.91,584.60 202.01,585.04 202.01,592.91 186.91,592.91 186.91,587.23 187.79,586.79 187.79,581.97 188.88,581.54 188.88,580.00 189.75,579.57 189.97,577.82 190.85,577.38 190.85,575.85 192.82,575.63ZM186.91,596.85 202.01,596.85 202.01,605.61 200.91,606.04 200.91,608.67 200.04,609.11 200.04,611.73 199.16,612.17 197.85,613.26 197.19,614.36 196.10,614.80 195.66,615.89 193.26,615.89 192.82,615.02 191.94,614.36 190.63,613.26 189.75,612.61 189.75,611.08 188.88,610.64 188.88,609.11 188.00,608.89 188.00,603.20 186.91,602.76Z"/>
<path fill-rule="evenodd" d="M99.07,622.03 103.05,622.03 103.29,621.07 108.84,621.07 108.84,621.67 108.00,621.91 107.88,625.65 107.15,625.90 107.03,627.95 107.88,627.95 108.24,627.10 109.33,626.14 109.45,625.17 110.41,624.33 111.26,623.24 112.22,622.03 114.03,621.91 114.28,621.07 119.83,621.07 119.95,623.00 120.79,623.36 120.91,626.62 119.95,626.98 119.95,630.48 118.86,630.84 118.86,633.74 117.90,633.98 117.90,637.84 116.93,638.09 116.81,641.34 117.17,641.34 118.14,640.38 119.34,639.05 121.76,639.05 121.88,639.65 120.91,640.02 120.79,641.83 119.83,642.19 118.74,643.15 117.78,644.24 117.65,644.72 115.84,644.84 115.72,645.81 112.22,645.81 111.98,644.96 111.14,644.60 111.02,640.14 111.98,639.90 111.98,637.12 112.95,636.76 113.07,633.26 114.03,632.90 114.03,630.24 115.00,629.88 115.00,624.93 113.91,624.93 113.79,625.78 112.10,626.14 110.90,627.34 109.81,628.43 108.84,629.40 108.72,630.72 107.76,631.09 107.15,632.05 107.15,633.86 106.07,634.10 105.95,635.79 104.74,636.15 104.62,637.96 103.78,638.21 103.78,639.90 102.93,640.14 102.93,642.67 101.97,642.91 101.84,644.72 97.14,644.72 97.14,642.07 98.10,641.83 98.10,639.05 99.07,638.81 99.07,636.15 100.03,635.91 100.03,632.17 101.12,631.93 101.12,629.15 101.97,628.91 101.97,623.60 99.07,623.60Z"/>
<path fill-rule="evenodd" d="M163.44,561.07 165.66,561.07 166.93,562.66 166.61,563.93 164.71,565.51 163.12,567.10 161.85,568.37 161.54,569.63 160.90,571.22 159.95,572.80 159.00,574.71 158.68,576.61 158.05,577.56 157.73,581.68 156.78,582.32 156.78,613.70 157.73,614.34 157.73,618.78 159.00,619.41 159.00,621.95 160.27,623.22 161.54,625.75 162.17,627.66 163.76,629.56 165.66,631.46 166.93,632.73 166.61,634.00 165.34,634.95 163.44,634.95 161.85,633.05 160.27,631.14 158.68,629.56 157.10,628.29 156.78,626.39 155.51,625.44 153.93,623.22 153.29,621.95 152.98,618.78 152.02,617.83 151.39,614.66 150.12,610.53 150.12,585.17 151.07,584.54 151.07,580.10 152.02,579.15 152.02,576.93 152.98,575.97 153.29,574.07 154.24,572.49 154.88,570.90 155.83,569.63 157.10,568.68 157.41,567.10 159.00,565.51 160.90,563.61 162.17,562.34Z"/>
<path fill-rule="evenodd" d="M223.33,560.80 221.08,560.80 219.80,562.39 220.12,563.66 222.05,565.25 223.65,566.83 224.93,568.10 225.25,569.38 225.89,570.96 226.86,572.55 227.82,574.46 228.14,576.36 228.78,577.32 229.10,581.44 230.06,582.08 230.06,613.52 229.10,614.16 229.10,618.60 227.82,619.24 227.82,621.78 226.54,623.05 225.25,625.59 224.61,627.50 223.01,629.40 221.08,631.31 219.80,632.58 220.12,633.85 221.40,634.80 223.33,634.80 224.93,632.89 226.54,630.99 228.14,629.40 229.74,628.13 230.06,626.22 231.35,625.27 232.95,623.05 233.59,621.78 233.91,618.60 234.88,617.65 235.52,614.47 236.80,610.35 236.80,584.94 235.84,584.30 235.84,579.86 234.88,578.90 234.88,576.68 233.91,575.73 233.59,573.82 232.63,572.23 231.99,570.65 231.03,569.38 229.74,568.42 229.42,566.83 227.82,565.25 225.89,563.34 224.61,562.07Z"/>
<path fill-rule="evenodd" d="M73.07,536.90 74.94,536.90 76.00,538.14 75.73,539.14 74.14,540.38 72.81,541.62 71.74,542.62 71.48,543.61 70.95,544.85 70.15,546.09 69.35,547.59 69.08,549.08 68.55,549.82 68.28,553.05 67.49,553.55 67.49,578.15 68.28,578.65 68.28,582.13 69.35,582.62 69.35,584.61 70.41,585.61 71.48,587.59 72.01,589.08 73.34,590.58 74.94,592.07 76.00,593.06 75.73,594.05 74.67,594.80 73.07,594.80 71.74,593.31 70.41,591.82 69.08,590.58 67.75,589.58 67.49,588.09 66.42,587.35 65.09,585.61 64.56,584.61 64.29,582.13 63.50,581.38 62.96,578.90 61.90,575.67 61.90,555.79 62.70,555.29 62.70,551.81 63.50,551.06 63.50,549.32 64.29,548.58 64.56,547.09 65.36,545.85 65.89,544.60 66.69,543.61 67.75,542.86 68.02,541.62 69.35,540.38 70.95,538.89 72.01,537.89Z"/>
<path fill-rule="evenodd" d="M121.91,537.00 120.06,537.00 119.00,538.24 119.26,539.23 120.85,540.47 122.17,541.71 123.23,542.71 123.49,543.70 124.02,544.94 124.81,546.18 125.60,547.67 125.87,549.16 126.40,549.90 126.66,553.12 127.45,553.62 127.45,578.18 126.66,578.68 126.66,582.15 125.60,582.64 125.60,584.63 124.55,585.62 123.49,587.61 122.96,589.09 121.64,590.58 120.06,592.07 119.00,593.06 119.26,594.06 120.32,594.80 121.91,594.80 123.23,593.31 124.55,591.82 125.87,590.58 127.19,589.59 127.45,588.10 128.51,587.36 129.83,585.62 130.36,584.63 130.62,582.15 131.42,581.40 131.94,578.92 133.00,575.70 133.00,555.85 132.21,555.36 132.21,551.88 131.42,551.14 131.42,549.40 130.62,548.66 130.36,547.17 129.57,545.93 129.04,544.69 128.25,543.70 127.19,542.95 126.92,541.71 125.60,540.47 124.02,538.98 122.96,537.99Z"/>
<path fill-rule="evenodd" d="M749.85,1245.80 754.45,1245.80 754.89,1246.67 757.52,1246.89 758.61,1248.63 760.59,1248.84 761.90,1249.93 762.78,1251.02 763.00,1252.54 764.31,1253.41 764.53,1255.58 765.63,1256.02 765.85,1257.54 766.72,1257.97 766.72,1261.45 767.60,1261.89 767.60,1277.11 766.72,1277.54 766.72,1281.89 765.63,1282.33 765.63,1284.28 764.53,1284.72 764.31,1286.24 763.44,1286.67 763.22,1288.20 761.90,1289.06 760.59,1290.59 759.49,1291.46 759.27,1292.33 757.52,1292.54 757.08,1293.41 754.45,1293.63 754.23,1294.50 749.85,1294.50 749.63,1293.41 747.00,1293.20 746.34,1292.33 744.81,1292.11 743.93,1291.24 742.84,1290.37 741.96,1289.28 740.86,1287.98 740.64,1286.46 739.77,1286.02 739.55,1284.50 738.67,1284.06 738.67,1281.67 737.80,1281.24 737.80,1274.28 736.70,1273.85 736.70,1264.71 737.80,1264.28 737.80,1258.84 738.67,1258.41 738.67,1257.11 739.77,1256.67 739.77,1254.71 740.86,1254.28 740.86,1252.97 741.96,1252.32 743.06,1251.24 743.93,1249.93 744.81,1249.28 745.69,1247.76 747.66,1247.54 747.88,1246.67 749.63,1246.45ZM750.94,1249.71 754.45,1249.71 754.89,1250.58 755.99,1251.02 756.64,1252.10 756.86,1253.41 757.74,1253.84 757.96,1255.58 758.61,1255.80 758.61,1259.28 759.71,1259.71 759.71,1267.54 744.59,1267.54 744.59,1261.89 745.47,1261.45 745.47,1256.67 746.56,1256.24 746.56,1254.71 747.44,1254.28 747.66,1252.54 748.53,1252.10 748.53,1250.58 750.51,1250.37ZM744.59,1271.45 759.71,1271.45 759.71,1280.15 758.61,1280.59 758.61,1283.19 757.74,1283.63 757.74,1286.24 756.86,1286.67 755.55,1287.76 754.89,1288.85 753.79,1289.28 753.36,1290.37 750.94,1290.37 750.51,1289.50 749.63,1288.85 748.31,1287.76 747.44,1287.11 747.44,1285.59 746.56,1285.15 746.56,1283.63 745.69,1283.41 745.69,1277.76 744.59,1277.32Z"/>
<path fill-rule="evenodd" d="M788.92,1244.80 790.95,1244.80 792.10,1246.13 791.81,1247.19 790.08,1248.52 788.64,1249.85 787.48,1250.91 787.19,1251.97 786.62,1253.30 785.75,1254.63 784.88,1256.22 784.59,1257.82 784.02,1258.61 783.73,1262.07 782.86,1262.60 782.86,1288.90 783.73,1289.43 783.73,1293.15 784.88,1293.68 784.88,1295.81 786.04,1296.87 787.19,1299.00 787.77,1300.59 789.21,1302.18 790.95,1303.78 792.10,1304.84 791.81,1305.90 790.66,1306.70 788.92,1306.70 787.48,1305.11 786.04,1303.51 784.59,1302.18 783.15,1301.12 782.86,1299.53 781.71,1298.73 780.26,1296.87 779.69,1295.81 779.40,1293.15 778.53,1292.35 777.95,1289.70 776.80,1286.24 776.80,1264.99 777.67,1264.46 777.67,1260.74 778.53,1259.94 778.53,1258.08 779.40,1257.29 779.69,1255.69 780.55,1254.36 781.13,1253.04 782.00,1251.97 783.15,1251.18 783.44,1249.85 784.88,1248.52 786.62,1246.93 787.77,1245.86Z"/>
<path fill-rule="evenodd" d="M904.57,1244.80 902.62,1244.80 901.50,1246.13 901.78,1247.19 903.45,1248.52 904.85,1249.85 905.97,1250.91 906.25,1251.97 906.81,1253.30 907.64,1254.63 908.48,1256.22 908.76,1257.82 909.32,1258.61 909.60,1262.07 910.44,1262.60 910.44,1288.90 909.60,1289.43 909.60,1293.15 908.48,1293.68 908.48,1295.81 907.36,1296.87 906.25,1299.00 905.69,1300.59 904.29,1302.18 902.62,1303.78 901.50,1304.84 901.78,1305.90 902.90,1306.70 904.57,1306.70 905.97,1305.11 907.36,1303.51 908.76,1302.18 910.16,1301.12 910.44,1299.53 911.55,1298.73 912.95,1296.87 913.51,1295.81 913.79,1293.15 914.62,1292.35 915.18,1289.70 916.30,1286.24 916.30,1264.99 915.46,1264.46 915.46,1260.74 914.62,1259.94 914.62,1258.08 913.79,1257.29 913.51,1255.69 912.67,1254.36 912.11,1253.04 911.27,1251.97 910.16,1251.18 909.88,1249.85 908.48,1248.52 906.81,1246.93 905.69,1245.86Z"/>
<path fill-rule="evenodd" d="M804.05,1264.05 811.06,1264.05 811.30,1262.84 816.87,1262.84 816.87,1263.81 815.90,1264.29 815.90,1267.68 814.93,1268.16 814.93,1270.58 813.97,1271.06 813.97,1272.76 814.93,1272.76 816.14,1271.06 816.38,1270.09 817.84,1268.89 819.53,1267.19 820.74,1265.74 821.95,1264.77 823.16,1263.08 827.75,1263.08 828.96,1264.29 828.96,1268.40 828.00,1269.13 827.75,1270.82 825.82,1271.06 825.33,1272.03 824.12,1272.03 823.16,1271.06 822.92,1269.13 821.46,1268.89 820.74,1269.61 819.53,1270.82 818.32,1272.03 817.84,1273.72 816.38,1274.69 815.17,1276.14 814.93,1277.84 813.24,1278.80 812.76,1280.74 811.30,1281.71 811.06,1283.64 810.09,1284.37 810.09,1286.06 809.13,1286.79 808.89,1291.87 807.68,1292.83 802.11,1292.83 802.11,1291.38 803.08,1290.90 803.08,1288.00 804.05,1287.51 804.05,1284.85 805.01,1284.37 805.01,1281.22 805.98,1280.74 805.98,1278.08 806.95,1277.59 806.95,1274.93 807.92,1274.45 808.16,1271.06 809.13,1270.58 809.13,1266.95 804.05,1266.95Z"/>
<path fill-rule="evenodd" d="M843.23,1262.84 850.73,1262.84 851.70,1264.05 851.70,1265.74 852.91,1265.98 853.15,1263.08 858.96,1263.08 858.96,1266.47 857.99,1266.95 857.75,1269.85 856.78,1270.34 856.78,1273.72 855.81,1274.21 855.81,1276.87 854.85,1277.35 854.60,1280.74 853.64,1281.22 853.64,1283.64 852.91,1284.12 852.91,1287.75 851.94,1288.24 851.94,1288.96 853.64,1288.96 854.85,1287.51 857.51,1284.85 858.96,1286.30 858.96,1287.51 857.51,1288.96 856.06,1290.41 854.85,1291.62 853.64,1292.83 851.70,1293.07 851.46,1293.80 847.35,1293.80 847.10,1293.07 845.90,1292.35 845.90,1288.24 844.93,1288.24 843.48,1289.69 842.27,1290.90 840.57,1292.59 838.88,1293.07 838.40,1293.80 832.35,1293.80 831.87,1293.07 830.41,1291.87 829.20,1290.66 828.96,1280.25 829.93,1279.77 830.17,1277.11 831.14,1276.63 831.38,1274.93 832.35,1273.72 832.83,1272.51 834.04,1271.79 834.28,1270.09 835.98,1269.37 836.95,1267.68 838.64,1266.22 839.85,1265.74 841.30,1264.05 842.99,1263.81ZM844.93,1265.74 849.77,1265.74 850.25,1267.68 850.98,1268.16 850.98,1273.00 850.01,1273.48 850.01,1277.11 849.04,1277.59 848.80,1279.04 847.83,1279.53 847.59,1280.98 846.38,1281.71 845.90,1283.16 845.17,1284.37 844.20,1285.09 842.99,1286.54 841.78,1287.75 840.09,1288.24 837.43,1288.96 835.25,1287.27 835.01,1280.25 835.98,1279.77 836.22,1277.84 836.95,1277.35 837.19,1274.69 838.15,1273.97 838.88,1272.51 839.85,1272.03 840.09,1270.34 841.06,1269.37 842.27,1268.16 842.99,1267.19 844.69,1266.95Z"/>
<path fill-rule="evenodd" d="M885.97,1247.07 892.09,1247.07 892.30,1246.01 898.00,1246.01 898.00,1247.28 896.95,1247.91 896.95,1250.86 895.89,1251.29 895.89,1254.66 894.83,1255.09 894.83,1257.83 893.78,1258.25 893.78,1261.84 892.72,1262.26 892.72,1264.79 891.88,1265.22 891.88,1268.80 891.04,1269.23 891.04,1271.55 889.98,1271.97 889.98,1274.71 888.93,1275.14 888.93,1278.72 887.87,1279.15 887.87,1281.89 887.03,1282.31 887.03,1285.69 886.18,1286.11 886.18,1288.86 886.81,1288.86 888.08,1287.38 889.14,1286.32 890.40,1285.06 891.88,1285.06 892.09,1287.38 891.04,1288.22 889.77,1289.70 888.50,1290.97 887.24,1292.23 886.60,1292.87 885.13,1292.87 884.92,1293.92 881.12,1293.92 880.06,1292.87 879.85,1286.74 879.01,1286.96 877.95,1288.01 876.68,1289.28 875.21,1290.97 873.73,1292.44 871.83,1292.87 871.62,1293.92 866.13,1293.92 865.92,1292.87 864.02,1292.65 862.75,1291.18 861.91,1289.70 861.91,1280.41 862.96,1279.99 862.96,1277.25 864.02,1276.82 864.23,1275.14 865.08,1274.50 865.29,1273.24 866.55,1272.18 868.03,1270.49 868.24,1269.02 869.51,1267.96 870.99,1267.75 871.83,1266.69 873.31,1265.43 874.15,1265.01 875.42,1263.95 877.11,1263.74 877.32,1262.89 884.92,1262.89 885.34,1263.95 886.81,1263.95 886.81,1261.42 887.87,1261.00 888.08,1257.20 888.93,1256.77 888.93,1254.24 889.77,1253.82 889.98,1249.81 885.97,1249.81ZM880.27,1264.79 880.48,1265.01 882.38,1265.85 883.65,1266.91 884.07,1268.59 885.13,1269.86 884.92,1270.92 884.07,1271.13 883.86,1274.71 883.02,1275.14 883.02,1276.61 881.96,1277.25 881.75,1278.72 880.91,1279.15 880.06,1280.41 880.06,1281.68 879.01,1281.89 877.95,1283.16 877.95,1284.63 876.68,1285.48 875.84,1286.32 874.57,1287.80 872.88,1288.22 872.67,1288.86 869.93,1288.86 869.09,1287.80 867.82,1286.74 867.82,1282.52 868.66,1281.89 868.66,1279.57 869.72,1278.94 869.72,1275.98 870.77,1275.56 870.99,1274.08 872.04,1273.45 872.88,1272.60 873.10,1271.34 874.15,1270.49 875.00,1269.65 876.05,1268.80 877.11,1267.75 877.95,1266.48 878.37,1265.85 880.06,1265.85Z"/>
<path d="M88.9,580.8 92.4,582.7 94.7,582.7 97.7,581.7 99.2,580.0 101.1,578.7 102.6,579.3 104.1,581.6 106.0,582.7 107.9,582.7 110.5,581.6 112.8,579.3 113.7,577.8 113.9,575.1 112.0,575.0 111.3,577.0 109.4,579.1 107.9,578.2 107.0,576.7 107.0,554.0 101.0,554.0 101.0,574.8 98.9,576.3 97.2,577.0 94.3,578.2 92.4,576.7 91.1,574.0 91.0,554.0 86.0,554.0 86.0,581.6 85.1,582.1 84.1,587.0 84.1,591.7 85.5,592.9 87.5,593.8 90.0,592.9 90.0,584.2 88.9,583.8Z"/>
</g>
</svg>
</body></html>
